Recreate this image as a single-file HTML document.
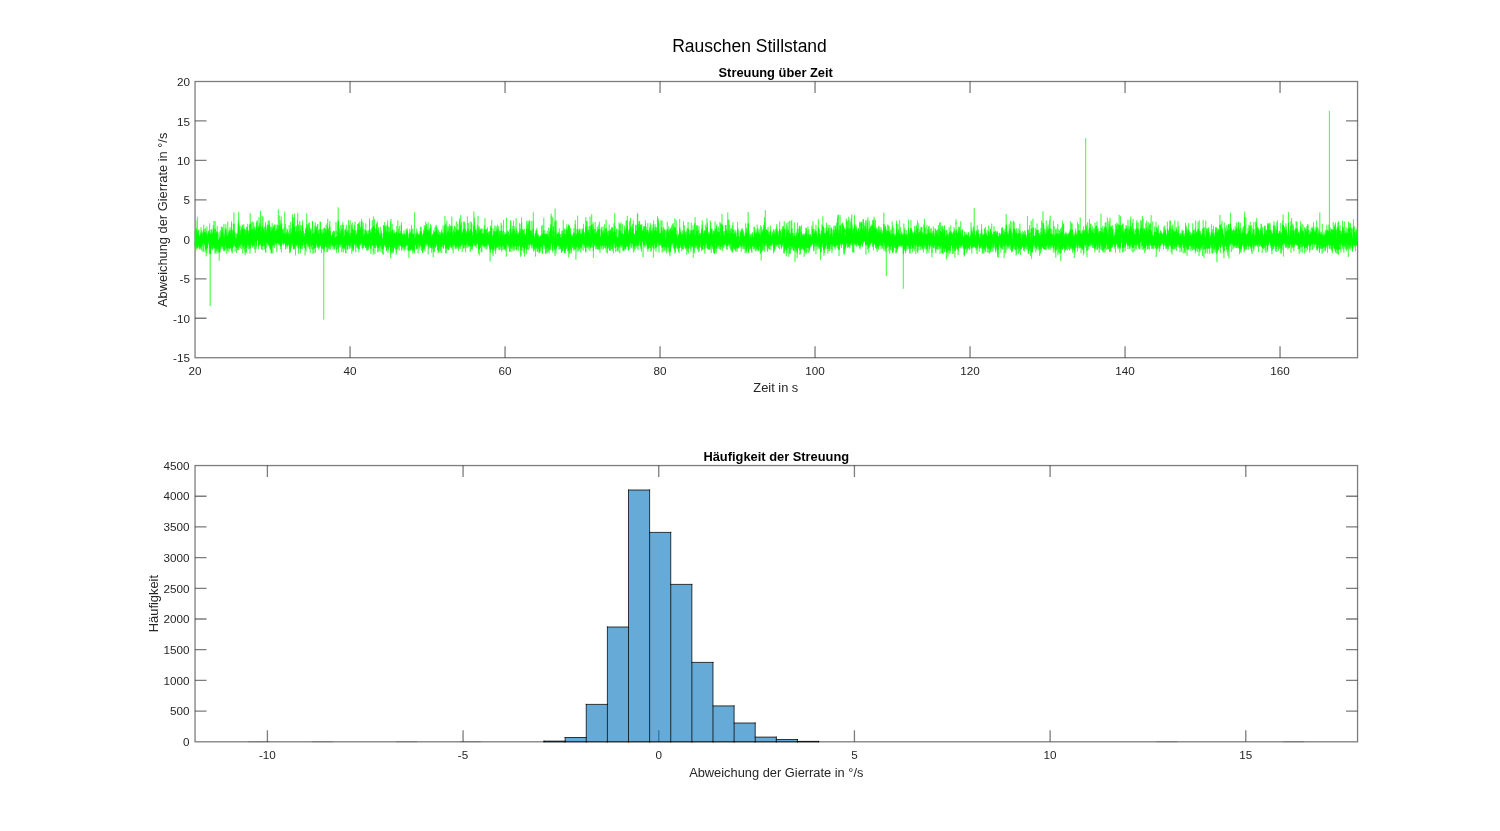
<!DOCTYPE html>
<html lang="de"><head><meta charset="utf-8"><title>Rauschen Stillstand</title>
<style>html,body{margin:0;padding:0;background:#fff;}body{width:1500px;height:831px;overflow:hidden;font-family:"Liberation Sans",sans-serif;}svg{display:block;position:absolute;left:0;top:0;will-change:transform;}text{font-family:"Liberation Sans",sans-serif;fill:#262626;}.tk{font-size:11.7px;}.lb{font-size:12.85px;}.tt{font-size:12.86px;font-weight:bold;fill:#000;}.sg{font-size:17.5px;fill:#000;}.ax{stroke:#262626;stroke-width:1.3;stroke-opacity:0.6;fill:none;}</style></head><body>
<svg width="1500" height="831" viewBox="0 0 1500 831">
<rect x="0" y="0" width="1500" height="831" fill="#ffffff"/>
<text class="sg" x="749.5" y="52.3" text-anchor="middle">Rauschen Stillstand</text>
<text class="tt" x="775.7" y="77.2" text-anchor="middle">Streuung über Zeit</text>
<g class="ax">
<rect x="195.05" y="81.5" width="1162.5" height="276.22"/>
<path d="M350.05 357.72v-11.50M350.05 81.50v11.50M505.05 357.72v-11.50M505.05 81.50v11.50M660.05 357.72v-11.50M660.05 81.50v11.50M815.05 357.72v-11.50M815.05 81.50v11.50M970.05 357.72v-11.50M970.05 81.50v11.50M1125.05 357.72v-11.50M1125.05 81.50v11.50M1280.05 357.72v-11.50M1280.05 81.50v11.50M195.05 318.26h11.50M1357.55 318.26h-11.50M195.05 278.80h11.50M1357.55 278.80h-11.50M195.05 239.34h11.50M1357.55 239.34h-11.50M195.05 199.88h11.50M1357.55 199.88h-11.50M195.05 160.42h11.50M1357.55 160.42h-11.50M195.05 120.96h11.50M1357.55 120.96h-11.50"/>
</g>
<text class="tk" x="195.05" y="375.1" text-anchor="middle">20</text>
<text class="tk" x="350.05" y="375.1" text-anchor="middle">40</text>
<text class="tk" x="505.05" y="375.1" text-anchor="middle">60</text>
<text class="tk" x="660.05" y="375.1" text-anchor="middle">80</text>
<text class="tk" x="815.05" y="375.1" text-anchor="middle">100</text>
<text class="tk" x="970.05" y="375.1" text-anchor="middle">120</text>
<text class="tk" x="1125.05" y="375.1" text-anchor="middle">140</text>
<text class="tk" x="1280.05" y="375.1" text-anchor="middle">160</text>
<text class="tk" x="190" y="362.32" text-anchor="end">-15</text>
<text class="tk" x="190" y="322.86" text-anchor="end">-10</text>
<text class="tk" x="190" y="283.40" text-anchor="end">-5</text>
<text class="tk" x="190" y="243.94" text-anchor="end">0</text>
<text class="tk" x="190" y="204.48" text-anchor="end">5</text>
<text class="tk" x="190" y="165.02" text-anchor="end">10</text>
<text class="tk" x="190" y="125.56" text-anchor="end">15</text>
<text class="tk" x="190" y="86.10" text-anchor="end">20</text>
<text class="lb" x="775.8" y="392.0" text-anchor="middle">Zeit in s</text>
<text class="lb" transform="translate(166.5 219.8) rotate(-90)" text-anchor="middle">Abweichung der Gierrate in °/s</text>
<path d="M195.1 245.3l.2-2.1l.2-2.6l.1 4.5l.2-6.4l.1-10.4l.2 14.6l.1-.9l.2-5.3l.1 1l.2-3.7l.2 2.2l.1 4.8l.2 4l.1-13.3l.2 5.1l.1 6.6l.2 1.8l.1-8.3l.2 7.7l.2-5.7l.1-4.6l.2 6.3l.1-.9l.2 .4l.1-1.6l.2-.5l.1-.5l.2 1.5l.1 .2l.2 1.5l.2 1.2l.1 3.9l.2-8.5l.1 .1l.2 5.9l.1-2.9l.2 3.6l.1-11.5l.2 10.6l.2-1.8l.1 5.1l.2-3.9l.1 1.6l.2-7l.1 3.9l.2-4.5l.1 2.6l.2 2.8l.1 1.7l.2-2.1l.2-.3l.1 .4l.2-.5l.1-1.5l.2-8.2l.1 9.6l.2-2.1l.1-5.2l.2 6.5l.2 3l.1-7.8l.2 5l.1 .1l.2 4l.1-2.3l.2-9.2l.1 8.7l.2-2.3l.1-3.6l.2 7.4l.2 6.8l.1-15l.2 5l.1 5.5l.2-5.7l.1 8.3l.2-9.9l.1 5.3l.2-2.8l.2 4.4l.1-3.9l.2-.2l.1 2.1l.2-7.1l.1 5.3l.2-5.9l.1 3.8l.2 .5l.1-5.3l.2 3.8l.2-3.6l.1 4.7l.2 5.6l.1-3.3l.2 3.1l.1-4.6l.2 13.9l.1-18.2l.2 8.5l.2 4.2l.1-10.6l.2 3.7l.1-7.8l.2 3.3l.1 6.1l.2 2.1l.1-2.7l.2 .3l.1-6.1l.2 2.9l.2 4.3l.1 1.3l.2-.6l.1-.7l.2 .2l.1-10.7l.2-2.2l.1 14l.2-2.7l.2-5.1l.1 1.2l.2-.8l.1 6.1l.2-3.3l.1-4.2l.2 2.6l.1 6.1l.2 3.3l.1-19.6l.2 12.5l.2 2.3l.1 1.2l.2-2.3l.1-1.9l.2-4.6l.1 7l.2-7.1l.1 2.7l.2-1.5l.2 8.5l.1 2.6l.2-16.6l.1 6.2l.2 7l.1-3.8l.2 2.3l.1 3.6l.2-4l.1-1l.2-1.2l.2-.7l.1 .5l.2 2.8l.1-.2l.2 9.5l.1-5.4l.2-3.8l.1-5l.2 5.8l.2 1.2l.1-5.2l.2 7.3l.1-8l.2 1.7l.1-3.3l.2 5.4l.1-2l.2 3.1l.1-5.6l.2 4.2l.2-3.2l.1-.9l.2-6.4l.1 13l.2-3l.1-5.5l.2-2.5l.1-2.1l.2 3.9l.2 3.8l.1-.8l.2 2.8l.1-1.6l.2 3.2l.1-2.3l.2-3.1l.1 5.2l.2-.7l.1 2l.2 0l.2-3.7l.1 1.9l.2 2.4l.1-12.1l.2 5.6l.1 3.7l.2-3.5l.1-8.4l.2 11.4l.2-8.9l.1 9.6l.2 1.6l.1-4.7l.2 8.7l.1-3.4l.2-7.7l.1 5.4l.2-3.1l.1 5.4l.2-9.1l.2 5.3l.1-.2l.2-1.8l.1 3.2l.2-3.4l.1-3.3l.2 11.7l.1-5.3l.2-7.9l.2 6.7l.1-5.9l.2 5.2l.1-5.7l.2 2.6l.1-1.4l.2 9.3l.1-4.5l.2-4.3l.1 7.4l.2-9.7l.2 6.8l.1-4.6l.2 6l.1-1.6l.2-6.8l.1-3.6l.2 17.2l.1-7.2l.2 8.1l.2-6.4l.1 .4l.2-3.8l.1-4.3l.2 3.5l.1 6.4l.2-.7l.1-3.7l.2-5l.1 6.3l.2-17.2l.2 17.5l.1 1l.2-6.5l.1 3.1l.2 1.1l.1 .5l.2-2l.1 3.5l.2 2.5l.2-.3l.1-2.4l.2 .8l.1-2.9l.2-.1l.1 3.8l.2-1.5l.1 6.1l.2-5l.1-.5l.2-1.3l.2-.6l.1-3.3l.2 7.8l.1-3.7l.2-2.4l.1 1.2l.2 1.9l.1 .6l.2-14.3l.2 13.2l.1-18.3l.2 14.5l.1 4.1l.2 .3l.1 2.5l.2-.7l.1-1.4l.2-2.8l.1 1.4l.2-5.8l.2 .7l.1 3l.2 5l.1-9.9l.2 3.4l.1 .9l.2-1.9l.1 6.6l.2-9l.2 3.3l.1-5.3l.2 8.1l.1 1.2l.2-10l.1 9.3l.2-7l.1 2l.2 5.5l.1-7.4l.2 10.7l.2-1.2l.1-3.5l.2-.3l.1-8.8l.2 15.3l.1-5.8l.2 1.3l.1-1.2l.2-6.7l.2 5.3l.1 2.4l.2-3.2l.1 6.9l.2-7.3l.1-1.8l.2 5.2l.1-.4l.2 6.8l.1-5.7l.2 6.1l.2-13l.1 6.7l.2 .1l.1-2l.2 .4l.1-6l.2-1.8l.1 4.1l.2-6l.2 11.5l.1 3.4l.2-5.7l.1 2.1l.2-1.3l.1-6.1l.2 9l.1-6l.2-1l.1 4.8l.2-1l.2-3.3l.1 4l.2-7.7l.1 15.2l.2-24.1l.1 18.7l.2-1.3l.1-5.9l.2 2.9l.2 2l.1-1.4l.2-9.9l.1 11l.2 1.3l.1-1l.2 1.1l.1-6.4l.2 .6l.1 8l.2-5.7l.2 6.6l.1-2.4l.2-6.7l.1 6l.2-4.5l.1-2.7l.2 7.2l.1-11.9l.2 6l.2-.4l.1-3.4l.2 5l.1 1.6l.2 .9l.1-1.1l.2 1.3l.1 .9l.2 1.1l.1-3.6l.2 1.2l.2-3.4l.1-1.4l.2 5.5l.1-7.9l.2 12l.1-14.3l.2 9.3l.1-.6l.2-10.1l.2 10.7l.1-.9l.2 2l.1-2.7l.2-.9l.1-.5l.2 3.3l.1-1.1l.2-5.5l.1 12.8l.2-6l.2-.7l.1-12.5l.2 14.1l.1-4.5l.2 .7l.1 6.8l.2-7.2l.1-2.3l.2-3.1l.2 8.3l.1 3.5l.2-10.2l.1 8.5l.2-4.3l.1 3.6l.2-4.3l.1 9.3l.2-8l.1 4.3l.2 1.5l.2-15.9l.1 9.9l.2 2.8l.1-3.5l.2-4.8l.1 14.4l.2-3.2l.1-3.6l.2-3.5l.2 2.6l.1-4.9l.2 8l.1-7.5l.2 .3l.1 5.3l.2-3.8l.1-3l.2 13l.1-4.1l.2-3.8l.2-1.9l.1 .8l.2 3.3l.1 7.5l.2-6.6l.1 6.9l.2-13.5l.1-.8l.2 7.4l.2-4.8l.1 2.9l.2 .7l.1 2.5l.2-3.1l.1 1.9l.2 .1l.1-9.7l.2 7l.1 5.3l.2-3.4l.2-1.4l.1-9.4l.2 7.8l.1-.3l.2-5.7l.1 4.7l.2-4.6l.1-3.1l.2 16.2l.2-1.4l.1-1.9l.2-5.3l.1 .4l.2 9.4l.1 .7l.2-12.3l.1 1.7l.2 0l.2-1.5l.1 12.3l.2-14.4l.1 15.5l.2-5.6l.1 5.8l.2-8.9l.1-5.6l.2-3.4l.1 7.7l.2-1.4l.2 6.7l.1-7.5l.2 9.9l.1-1.8l.2-5.7l.1-3.7l.2 5.8l.1-2.4l.2-1.4l.2 .1l.1 2l.2-1l.1 4.1l.2-2.3l.1-.3l.2-.3l.1-7.7l.2 5.7l.1 3l.2 .5l.2-.1l.1 3.5l.2-1.3l.1-8.8l.2 7l.1-6.5l.2 .2l.1 8.4l.2-11.4l.2 9.9l.1-.1l.2-7.5l.1 9l.2-2.2l.1 .8l.2-4.2l.1-1.7l.2 5.5l.1 1.2l.2 1.5l.2-5.4l.1 1.7l.2 1.7l.1-15.8l.2 16.2l.1-6.3l.2 6.7l.1-3.1l.2-10.7l.2 11.6l.1 5.7l.2-4.8l.1 2.8l.2-6.5l.1-3.5l.2-7.6l.1 19.8l.2-6.6l.1-.2l.2 1.7l.2-4.7l.1 2l.2-3.9l.1 .6l.2 1.4l.1 3.1l.2-3.2l.1 3.1l.2-.5l.2 3.3l.1 1.5l.2-7l.1-.2l.2-3.5l.1 3.4l.2 6.3l.1-6.2l.2 2.3l.1-1.5l.2-.7l.2 4.1l.1 2.3l.2-2.2l.1 5.3l.2-5.7l.1 3.2l.2-3.8l.1-2.8l.2 6.4l.2-6.6l.1 3.4l.2 2.8l.1-8.4l.2 11.1l.1-2.9l.2-4.6l.1 2.8l.2 2.6l.1-6.1l.2-.4l.2 5.3l.1-6l.2 4.6l.1-3.8l.2 4.7l.1-4.8l.2 5.2l.1-3.9l.2 7.3l.2 2.7l.1-10.6l.2 .3l.1 3.4l.2 6.4l.1-10.4l.2 9.8l.1-7.1l.2 1.9l.1-2.8l.2-1.5l.2 2.9l.1-.5l.2-4.1l.1 6.9l.2-7.1l.1 .3l.2 3.3l.1-2.8l.2 2.6l.2 2.1l.1-2.5l.2-12.2l.1 4.3l.2 10.3l.1 4.7l.2-.3l.1-.4l.2-4.2l.1-14l.2 5.1l.2 13.3l.1-6l.2 4.4l.1-1l.2-5.1l.1 4l.2-6.5l.1 4.5l.2 3.8l.2-3.2l.1-8l.2 11.7l.1-4.7l.2-3.5l.1 6.7l.2-1.9l.1 1.8l.2 .1l.1-3.2l.2-4.8l.2 7.9l.1-3.4l.2 4.3l.1-3.6l.2 1.4l.1 4.2l.2-14.1l.1 12.1l.2-2.6l.2-3.1l.1 0l.2-.4l.1 6.9l.2-5l.1-1.3l.2-.4l.1 5.2l.2-4l.1 4.4l.2 5.2l.2-5.1l.1-11.7l.2 9.4l.1-3.1l.2 8l.1-3l.2-6.7l.1 6.2l.2-3.6l.2-.1l.1 4.6l.2 2.7l.1-6l.2-11.2l.1 4.3l.2 2l.1 6.7l.2-4.7l.1 2.3l.2 2.4l.2 .4l.1-4.4l.2 .2l.1 7.4l.2-5.7l.1-.4l.2 1.9l.1 2.4l.2-.4l.2-4.9l.1 2.2l.2-2l.1 .7l.2 4.2l.1-3.9l.2 4.4l.1-.9l.2-6.8l.1 4.7l.2 .2l.2-1.3l.1 1.2l.2 2.8l.1-5.2l.2 3.3l.1 .4l.2-7.6l.1-3.3l.2 8.8l.2-3.9l.1 5.9l.2 2.6l.1-1.6l.2-.4l.1-6.1l.2 3.2l.1-6l.2 12.1l.1-7.4l.2 3.8l.2-1.6l.1 .8l.2-4.8l.1-2.9l.2 2.5l.1 2.8l.2 .6l.1-4.7l.2 3.2l.2 3.1l.1 3.4l.2-6l.1 7.2l.2-5.2l.1 .6l.2 .3l.1 .6l.2-8l.1 8.1l.2 2.5l.2-10.1l.1 4.7l.2-1.1l.1-1.7l.2 5.2l.1 4.1l.2-8l.1 10.6l.2-10.1l.2 1.8l.1 4.3l.2-.9l.1-9.3l.2 5.5l.1-3.4l.2-6.4l.1 18.1l.2-6.7l.1-2.1l.2 2.2l.2-3.2l.1 1l.2 4.4l.1-2.7l.2-8l.1 8.9l.2-3.5l.1 3l.2-8l.2 9.3l.1 2l.2-8.3l.1 8.1l.2-3.8l.1 .8l.2-3.5l.1-3.6l.2 11.9l.1-7.7l.2 4.2l.2 2.1l.1-6.3l.2 1.7l.1 1.4l.2-1.7l.1 2.9l.2-13.6l.1 11.5l.2-5.2l.2-5.8l.1 11.7l.2-4.2l.1 4.1l.2 1l.1-6.2l.2 12.1l.1-5.1l.2-3.5l.1-3.5l.2 4.7l.2-4.1l.1 8.7l.2-5.1l.1 3.2l.2 2.5l.1-12.1l.2 4.4l.1-.1l.2-2.7l.2 2.4l.1 1.9l.2-6.6l.1 9.7l.2 4.8l.1-4.8l.2-3.8l.1 4.4l.2-3.8l.1 1.3l.2 .2l.2-2.4l.1 5.7l.2-1.3l.1-9.6l.2 5.5l.1-7.7l.2 6.7l.1 1.4l.2 1.9l.2 6.3l.1-10.7l.2 6.4l.1-.2l.2-.3l.1-.3l.2-15l.1 10.9l.2-4.8l.1 1.1l.2 1.6l.2-.3l.1 .1l.2 2.6l.1-5l.2 3.5l.1 3.6l.2 2l.1-11.7l.2 7.4l.2 6.6l.1-3.6l.2 .2l.1 3.7l.2-3.2l.1-7.3l.2 3.5l.1 2.6l.2 1.2l.1-1.2l.2-2.1l.2 3.7l.1-2.3l.2 1.8l.1 .5l.2-4.3l.1 .1l.2-1.7l.1 3.3l.2-4.7l.2 10.8l.1-7l.2 4.2l.1-4.8l.2 5.8l.1-9.6l.2 5.7l.1-1.6l.2 6.7l.1-4.9l.2 5.4l.2-7.3l.1 4l.2-3.6l.1 2.3l.2 1l.1-.1l.2 2.5l.1-4.9l.2-.6l.2-2.7l.1 1.6l.2 4.6l.1 2.2l.2-1.2l.1-.5l.2-1.7l.1-5.6l.2 .1l.1 5.9l.2-1l.2-2.8l.1 7.4l.2-14.6l.1-10.2l.2 21.5l.1 .7l.2-11.1l.1 9.4l.2 3.3l.2-3.3l.1-2.6l.2-5.3l.1 7.4l.2-3l.1 5.4l.2-6.7l.1-.3l.2 .9l.1 3.6l.2 .1l.2 .8l.1-3.4l.2 .2l.1-3.3l.2 7.6l.1-8.7l.2 10.3l.1-6.4l.2-.1l.2-4.6l.1 1l.2 3.2l.1 5.9l.2-3.8l.1 0l.2-1.5l.1 9.8l.2-7.5l.1-.6l.2 1.8l.2-2.9l.1 4.3l.2-3.7l.1 1.9l.2 1.6l.1-7.3l.2 2.5l.1-.3l.2 6.8l.2-1.1l.1-1l.2 0l.1-8.8l.2 11.8l.1-10.2l.2-3.3l.1 9.7l.2-6l.2 4l.1 1.8l.2 1.9l.1-.9l.2-1.3l.1 5.5l.2-11.9l.1 7.7l.2-.4l.1-3.1l.2-3.9l.2-1.2l.1 9.8l.2-3l.1-.9l.2 6.1l.1-8.4l.2-1.1l.1 7.6l.2-4.1l.2-.6l.1-1.4l.2 5.5l.1-5.2l.2 2.7l.1 2l.2-5.9l.1 .2l.2 4.1l.1-1.9l.2 2.5l.2-3.3l.1-.8l.2 1l.1-5.6l.2 9.5l.1-7.5l.2 5.9l.1 5l.2 1.3l.2-2.2l.1-9.3l.2-1.8l.1 12.8l.2-.9l.1-7.5l.2-2.1l.1 6.8l.2-2.7l.1-8.9l.2 10l.2-4.2l.1 5.9l.2-12.6l.1 8.6l.2 4.4l.1-3.4l.2 2.1l.1-1.1l.2 .3l.2-.4l.1 2.7l.2-3.7l.1-1.9l.2 2.1l.1-3.8l.2 4.2l.1-6.2l.2 7.1l.1-1.7l.2-5.7l.2 6.2l.1 2.9l.2 2.6l.1-3.3l.2-2.2l.1-2l.2-3.2l.1-5l.2 12.4l.2 1.6l.1-9.9l.2 1.3l.1 5.1l.2 .3l.1 2.1l.2-.6l.1 1.2l.2-10.9l.1 1.5l.2 7.9l.2-3.2l.1 2.9l.2-9.2l.1 5.9l.2 3l.1 .6l.2 .2l.1-13.1l.2 3l.2 8.7l.1 .2l.2-.7l.1-2.3l.2 2.4l.1 4.4l.2-7.7l.1-1l.2 6.1l.1 2.6l.2-4.1l.2-.9l.1-1.1l.2-5.1l.1 4.9l.2 4.6l.1-1.5l.2-2.2l.1-2.2l.2 5.1l.2-1.7l.1-4.2l.2 8.1l.1-14.2l.2 10.5l.1-4.2l.2 1.3l.1-2.9l.2 7.8l.1-6.9l.2 .9l.2 6.3l.1-1.4l.2 1.5l.1-4.3l.2-2l.1 8.4l.2-5l.1 .6l.2 5.3l.2-3.4l.1-2.1l.2 3.9l.1-10.2l.2 8.1l.1-.1l.2-4l.1 1l.2 3l.1 1.5l.2-2.3l.2-7.7l.1 11.4l.2-4.3l.1-4.6l.2 6.3l.1 5.9l.2-12.1l.1-.3l.2 1.3l.2 3.1l.1-5.1l.2 4.9l.1-7.3l.2 3.3l.1-8.1l.2 14.2l.1-6.4l.2 1.2l.1-3.4l.2 1.1l.2 10.3l.1-19.2l.2 15.8l.1-4.3l.2 2.4l.1 4.8l.2-13.1l.1 9.2l.2-13.2l.2 9.9l.1 1.2l.2 9.2l.1-6.9l.2-1.1l.1-.8l.2-.7l.1-4.9l.2 8.2l.1-.1l.2-8.3l.2 8.6l.1-3.7l.2-8.3l.1 7.5l.2 4.7l.1 2.4l.2-2.8l.1-4.2l.2 4.3l.2 5.8l.1-9.3l.2 8.7l.1-9.7l.2 4.4l.1 3.1l.2-5.9l.1 6.5l.2-5.6l.1 2.2l.2-2.9l.2 4.1l.1-2.6l.2-4.3l.1 4.6l.2-.6l.1-3l.2 4l.1-4.2l.2 3l.2 2.1l.1 .8l.2-7l.1 5l.2 .3l.1-4.3l.2 8l.1-5.3l.2 6.1l.1-6.1l.2 .5l.2 8.1l.1-5.4l.2-2.6l.1 4.4l.2-5.4l.1 1.9l.2-1l.1-4l.2-2.5l.2 2.6l.1 3.5l.2 1.3l.1-.4l.2 .4l.1-3.6l.2-5.2l.1 12.1l.2-12.2l.1 7.7l.2 4.6l.2-1.2l.1-11.8l.2 10.1l.1-3.3l.2 1.3l.1 7.1l.2 .1l.1-5.5l.2-9.8l.2 10.9l.1 1.8l.2-.9l.1-1.8l.2 .5l.1-6.8l.2 12.8l.1-11.4l.2 8.6l.1-1l.2 .9l.2-9l.1 5.5l.2 .6l.1-9.8l.2 11l.1-.3l.2-.6l.1-6.8l.2-.8l.2 9.3l.1-2.2l.2-3.9l.1 12.9l.2-9.7l.1 0l.2 7.1l.1-6.5l.2-5.7l.1 1.3l.2-1.8l.2 7.4l.1 .5l.2-13l.1 11.6l.2-8.3l.1 5.2l.2-.5l.1 7l.2 1.8l.2-1.1l.1-4.8l.2 .7l.1 .9l.2-2.9l.1-6.2l.2 1.4l.1 4.9l.2 3.8l.1 .4l.2-4.9l.2-3.7l.1 6.7l.2 1.5l.1-4.7l.2-3.5l.1 5.2l.2-1.8l.1 5.7l.2 4l.2-1.6l.1-9.8l.2 5.1l.1-11l.2 8.7l.1 2.2l.2-.5l.1 2.8l.2 .2l.1-.7l.2-5.5l.2-2.1l.1 8.4l.2-6.6l.1-5.2l.2 3l.1 3.5l.2 2.1l.1-5.3l.2-2.4l.2 8.2l.1-2.5l.2-.9l.1-3l.2 4l.1-4l.2 .6l.1 3.5l.2 2.9l.1-1.7l.2-4l.2-6.5l.1 11.2l.2 4.4l.1-7.5l.2 5.3l.1 .8l.2-3.4l.1 .8l.2-6.1l.2 6.8l.1 1.1l.2-5.5l.1 7.4l.2-3.4l.1-1.4l.2-4.1l.1 4.5l.2 1l.1-2.7l.2-5.7l.2 12.5l.1-5.1l.2-5.5l.1 7l.2-.1l.1-2.9l.2 1.8l.1 .9l.2-.3l.2-5l.1 8.1l.2-3.1l.1-9.2l.2 8.2l.1 1.6l.2-4.1l.1 2.7l.2-7.6l.1 8.8l.2-6l.2 .7l.1-2.6l.2 5.6l.1 .2l.2 3.9l.1-5.7l.2 6.4l.1-3.5l.2-1.3l.2 .9l.1 9.1l.2-12.7l.1 3.4l.2-2l.1 6.3l.2 .1l.1-12.5l.2 7.5l.1 .6l.2 1.5l.2 3.4l.1-6.1l.2 .3l.1 2.1l.2-3.9l.1-4.3l.2 6.5l.1 4.8l.2-5l.2 4.7l.1-3.3l.2 .2l.1-1.2l.2 2.2l.1 2.7l.2-3.2l.1-9.6l.2 8.2l.1 1.9l.2-1.9l.2-4.9l.1 8.5l.2-7.1l.1 8.5l.2-.2l.1-1.9l.2-5.6l.1 .2l.2 3.5l.2-1.9l.1 2.5l.2-.8l.1-4.7l.2 5.3l.1-4.3l.2 3.6l.1-2.3l.2 5.5l.1-2.6l.2 2.8l.2-2.4l.1 1.3l.2-.6l.1-3.8l.2 1.4l.1-1.2l.2-5.3l.1 2.4l.2 4.5l.2 .8l.1-4.7l.2 4.1l.1 .2l.2-6.1l.1 5.3l.2 .2l.1-4.9l.2 6.1l.1-3.3l.2 2.8l.2 3.3l.1-.4l.2-10.6l.1 8.1l.2-10.6l.1 8.3l.2-1.8l.1 1.4l.2-5.3l.2-2.6l.1 9.2l.2 5.3l.1-8.5l.2 .7l.1 4.5l.2-.2l.1-.1l.2-.7l.2 5.6l.1-11.6l.2 2.8l.1 7.5l.2-10.1l.1 2.7l.2 2.7l.1 3l.2-11l.1 2.6l.2 5l.2-10.3l.1 13.7l.2-5.8l.1 2.6l.2-1.3l.1 4.4l.2-4.5l.1-6.6l.2 6.5l.2 1.8l.1-4.2l.2 4l.1-.5l.2 1.8l.1-3.8l.2-8.9l.1 10.2l.2-8.9l.1 3.9l.2 3.8l.2-2.6l.1 6.4l.2-7.5l.1 .5l.2 4.3l.1-11.1l.2 4.8l.1 6l.2 2l.2-3.4l.1 2l.2-6.4l.1 9.6l.2-2.5l.1-1.8l.2-6.8l.1 1.6l.2 2.4l.1 7.8l.2-11.8l.2 9.9l.1 .5l.2-4.5l.1-2.9l.2 6.6l.1 .3l.2-2.1l.1 3.2l.2 3.7l.2-4.5l.1-2.5l.2 2.2l.1 2.6l.2-9.2l.1 5.4l.2-4.8l.1 4.3l.2-1.8l.1-.7l.2-1l.2-3.4l.1 13l.2-5.1l.1-6.9l.2 2.3l.1-1.7l.2 4l.1 1.5l.2 .3l.2-9.4l.1 12.4l.2 0l.1-9.1l.2 1.7l.1 7.1l.2-2.1l.1-10.8l.2 12.3l.1-4.7l.2 .5l.2 .3l.1-6.6l.2 7.1l.1 1.2l.2-4.2l.1 8.4l.2-8.4l.1-1.9l.2 7.1l.2 .7l.1-4.2l.2-5.1l.1 11.2l.2-6.2l.1 3.8l.2-.9l.1-1.6l.2-1.5l.1-3.6l.2 6.2l.2 0l.1-3.8l.2-2.4l.1 3l.2-2l.1 10.2l.2-4.9l.1 .6l.2 2.1l.2-.5l.1-5.2l.2 .2l.1-4.9l.2 6.7l.1 1.3l.2 1.4l.1-.8l.2-2.2l.1 1.8l.2-6.1l.2 8.6l.1-6.2l.2 3.9l.1-.4l.2 3.6l.1-.5l.2-6l.1 1.7l.2-1.2l.2-2.5l.1 3.7l.2 1.2l.1 1.1l.2-9.7l.1 7.1l.2-1.4l.1-7.5l.2 16.7l.1-13.4l.2 8l.2-2.3l.1 .5l.2 7.2l.1-3.8l.2-2.3l.1-1.7l.2 4.6l.1-8.6l.2 3.3l.2-2.5l.1 .7l.2 4.5l.1-10.2l.2 6.4l.1-4.2l.2 9.6l.1 2.2l.2-5.2l.1 1.3l.2 3.7l.2-3.1l.1-3.2l.2 5l.1-4l.2-4.1l.1 6.4l.2 .1l.1-2.4l.2 .2l.2-3.9l.1 6.7l.2-12.1l.1 .9l.2 11.6l.1-2.6l.2-.1l.1-5.5l.2 1.1l.1-10.8l.2 9.2l.2 3.5l.1 4.4l.2-6.6l.1 5.6l.2 .4l.1-1.1l.2 1.8l.1-2.8l.2 1.7l.2 .7l.1-8l.2 8.1l.1-1.2l.2-5.1l.1 1.2l.2-2.9l.1 6l.2 1.8l.1 1.2l.2-11.7l.2 6.3l.1 2.2l.2 2.7l.1-1.7l.2-.1l.1-4.7l.2 8.2l.1-16.3l.2 11.7l.2 1.8l.1-3.5l.2 4l.1 2.3l.2-4.3l.1-.7l.2-1.5l.1-8.2l.2 4.3l.1 6.7l.2-4.2l.2 3.1l.1 6.3l.2-1.8l.1 0l.2-11.5l.1 5.2l.2-1.8l.1 7.2l.2-12.5l.2 9.3l.1-4.1l.2 8.2l.1-5.7l.2 1.1l.1-7.6l.2-7.5l.1 12.9l.2 3.1l.1 .8l.2-.2l.2 0l.1-5.8l.2 7.3l.1-8l.2 4.2l.1 3.9l.2-4.6l.1 2.2l.2 2.2l.2-6.9l.1-1.2l.2 6.5l.1-12.5l.2 9.6l.1 .4l.2-2.9l.1 4.5l.2-1.5l.1 5.9l.2-4.2l.2 1.7l.1-4.3l.2 3.6l.1-8l.2 3.9l.1-.5l.2 8.5l.1-9.5l.2 6.4l.2-2.5l.1-5.6l.2 3l.1 2.5l.2 3.1l.1-6.9l.2 5.7l.1-4.2l.2 1.5l.1-1l.2 2.3l.2-1.3l.1-2.3l.2-1.2l.1 6.5l.2 2l.1-13.1l.2 9.7l.1 1.2l.2 1.2l.2-7l.1-.3l.2 2.8l.1-4l.2 6.1l.1-4l.2-.3l.1 1.1l.2-3.3l.1 2l.2-2.8l.2 5.8l.1 .1l.2 6.2l.1-.1l.2-16.3l.1 11.7l.2-8.6l.1-.5l.2 10.9l.2-5.8l.1 8.9l.2-3.9l.1-4.4l.2 4.6l.1 .8l.2-.5l.1-7.3l.2 6.4l.1-.9l.2-1.5l.2-2.8l.1 4.5l.2-7.1l.1 3.5l.2-7.5l.1-3.2l.2 7.6l.1 8.9l.2 .8l.2-4.2l.1-6.1l.2 10.1l.1-4.4l.2 2.3l.1-6l.2-1l.1-.9l.2 8.6l.1-.4l.2-.1l.2-.4l.1-2.8l.2 3l.1-6.6l.2 7.7l.1-2.6l.2-1.7l.1 .9l.2-5.1l.2-1.3l.1 10l.2 2.5l.1-8.9l.2-1.1l.1-3.6l.2 17.6l.1-6.9l.2-1l.1-8.3l.2 11.6l.2-7.9l.1 3.1l.2 4.7l.1-1l.2-2.6l.1-.4l.2-1.5l.1-5.5l.2 8.1l.2 1l.1-1.4l.2-7.3l.1 11.4l.2-5l.1 1.6l.2-5.9l.1 5.2l.2 1.6l.1-6.6l.2-3.2l.2 3.2l.1 4.6l.2 2.5l.1 .9l.2-3.2l.1 1l.2-3.2l.1 3l.2-8.9l.2 1.4l.1 4.4l.2 6.2l.1-15.5l.2 10.6l.1 2.5l.2-2.2l.1 1.6l.2 .4l.1-5l.2 8.3l.2-3.3l.1-3.2l.2 3.9l.1-1.3l.2-3.5l.1-1.7l.2 7.5l.1-6l.2-5.6l.2 4.4l.1 2.8l.2 .1l.1 1.2l.2-2.9l.1 3.9l.2-3.6l.1 4.8l.2-1.7l.1-1.5l.2 3.9l.2-3.1l.1 4.7l.2-3.6l.1 1.6l.2-3.9l.1 5.4l.2 2.6l.1-7l.2-9.2l.2 1.8l.1 9.9l.2-11.3l.1 13l.2 0l.1-10.4l.2-6.4l.1 17.2l.2-3.7l.1 2.3l.2-4.1l.2 3.6l.1-2.5l.2 2.1l.1-5.3l.2 12.1l.1-13l.2-2l.1 11.7l.2-4l.2-6.6l.1 2.4l.2 4.7l.1-1.8l.2 .7l.1 3.3l.2-8l.1-5.9l.2 7.8l.2 3.5l.1-3.6l.2 9.5l.1-12.6l.2 10.2l.1-2.8l.2-11.3l.1 6.5l.2-.2l.1 6.4l.2-1.8l.2 .3l.1 .2l.2-3.6l.1-8.9l.2 13.8l.1-11.2l.2 8.7l.1 1.1l.2-2.2l.2 3.2l.1-2l.2-4.4l.1 2.9l.2 5.1l.1-2.1l.2 2.4l.1-3.8l.2-1.2l.1-2.5l.2 3.1l.2-7l.1-.3l.2 2.2l.1 5.3l.2 2.5l.1-3.6l.2 3.6l.1-5.7l.2-.4l.2 3.6l.1 5.1l.2-16l.1 4.8l.2 8.4l.1-5.1l.2 2.6l.1-4.1l.2 3.4l.1 3.6l.2-2.5l.2-2.9l.1 4l.2-1.7l.1-5.7l.2 9.5l.1-7.4l.2 5l.1 2.9l.2-3.7l.2-.5l.1-6.3l.2 9.2l.1-6.5l.2 7l.1-6.6l.2-2.2l.1 9.2l.2 1.5l.1-8.3l.2 1.7l.2 2l.1-1.1l.2-6.9l.1 4.6l.2 3.5l.1-3.6l.2-.4l.1-1.8l.2 4.4l.2 1.2l.1-7.9l.2 10.7l.1-8l.2 3.7l.1 .1l.2 .2l.1 3l.2-4.9l.1 .8l.2 3l.2-5.3l.1 5l.2-4.4l.1 .9l.2-2.9l.1 4.4l.2 3.4l.1-15.7l.2 14.8l.2 4.1l.1-10l.2 4.3l.1-2l.2 5.8l.1-3.9l.2-5.6l.1 6.3l.2-7.2l.1 4.1l.2 5.2l.2-1.4l.1-3l.2 1.8l.1-2.7l.2 1.2l.1-5.3l.2 5.5l.1-1.1l.2 6l.2-6.9l.1-4.9l.2 13l.1-6.7l.2-5.9l.1 2.8l.2-4.9l.1 8l.2 .5l.1 .7l.2-1.4l.2-2.2l.1 6.1l.2 2.1l.1-9.4l.2 2.5l.1-5.8l.2 13.3l.1-7.7l.2 .9l.2 6.9l.1-11.8l.2 3l.1 3.1l.2-4.3l.1 3l.2 .8l.1-1.7l.2 6.1l.1-3.2l.2 .6l.2-4.5l.1-1.6l.2 7.5l.1-7.8l.2 6.7l.1-9.6l.2 7.4l.1 3.3l.2 .1l.2-9.2l.1-.9l.2 9.3l.1-5.7l.2 3.2l.1 2.3l.2 7.1l.1-10.7l.2 2.7l.1-7.3l.2 9.4l.2 .2l.1-2.2l.2 5.1l.1-2.5l.2-5.3l.1 1.6l.2-1.9l.1-4.9l.2 5.9l.2 1.6l.1 1.2l.2-1.7l.1-.5l.2 7.9l.1-6.3l.2 2l.1 .9l.2-3.9l.1 9.3l.2-7.9l.2 .4l.1-6.4l.2 5.8l.1 2.1l.2-2l.1-2.8l.2-2.2l.1 7.9l.2-8.7l.2 1.5l.1 10.6l.2-5.5l.1-14.3l.2 8.8l.1 8.4l.2-4.8l.1 1.9l.2-2.7l.1-.1l.2-.3l.2 2.3l.1 .5l.2 1.2l.1-7.4l.2-2.2l.1 5l.2-8.6l.1-1.5l.2 6.9l.2 2l.1-9.9l.2 17.1l.1-2.9l.2-1.6l.1-1.2l.2 1.8l.1 .9l.2-1.4l.1-6.6l.2 2l.2-5.3l.1 11.5l.2-1.8l.1 .8l.2 3.2l.1-4.5l.2-2.5l.1 4.9l.2-5.4l.2 .4l.1 .4l.2 3.5l.1 1.1l.2-13.7l.1 10.5l.2 .7l.1 .4l.2 6.7l.1-.6l.2-4.3l.2-.6l.1 1.9l.2-1.5l.1 3.4l.2-4.9l.1 .1l.2-4.5l.1 8.3l.2-1.9l.2-6.4l.1 4.7l.2-1l.1-5.8l.2 .9l.1 9.2l.2-1l.1-3.3l.2 2.4l.1 .1l.2 4.8l.2-5.2l.1-.5l.2-5.1l.1 4.8l.2-.6l.1 1.3l.2 2.2l.1 1.5l.2-4l.2 .8l.1-3.3l.2 4.7l.1-2.9l.2 6.6l.1-8.2l.2 7.9l.1-8l.2-1.1l.1-.3l.2-.1l.2 .8l.1-1l.2 5.5l.1 3.8l.2-4.1l.1-.1l.2-1l.1-3l.2 5.9l.2-5.1l.1-2.1l.2 8.2l.1-8.4l.2 4.1l.1-2.7l.2 .2l.1 3l.2-2.9l.1 4.7l.2-1.3l.2-5.3l.1 1.6l.2 1.5l.1 3.4l.2 1.9l.1-4.2l.2-4.7l.1 3.7l.2-3.8l.2 4.9l.1 1.6l.2-2.5l.1 5.2l.2-8.8l.1 1l.2 5.7l.1-.2l.2-7.1l.1 11.5l.2-6.8l.2-2.7l.1 5l.2-6.5l.1 6.4l.2-2.5l.1-1.5l.2 8.8l.1-1.8l.2-6.4l.2-.6l.1-2.1l.2 10.2l.1-3.9l.2-5.3l.1 8.2l.2-4.7l.1 .4l.2-1.6l.1 5.3l.2-2.1l.2 0l.1-.5l.2 1.9l.1-11.4l.2 9l.1-5.1l.2 7.5l.1-5.2l.2 2.6l.2-17.7l.1 12.8l.2 1.7l.1-4l.2 4.1l.1-2.6l.2 1.8l.1 6.3l.2 1.8l.1-2.7l.2 2.7l.2 1.3l.1-4.9l.2-10.7l.1 8.3l.2-2l.1-6.4l.2 8.2l.1 1l.2 0l.2 4.7l.1-7.1l.2 .5l.1 .6l.2-.6l.1 8.4l.2-26.2l.1 22.2l.2-9.5l.1 2.7l.2-.7l.2-1.1l.1 13.4l.2-4.7l.1 1.7l.2-3.5l.1 1.3l.2-3.9l.1 2.6l.2 2.2l.2-3.3l.1-3l.2-1.1l.1-.9l.2 5.7l.1-3.5l.2 .4l.1 4.2l.2 1.2l.1-.6l.2-7.6l.2 1.3l.1 3.8l.2 3.4l.1-5.5l.2-1.2l.1 2.3l.2 5.7l.1-2.8l.2 2.9l.2-7l.1 3.5l.2-1.5l.1 2.8l.2-3.8l.1 5.6l.2-.1l.1-1.8l.2-1.8l.1 6.6l.2-10.6l.2 9.1l.1-3.8l.2-1.6l.1-4.9l.2 1.3l.1 9.3l.2-4.6l.1-4.8l.2 7.2l.2-3.9l.1-.2l.2 2.4l.1-9.7l.2 7.8l.1-2.2l.2 .9l.1 8l.2-1.4l.1 1.4l.2-6.2l.2-.6l.1 2.1l.2 0l.1 3.3l.2-4.1l.1-8.3l.2 9.1l.1 2l.2-3.8l.2-2.1l.1 2.2l.2-10.6l.1 1.8l.2 8.2l.1 2.6l.2-9.3l.1 5.2l.2 3.5l.1 .7l.2 .9l.2-12.5l.1 12.9l.2-5.9l.1 11.8l.2-10.2l.1-7.5l.2-1.1l.1 8.7l.2-9.4l.2 7.1l.1 0l.2-4.5l.1 14.4l.2-3.9l.1-2.7l.2-6.5l.1 5.6l.2 .4l.2 .2l.1-.1l.2-2.5l.1 .9l.2-2.4l.1 4.4l.2 1.1l.1-6l.2 7.4l.1-4.4l.2 1.5l.2-.1l.1-3l.2 2.2l.1 3.3l.2 1.5l.1-4.3l.2 1.9l.1-2.7l.2-7l.2 6.5l.1 4.1l.2-3.1l.1 1.5l.2-2.3l.1 2.7l.2 3.2l.1-2.8l.2-3.7l.1-.1l.2 3.4l.2-1.6l.1-3.1l.2 3.2l.1 .1l.2-3.7l.1 2.6l.2 1.6l.1-7.9l.2 3l.2 3.2l.1-3.3l.2-7.2l.1 13.4l.2 1.2l.1-2.8l.2-3.2l.1-2l.2 7.7l.1 3.3l.2-5.6l.2-2.5l.1 2.4l.2 .1l.1-8.1l.2 1.1l.1 11.6l.2-5.6l.1-3.8l.2 5.5l.2-5.2l.1 2.5l.2-1.4l.1 9.9l.2-14.3l.1 7.9l.2 .1l.1-.7l.2 2.6l.1 2l.2-.9l.2-3.9l.1-4.8l.2 4.6l.1-6.9l.2 9l.1-7.4l.2 5.9l.1-2l.2-6.1l.2-2.4l.1 12.6l.2-3l.1 2l.2 .7l.1-4.2l.2 1l.1 3.9l.2-.4l.1-3.2l.2-3.4l.2 1l.1 7l.2 2.7l.1-.4l.2-20.3l.1 21.3l.2-3.7l.1-3.5l.2-11.8l.2 10.5l.1 3.6l.2 1.1l.1-2.9l.2-2.2l.1 1.9l.2 1.7l.1-1.4l.2 3.9l.1-13l.2 11.8l.2-1.1l.1 1.8l.2-3.1l.1-2.8l.2 2.8l.1 .2l.2-5l.1 1.9l.2 2.1l.2 .1l.1 6l.2-3.2l.1-17.4l.2 15.9l.1-.2l.2-4.6l.1 1l.2 3.4l.1 2.4l.2-6.2l.2 5.2l.1 .9l.2-19.2l.1 11.1l.2 4.1l.1-5.3l.2-.8l.1 7.4l.2-1.3l.2-9l.1 4.8l.2-6.1l.1 7.3l.2 14.1l.1-15.6l.2 8.3l.1-9.5l.2 8.7l.1-6l.2-2.2l.2 8.8l.1-3.6l.2-.2l.1 3l.2 1.8l.1-3.9l.2-6.8l.1 6.9l.2 .3l.2 .9l.1-3.4l.2-2.3l.1 3.1l.2-3.6l.1 9l.2-5.1l.1 2.7l.2-1.7l.1 2.6l.2-4.5l.2 6.8l.1-8.3l.2-2.9l.1 3.4l.2-4l.1 2l.2 7.3l.1 1.2l.2-2.7l.2-3.3l.1 1.8l.2-10.8l.1 10.4l.2 5.8l.1-3.9l.2 3.7l.1-2.4l.2 .5l.1-1.8l.2-1.4l.2 2.8l.1 .3l.2-1.2l.1-5.5l.2 1.7l.1 4.4l.2 .2l.1-5.1l.2 8.1l.2-2.9l.1 .3l.2-1.1l.1-5.6l.2 1.5l.1 5.4l.2-4.3l.1 1.9l.2 4.9l.1-7.5l.2-2.2l.2 5l.1 .3l.2-5.6l.1 5.4l.2-7.4l.1 1.3l.2 9.8l.1-1.6l.2-8.8l.2-.9l.1 7.2l.2 4.4l.1-8.9l.2 3.2l.1 0l.2-11.6l.1 18l.2-3.1l.1-7l.2 3.8l.2 3.8l.1-4.7l.2 4.3l.1-7.8l.2 13l.1-6.3l.2 .1l.1-6.1l.2 4.1l.2 4.6l.1-1.6l.2-1.8l.1-2.3l.2 3.8l.1-2.3l.2-9.5l.1 5l.2 .2l.1 .3l.2 .5l.2 2.5l.1 .4l.2-5.7l.1 11.6l.2-11.9l.1 9.2l.2-1.2l.1 .5l.2-3.6l.2-5.3l.1 7.5l.2-.7l.1-7.8l.2 4.5l.1-4.3l.2 7.7l.1-7.8l.2 10.6l.1 3.5l.2-5.4l.2-6.4l.1 4.4l.2 4.1l.1-.2l.2-.8l.1-2.3l.2-6.5l.1 8.5l.2-2.7l.2-4.4l.1 4.8l.2-1.2l.1 .3l.2-7l.1 10.7l.2 2.1l.1-5.9l.2 8.7l.1-4.3l.2-1l.2 1.4l.1-.9l.2-3.2l.1-1.5l.2 5.4l.1-6.1l.2 5.3l.1 4.3l.2-5.4l.2 .4l.1-2.6l.2 1.3l.1 .9l.2 5.7l.1-4.7l.2-3.1l.1-.4l.2 4.8l.1-6.7l.2-7.3l.2 10.3l.1-.5l.2-.3l.1 3.4l.2-4.7l.1-.2l.2 1.2l.1 3.4l.2-3.9l.2 3.1l.1-10.8l.2 13.4l.1-2.1l.2 2.8l.1-2l.2-3.1l.1-.8l.2-2.4l.1 4.5l.2 2.4l.2-4.4l.1 2.1l.2-6.3l.1 4.2l.2 7.8l.1-7.2l.2-3l.1 4.9l.2-.8l.2 1.3l.1 5l.2-6.2l.1-3.3l.2 3.4l.1-9.5l.2 8.8l.1-1.2l.2 2.1l.1 1.3l.2 3.2l.2-7.1l.1 1.7l.2 5.6l.1-10.4l.2-6.8l.1 9.5l.2 5.9l.1-4.4l.2-.1l.2-11.3l.1 12.9l.2 3.3l.1-18.8l.2 12.3l.1 2l.2 3.5l.1-8.9l.2 2.5l.1 7.6l.2 1.9l.2-1.5l.1-2.9l.2-3.3l.1-5.1l.2 5.6l.1 4l.2-4.8l.1-8.5l.2 5.7l.2 5.7l.1-3.4l.2 3l.1-3.1l.2-11.1l.1 15l.2-8.9l.1 5.8l.2 .7l.1-.6l.2-2.1l.2-.3l.1 5.7l.2-10.7l.1 11.4l.2-2.4l.1-2.1l.2 3.6l.1-7.8l.2 4.4l.2-1.3l.1 8.2l.2-11.7l.1 2.1l.2 7.2l.1-7l.2 4.3l.1 .7l.2 5.7l.1-6.6l.2-1.4l.2-1.1l.1-1l.2-.6l.1 9.6l.2-6.5l.1-4.8l.2-3.2l.1 9.7l.2-9.6l.2 5.4l.1 3.7l.2-5.7l.1 7l.2 3.5l.1-1.6l.2-8.8l.1 3.5l.2-13.7l.1 16.8l.2-17.2l.2 14.3l.1 7.7l.2-9.3l.1-6.4l.2 2.4l.1 9.9l.2-5.4l.1-1l.2-7.6l.2 11.6l.1-3.2l.2-8.3l.1 5.6l.2-3.1l.1 8.1l.2-1.3l.1 .5l.2-1.7l.1 .7l.2-1.4l.2 9.5l.1-1.1l.2-3.1l.1 .1l.2-10.2l.1 8.1l.2-3.8l.1 4l.2-3l.2-1.8l.1 5.3l.2-5.5l.1 2.3l.2 2.7l.1-2.5l.2 4.3l.1-6.9l.2-1.9l.1-.9l.2 6.6l.2 6.1l.1-11.1l.2 9.1l.1-10.7l.2 8.2l.1-3.2l.2 .3l.1-3.4l.2 2.2l.2 2.8l.1-8.5l.2 11l.1-2.5l.2-4.8l.1-1.6l.2 8l.1-4l.2-1l.2 7.5l.1-4.4l.2-2l.1 5.2l.2 .5l.1-7.7l.2-4.4l.1 17.2l.2-6.7l.1-3.8l.2 8.6l.2-.2l.1-1.4l.2-7.6l.1 4.4l.2-3.9l.1 1.8l.2 6.3l.1-12.3l.2 7.5l.2-4.8l.1 6.1l.2-2.5l.1 3.3l.2-4.6l.1 .7l.2-7.1l.1 4.9l.2 3.1l.1-4.8l.2 12.3l.2-7.6l.1-.4l.2-3.5l.1 7.6l.2-6.1l.1 2.9l.2-.1l.1-2.1l.2 5.2l.2 2.7l.1-14.5l.2 10.9l.1-4l.2 5.3l.1-10l.2 5.8l.1 2.8l.2-5.8l.1 4l.2-5.3l.2 3.3l.1 2.8l.2-9.8l.1 1.6l.2 12.7l.1-8.4l.2-.3l.1 4.7l.2 6.3l.2-5.4l.1 2.7l.2-10l.1 3l.2-5l.1 10.5l.2-2.1l.1-3.2l.2-5.8l.1 5.7l.2 1.9l.2-2.9l.1 2.2l.2-3l.1 3.6l.2-2.9l.1 5.6l.2-12l.1 12.7l.2-6.7l.2 6.1l.1 .5l.2-.3l.1-.1l.2-5.7l.1 7l.2-.7l.1-.9l.2-6l.1 3.1l.2 2.7l.2-4.8l.1 .1l.2 2.5l.1-7.1l.2 9.9l.1 .2l.2-4.9l.1-6.8l.2 16.8l.2-6.5l.1 1.6l.2-4.2l.1 4.3l.2 0l.1-1.9l.2 5.9l.1-13.6l.2 8.7l.1-9.9l.2 10.4l.2-1.4l.1-4.8l.2 5l.1-1.9l.2 6.7l.1-3.3l.2 4l.1-4.6l.2-2.1l.2 4.4l.1 0l.2-2.5l.1 .6l.2-3.3l.1 4.6l.2-3.4l.1 7.6l.2-3.6l.1-.9l.2-9l.2 4.3l.1-9.7l.2 8.6l.1 6.1l.2-8.9l.1 7.4l.2-1.5l.1 6.5l.2-4.6l.2-.1l.1-.2l.2-8.4l.1-.3l.2 3.8l.1 3.5l.2-3.2l.1 4.3l.2 6l.1-3l.2-6.4l.2-4.2l.1 4.3l.2 8.1l.1-9.6l.2-3.5l.1 9l.2-1.8l.1 0l.2 0l.2-2.9l.1-6.9l.2 13.2l.1-3.8l.2-4.7l.1 4.5l.2-5.1l.1-.6l.2 6.5l.1-3.3l.2-8l.2 11.6l.1 1.1l.2-7.2l.1-3.5l.2 7l.1 .5l.2 1.7l.1 5.4l.2-4.1l.2-1.4l.1-13.9l.2 6.2l.1 9.1l.2 4.8l.1-14.5l.2 9.8l.1-5.2l.2 5l.1 .1l.2-7.9l.2 8.5l.1-.1l.2-4.4l.1 1.2l.2 4l.1-5.3l.2 4.1l.1-2.2l.2-1.4l.2 1.7l.1 .9l.2 1.5l.1 1.4l.2-8.2l.1 6.9l.2 1.4l.1 .4l.2 3l.1-6.4l.2 1.7l.2-.7l.1-15l.2 17l.1-5.6l.2 2.6l.1-1.5l.2 2.6l.1-3l.2 1l.2-2.9l.1 7l.2-7.8l.1 4.2l.2-.9l.1 6.5l.2-4.9l.1-5.8l.2 .7l.1-2.4l.2 3l.2 2.3l.1 5.9l.2-5.8l.1 .7l.2 .3l.1-.7l.2 3.9l.1-.4l.2-5.4l.2-2.8l.1 1.8l.2 .3l.1 6l.2-6.8l.1 3.5l.2 3l.1-7.2l.2 4.8l.1-2.2l.2 6.5l.2-5.9l.1 5.6l.2 1.1l.1-4.4l.2-1.1l.1 2.4l.2 .2l.1-3.9l.2 4.2l.2-2.5l.1 4.5l.2-2.1l.1-.4l.2-5.7l.1 3l.2-10.8l.1 3.6l.2 6.8l.1 8.3l.2-5.1l.2-.7l.1 .6l.2-2.1l.1 .7l.2 1.4l.1-2.5l.2-4.5l.1 9.2l.2-10.6l.2 1.8l.1 4.4l.2-4.3l.1 3.1l.2-1.2l.1 2.7l.2 3.2l.1-14.3l.2 12.1l.1 2.2l.2-.5l.2-.1l.1 1.2l.2-2.3l.1-1l.2-7l.1 9.7l.2-.8l.1-4.1l.2 2l.2-7.4l.1 13.1l.2-6.9l.1-1.6l.2 0l.1 3.9l.2 2.3l.1-7.8l.2 4.1l.1-1.5l.2 5.4l.2-8.1l.1 4.7l.2-1l.1 2.5l.2-2.3l.1 3.9l.2-2.3l.1-6.1l.2 7.2l.2 0l.1-12l.2 6.2l.1 5.7l.2-10.6l.1 6l.2-7.5l.1 7.6l.2 6.9l.1-6.6l.2-1.5l.2 8.3l.1 1.7l.2-10.1l.1 .4l.2 6.2l.1-4.5l.2-.7l.1-.1l.2 8.2l.2-5.2l.1 2.5l.2-7.6l.1-.8l.2 3.9l.1-3.7l.2 2.7l.1 2l.2-2.7l.1 2.2l.2-.2l.2-.7l.1 1.5l.2-7.2l.1 13.1l.2-9.1l.1 4l.2-10.7l.1-2.6l.2 15.4l.2-1.7l.1 1.1l.2 2.5l.1-4.1l.2-1.4l.1-1.5l.2 .8l.1-1.2l.2-1.3l.1 2.5l.2 .2l.2-2.8l.1-2.6l.2 .9l.1 13.2l.2-12.4l.1 1.7l.2 .7l.1-7.3l.2 6.7l.2 4.5l.1-4.1l.2-1.8l.1 .7l.2 1.5l.1 2.3l.2-7.3l.1 5.4l.2-11.8l.1 5.5l.2 2.3l.2 10.3l.1-5.6l.2 .1l.1 6l.2-5.5l.1-.5l.2 2.8l.1-6.7l.2 3.8l.2 4.2l.1-5.9l.2 5.4l.1-1.4l.2-2.4l.1 6.6l.2-.7l.1-8.2l.2 1l.1 4.2l.2-13.9l.2 4.5l.1 12.2l.2-4.8l.1-4.4l.2-2.8l.1 .4l.2 9l.1-8.7l.2 1.2l.2-.7l.1-1.1l.2 12.1l.1-1.1l.2-4.1l.1 .8l.2-3.6l.1 2l.2-2.8l.1 8.6l.2-5.9l.2-4.7l.1 11.6l.2-4.2l.1 .3l.2-6.8l.1 4l.2 8.8l.1-8.1l.2-3.8l.2-1.8l.1 7.9l.2-.6l.1-7.8l.2 8l.1-4.4l.2 2.9l.1-3.5l.2 11l.1-10.4l.2-3.8l.2-3.2l.1 2.5l.2 5.3l.1 6.9l.2-1.4l.1-7.9l.2-.8l.1 7.5l.2-6.7l.2 1l.1 1.8l.2 4.2l.1-11.1l.2 11.4l.1-1l.2 3l.1-7.5l.2 1.2l.1-1.4l.2-1.5l.2-1.1l.1 6.8l.2 .3l.1-3.9l.2-1.7l.1 .5l.2 8.9l.1-4.2l.2-1.4l.2-5.3l.1 9.4l.2-4.1l.1-3.7l.2 6.1l.1-18.4l.2 18.6l.1-8.4l.2 4.3l.2 4.3l.1 1.8l.2-10l.1 9.8l.2-6.9l.1 4.2l.2 .9l.1-6.3l.2 1.6l.1 .7l.2 4.5l.2-5.4l.1 2.1l.2 .6l.1-3.4l.2 .1l.1-.2l.2 5.9l.1-12.1l.2 .2l.2 10.3l.1-2.1l.2-8.5l.1 2.8l.2 11.7l.1-6.8l.2-.6l.1-.7l.2 2l.1 2l.2 4.7l.2-7l.1 3.9l.2-6.1l.1 1.4l.2 3l.1-1.2l.2-1.6l.1 4.3l.2-.5l.2-.9l.1-3.2l.2 .5l.1 .7l.2 1.1l.1-.5l.2 1.3l.1 3.8l.2-6.7l.1-4l.2 7.2l.2-4.7l.1 4.3l.2-7.7l.1 5.7l.2-6.2l.1 6.2l.2 2.6l.1-3.4l.2 2.6l.2-.3l.1-.4l.2 7.5l.1-1.9l.2-8.1l.1-2.3l.2 4.4l.1-10.5l.2 13.5l.1-3.6l.2 3l.2-.6l.1 1l.2 3.1l.1-7.1l.2 7l.1-6.7l.2 2.5l.1 .5l.2-8.2l.2 10.3l.1 .3l.2-4l.1-5.4l.2 7.1l.1 4.9l.2-6.4l.1 3.8l.2-5.3l.1 2.9l.2-3.4l.2 5.1l.1-4.7l.2 8.3l.1-9.3l.2 1.8l.1-2l.2 1.4l.1-6.6l.2 4.5l.2-.9l.1 5.6l.2 3.1l.1-.4l.2-3.1l.1 .6l.2 2.8l.1-4.9l.2 1.9l.1-1.7l.2 1.9l.2 .4l.1 .6l.2 .9l.1-1.1l.2 1l.1-8.3l.2 4.6l.1-3.1l.2 4.1l.2 6l.1-13.8l.2 3.7l.1-2.8l.2 4.6l.1-.5l.2 2.5l.1-.8l.2-6.9l.1 8l.2-5.1l.2 2.6l.1-2l.2 4.8l.1-6.5l.2 10.5l.1-5.5l.2-.2l.1 3.4l.2-2.3l.2-3.4l.1 3.7l.2 1l.1 .7l.2-4.4l.1-2.6l.2 2.8l.1 2.7l.2 .8l.1 .2l.2-2.8l.2 1.8l.1-6.3l.2 6.3l.1-8.5l.2 12.7l.1 2.6l.2-5.8l.1-5.9l.2 6.4l.2-6.7l.1 5.9l.2-1.4l.1-7.3l.2 2.8l.1-12.8l.2 23.9l.1 .4l.2-5.6l.1 2.2l.2-9.4l.2 4.3l.1 3.5l.2-.2l.1-.9l.2 .5l.1-1.5l.2 2.7l.1 .3l.2 1.3l.2-7.4l.1 1.2l.2 4.7l.1-2.5l.2-2.6l.1 3.6l.2 .6l.1 4.5l.2-4.5l.1-4l.2-.1l.2 3.7l.1-2.9l.2-3.5l.1 2l.2 5.9l.1 .6l.2-5.6l.1 5.4l.2-1.8l.2-3.4l.1 6.9l.2-5.7l.1-.4l.2 4.9l.1-2.3l.2-9.6l.1 12.2l.2-3.2l.1-3.2l.2-1.2l.2 2.9l.1 4.2l.2-5.3l.1 5.6l.2-10.6l.1 6.7l.2-5.2l.1 7l.2-6.5l.2 10.8l.1-5.5l.2-.3l.1-.4l.2 1.2l.1-1.2l.2 5.1l.1-11.7l.2-.8l.1 5.8l.2 7.9l.2-10.1l.1-1.5l.2 11.4l.1-3.4l.2-5.2l.1 5.4l.2-4.5l.1 4.7l.2-9.9l.2 3.9l.1 2.7l.2 3.2l.1-2.1l.2-1.9l.1 1.9l.2-2l.1 2.9l.2-5.8l.1 2l.2 3.6l.2-9.8l.1 10.2l.2-1.8l.1-2l.2 3.5l.1-4.5l.2-2.4l.1-.2l.2 1.8l.2 3.8l.1 .4l.2 2.5l.1-1.6l.2-11l.1 8.5l.2 4.1l.1 1.5l.2-2.6l.1-2.1l.2-13.9l.2 2.8l.1 7.3l.2 7.3l.1-11.9l.2 9.9l.1-7.5l.2 8.4l.1-2.7l.2 2.1l.2-.1l.1-.1l.2-8.2l.1 2.2l.2-2l.1-.1l.2 .1l.1 8.8l.2 3.5l.1-7.7l.2-4.1l.2 6l.1 1.2l.2-2l.1 1.4l.2-.2l.1 1.9l.2-7.3l.1 7.4l.2 1.9l.2-5.1l.1 1.4l.2 4.7l.1-8.7l.2 1l.1 3.4l.2 .8l.1-5.2l.2-.4l.1-5.1l.2 2.8l.2 10.3l.1-1.1l.2-.3l.1-1l.2-2.2l.1-.2l.2-2.5l.1 4.2l.2 1.9l.2-3.4l.1-1.5l.2-2.5l.1 4.1l.2-1.4l.1-2.1l.2 3.2l.1-1.1l.2-5.1l.1 9.5l.2-5l.2 .2l.1-4.1l.2 12.8l.1-.7l.2-8.9l.1 7l.2-9.4l.1 1.6l.2 1l.2 5.4l.1-3l.2 1.7l.1-4.3l.2 1.9l.1 .9l.2-1.9l.1 .3l.2-6.1l.1 .8l.2 2l.2 8.7l.1-5.5l.2-5l.1 9.3l.2-1.4l.1-3.4l.2-.6l.1 2.7l.2-.4l.2-2.9l.1 1l.2 1.9l.1 2.7l.2-4.6l.1 .3l.2 .6l.1 4.6l.2-14.4l.1 10.9l.2 1.6l.2-.4l.1 1.7l.2 .3l.1-1.8l.2-2.9l.1 3.2l.2 .4l.1-1.4l.2-.9l.2-1.8l.1 7.3l.2-2.3l.1 1.2l.2-4.8l.1 1l.2 2.2l.1-8.6l.2 0l.1 7.7l.2 .8l.2-3.7l.1-5.5l.2 6.4l.1 .7l.2 .9l.1-3.4l.2-1l.1-7.9l.2 10.9l.2-3.1l.1 10.1l.2-8.7l.1 5.1l.2-3.1l.1-1.4l.2-.1l.1 0l.2 3.6l.1-2.5l.2-2.5l.2 12.7l.1-9.6l.2 .1l.1-2.4l.2 5.2l.1-11.5l.2 16.3l.1-4.4l.2 .7l.2-5.8l.1 4.1l.2-13.2l.1 11.1l.2 .8l.1-.9l.2 4.5l.1-3.1l.2-5.9l.1 6.7l.2-4.2l.2 .3l.1 .6l.2 6.6l.1-.5l.2-8.8l.1 .2l.2 8.6l.1-2.4l.2-3.1l.2 2.6l.1 .6l.2-7.4l.1 2.7l.2-4.3l.1 11.6l.2-17.5l.1 14.8l.2-6.8l.1 5.5l.2 3.5l.2-9.1l.1 4.5l.2 .7l.1 1.4l.2 3.8l.1-8.9l.2 3.1l.1 5.8l.2-6l.2-1.1l.1 4.3l.2-1.7l.1 3.5l.2-10.2l.1 5.2l.2-.2l.1 4l.2-3.4l.2 .8l.1 .9l.2 3.2l.1-6.9l.2 8.6l.1-11.7l.2 3.6l.1 .3l.2-3.9l.1 10.1l.2-8.4l.2 7.2l.1 6.2l.2-11.8l.1 9.1l.2-7.6l.1-.4l.2 1.9l.1-1.7l.2-.1l.2 4.5l.1-5.5l.2-6l.1 2.1l.2 7.5l.1 .2l.2 2.8l.1-6.6l.2-5.9l.1-1.5l.2 10.8l.2-1l.1-3.9l.2 2.9l.1 7.7l.2-8.5l.1 .5l.2-.3l.1-.7l.2-.8l.2 3.2l.1 3.9l.2-6.4l.1-2.9l.2 5.8l.1 2.6l.2-7.7l.1 7.8l.2-1.7l.1-3.1l.2 6.1l.2-4.5l.1 4l.2-8.6l.1 6.1l.2-4.5l.1 5.5l.2-1.4l.1 7.4l.2-13.9l.2 6.2l.1 3.3l.2-1.3l.1-.9l.2-2.2l.1-4.6l.2 5.4l.1-5.6l.2 7.6l.1-11.5l.2 14.8l.2-14.5l.1 9.4l.2-.2l.1 .7l.2-3.7l.1 8.2l.2-7.9l.1 5.1l.2-1.9l.2-1l.1 1.6l.2-.8l.1-3.1l.2 .5l.1-2.7l.2 10.7l.1-5.7l.2-3.6l.1 1.6l.2 4.6l.2-3.7l.1-2.8l.2-1.3l.1 2.1l.2 3.8l.1-1.7l.2-3.6l.1 6.8l.2-4.5l.2 3.5l.1 .6l.2-2.4l.1-3.3l.2 2.1l.1-2.7l.2 4.9l.1-1.6l.2 1l.1-2.2l.2-1.4l.2-4.8l.1 7.8l.2-3.7l.1-8.9l.2 14.6l.1-4.9l.2 4l.1 3.9l.2-1.1l.2-4.2l.1 3.2l.2-3.8l.1-5.4l.2 5.1l.1 0l.2 2.2l.1-8.9l.2 5l.1 1.7l.2-3.8l.2 1.7l.1 1.9l.2-9l.1 11.5l.2-1.5l.1-1.8l.2 1.2l.1 .2l.2-4.5l.2 5.3l.1 4.5l.2-2.4l.1-1.7l.2-1.9l.1 4.3l.2-6.6l.1 1.2l.2-5.2l.1-5.9l.2 9.1l.2 .4l.1 4.5l.2-2.2l.1-6.1l.2 3.3l.1 6l.2 .9l.1-5.8l.2 2.4l.2 2.6l.1 .1l.2-1.4l.1 10.6l.2-11.5l.1 .9l.2-4.5l.1 4.9l.2-6l.1 9.1l.2-5.9l.2 2.8l.1-11.1l.2 10l.1 1.2l.2-.3l.1 .5l.2-2.5l.1-13.8l.2 16.3l.2-1.9l.1-7.6l.2 9.8l.1-5.5l.2 1.5l.1 11.1l.2-16.6l.1 14.9l.2-7l.1-4l.2 6.6l.2-2l.1 3.3l.2-9l.1 4.1l.2-.3l.1 3.7l.2-3.4l.1 5.9l.2-13.1l.2 6.6l.1-9.5l.2 6l.1 2.3l.2-3l.1 3.6l.2 1.7l.1-4l.2 8.9l.1-.4l.2 3.4l.2-17.3l.1 3.4l.2 8.2l.1-6.9l.2-2.5l.1 6.7l.2 2.6l.1 2.9l.2-7.4l.2 .4l.1 .6l.2 1.9l.1 5.9l.2-3.9l.1-1.4l.2 1.1l.1-2.6l.2 2.1l.1 .9l.2-9.4l.2 3.7l.1-.8l.2-3.3l.1 8.3l.2 1l.1-4.4l.2 3.3l.1 2.9l.2-5l.2 2.9l.1-1.4l.2-4.7l.1 5.1l.2-4.2l.1 3.1l.2-1.7l.1 3.1l.2 .1l.1-3.6l.2 5.7l.2-7.6l.1-1.3l.2 8.9l.1-1.5l.2-4.9l.1 7.5l.2-6.3l.1 7.4l.2-12.7l.2 1.9l.1 1.2l.2 8l.1-11.1l.2 9.8l.1-2.6l.2 1.4l.1-3.3l.2 4.8l.1-4.9l.2 3.8l.2 2.9l.1-18.2l.2 15.5l.1-2.1l.2-1.1l.1 1.5l.2-1.4l.1 3l.2-6.1l.2 5.5l.1 3.8l.2 4.3l.1-6.2l.2-3.3l.1-6.5l.2 9.2l.1-.6l.2-3l.1-14.3l.2 16.4l.2-8.2l.1 5.4l.2 3.2l.1-3.2l.2 .5l.1 .9l.2 1.2l.1 1l.2-7.6l.2-.3l.1 6.8l.2 1.2l.1-7.8l.2 1.5l.1 6.3l.2-7.1l.1 6.3l.2 1.3l.1-10.3l.2 9.6l.2-5.3l.1 3.6l.2-1.3l.1 .2l.2 .2l.1 9.4l.2-6.3l.1-6.5l.2-.7l.2 7.4l.1 4.1l.2-1.8l.1-6.8l.2 3.4l.1-.1l.2-4.3l.1-.3l.2 6.4l.1-7l.2 3.9l.2-1.1l.1-3.1l.2 3.2l.1-5.3l.2 4.8l.1-4.5l.2-5.8l.1 14.5l.2-3.8l.2-5l.1 9.6l.2-3.5l.1-.5l.2 .3l.1-4.3l.2 4.2l.1-12l.2 12.5l.1 .1l.2-1.2l.2-5.2l.1 10.9l.2-4.5l.1-6.6l.2 7.3l.1 .7l.2-12.9l.1 7.4l.2 4l.2 2.6l.1-16.2l.2 9.3l.1 2.9l.2-14.4l.1 12.2l.2 1.3l.1 4l.2-1.7l.1 4.8l.2-11.3l.2 5.7l.1-.8l.2 1.9l.1 .7l.2-5.9l.1 3.8l.2-6.7l.1 3.9l.2-1.2l.2-1l.1 6.8l.2-16l.1 17.3l.2-2.9l.1-1.7l.2-.3l.1-1.4l.2 4.3l.1 2.9l.2-1.8l.2-7.4l.1-.9l.2 7.7l.1-9l.2 3.2l.1 3.4l.2-3.6l.1 1.3l.2 4.3l.2-5.2l.1-.1l.2 .7l.1 2.4l.2-.9l.1 5.6l.2-1.6l.1 1.9l.2-6.5l.1 3.3l.2-5l.2 6.6l.1-1l.2 4l.1-9.9l.2 6.6l.1-9l.2 5.6l.1 1.8l.2 5.8l.2-4.3l.1-8.2l.2 9.9l.1-12.6l.2 10.4l.1-10.8l.2 11.8l.1-.9l.2-11.9l.1 10.5l.2-10.1l.2 7l.1-.8l.2 8.5l.1-1.4l.2-5.9l.1-1l.2-.5l.1 6.7l.2-14.7l.2 11.8l.1-3.7l.2 3.7l.1-2l.2 2.5l.1-6.2l.2 3.3l.1 3.9l.2-4.4l.1-5l.2 5.8l.2-5.3l.1 4.2l.2-7.7l.1 7.4l.2 7.6l.1-6.3l.2 2.4l.1 3.6l.2-3.8l.2 .9l.1 2.3l.2 .6l.1-10.9l.2-2.9l.1 2.4l.2 10.4l.1-5.3l.2 4l.1-4.9l.2 2.8l.2 4.1l.1-3.2l.2-3.4l.1 11.4l.2-6.9l.1 3.6l.2-15.7l.1 10.2l.2 2.8l.2 .1l.1 .8l.2-8.2l.1 2.9l.2 3.3l.1-7.8l.2 6.7l.1 2.2l.2-.4l.2-2.4l.1-8l.2 .9l.1 7.9l.2 2.2l.1-1l.2-5.9l.1 .4l.2-1l.1 5.7l.2 .6l.2-1.6l.1 3.2l.2 1.2l.1-7.4l.2 10.3l.1-10.9l.2-1.9l.1-5.7l.2 13.8l.2-3.3l.1-4.1l.2 7.8l.1 .7l.2-11.5l.1 6.9l.2-3.7l.1 8.3l.2-14.6l.1 16.9l.2-9.5l.2 3.5l.1 4.9l.2-4.4l.1-5.5l.2 7l.1 4.7l.2-13.3l.1 10.1l.2 4.8l.2-11.5l.1 6.6l.2-4.2l.1-.5l.2 1.4l.1 2l.2-2l.1 .8l.2-3.8l.1 9.8l.2-14.4l.2 10.8l.1 1.6l.2-2.4l.1-3.8l.2-3.9l.1 5.2l.2 .4l.1 .8l.2-3.6l.2 4.3l.1-6.4l.2 5.2l.1-7.3l.2 10.9l.1 2.1l.2-9.1l.1 4.4l.2-7.1l.1 9.6l.2 0l.2-7.2l.1 7.1l.2-3l.1-2.7l.2 4.3l.1-7.1l.2 2.7l.1-.9l.2-1l.2-3.3l.1 1.6l.2-9.9l.1 14.4l.2-.4l.1-4.8l.2 6.6l.1-2.6l.2 4.5l.1 1.9l.2-4.7l.2 5.5l.1 1.5l.2-3l.1-10.9l.2 15.6l.1-6.6l.2-1l.1-.7l.2-5.4l.2 9.2l.1-3.3l.2-.8l.1 4.9l.2-7.7l.1 8.8l.2-7.6l.1-6.3l.2 12.3l.1-1l.2-5.8l.2 .7l.1 1.5l.2-7.3l.1 10.2l.2-.6l.1 5.8l.2-8.4l.1 1.7l.2-3.9l.2-.2l.1 .2l.2 6.6l.1-3l.2-1l.1-1.8l.2 1.6l.1 5.8l.2-9l.1 6.2l.2-1.6l.2 3.5l.1-5.5l.2 4l.1 1.2l.2-4.5l.1-2.7l.2-1.5l.1 7.5l.2 5.9l.2-8.1l.1-1.9l.2 3.9l.1 1.3l.2-5.5l.1-1.5l.2 6.4l.1 2.1l.2-3.5l.1-.9l.2-1.4l.2 3.7l.1-5.4l.2 5.5l.1-1.3l.2 1.6l.1 .6l.2-.5l.1 .1l.2-5.4l.2-1.6l.1 5.1l.2 1.3l.1 5.4l.2-5.3l.1-5.2l.2 8.8l.1-7.9l.2 7.9l.1-3.8l.2-4.9l.2 6.5l.1-6.2l.2 3.6l.1 1.2l.2-2.6l.1-.6l.2 1.5l.1-4.1l.2-2.6l.2 7.5l.1-4.1l.2 5.9l.1-7.5l.2 6.4l.1-2.9l.2 1l.1 3.8l.2-4.5l.1 1.6l.2-1.6l.2 3.2l.1-4.3l.2 1.5l.1 3.4l.2-4.1l.1 3.1l.2 2.1l.1-9.6l.2 4.4l.2 3.6l.1-.6l.2-5.6l.1 6.4l.2-.3l.1-5.7l.2-1l.1 5.1l.2 12.6l.1-6.8l.2-9.6l.2-1.6l.1 10.8l.2-9.5l.1 4.1l.2-2.7l.1-4.6l.2 5.9l.1 6.5l.2-8.4l.2-.7l.1 .5l.2 10.4l.1-11.6l.2 1.9l.1-.8l.2 2.7l.1-.7l.2 .9l.1-1.8l.2-4.6l.2 8.6l.1 2.9l.2-3.6l.1-1.2l.2 2.1l.1-3.5l.2 1.8l.1 1.1l.2 1.5l.2 1.4l.1-17.5l.2 9.4l.1 .9l.2-1.4l.1 3.3l.2-3.1l.1 4.3l.2-1.1l.1-4.4l.2 12.1l.2 .5l.1-12.6l.2 9l.1 .4l.2-10.2l.1-.9l.2-5.9l.1 15.6l.2-6.8l.2 6.3l.1-.7l.2-4.4l.1 5.2l.2-.6l.1-3.9l.2 3.5l.1 5.2l.2-9.7l.1 1.7l.2 3l.2-6.7l.1-.1l.2 9.7l.1-7.8l.2 1.4l.1 1.2l.2-3.5l.1 3.8l.2 4.3l.2-9.5l.1-3.6l.2 6.9l.1-3.8l.2 4.1l.1 3.4l.2-4.9l.1 4.2l.2 3.4l.1 0l.2-11.1l.2 .8l.1 .9l.2 5l.1-1.4l.2-.8l.1-1.7l.2 .1l.1-3.3l.2-5.1l.2 13.9l.1 3l.2-8.6l.1 4.2l.2-1.3l.1 0l.2 4.7l.1-3.9l.2-1.7l.1-1.5l.2 4.7l.2 2.4l.1-8.9l.2 5.7l.1-1.7l.2-.4l.1-3.5l.2 10.7l.1-11.9l.2 6.1l.2 3.8l.1-3.5l.2-8.6l.1 6.7l.2 3.5l.1-2.4l.2-.6l.1 5l.2-3.8l.1-8.1l.2 9.9l.2-3.5l.1 1.6l.2 .6l.1 4.9l.2-9.8l.1 6.8l.2-5.9l.1 1.4l.2 2.5l.2 .6l.1-2l.2-2.8l.1-1.2l.2-8.1l.1 10.5l.2 4.1l.1-4.8l.2 8.4l.1-3.1l.2-2.5l.2 1.5l.1-7.7l.2 8.1l.1-1.7l.2 5.5l.1-7.1l.2 4.2l.1-1.6l.2-4.9l.2 12l.1-7.4l.2 .2l.1 3.6l.2-4.9l.1 1.4l.2-.2l.1-7.3l.2 5.9l.1-5.7l.2 8.8l.2-1.4l.1 2.3l.2-5.3l.1-2.4l.2 4.2l.1-.1l.2 2.5l.1 3.1l.2-1.1l.2-5.6l.1 4.1l.2-9.4l.1 9.7l.2-5.6l.1-1.5l.2 5.9l.1-4.8l.2 5.4l.1-9.8l.2 7.5l.2-1.4l.1 5.1l.2-7l.1 2.2l.2-1.8l.1 1.7l.2-1.7l.1 6.5l.2-2.3l.2-5.6l.1 4.1l.2-2.2l.1-3.5l.2 10.5l.1-2.7l.2-1.6l.1 2.3l.2-3.6l.1 3.9l.2 .7l.2-7.8l.1 5.7l.2-.8l.1-2.6l.2 1.6l.1-3.6l.2 1.5l.1 6.1l.2 .2l.2-2.4l.1-2.7l.2-4.9l.1 6.5l.2-4.9l.1 5.7l.2 4.2l.1-6l.2-6.1l.1 3.4l.2 2.4l.2 3.1l.1-1.9l.2-.1l.1 5.3l.2-5.5l.1-.7l.2 2l.1-2.5l.2-3.2l.2 8.3l.1-2.2l.2-2.3l.1 2.6l.2 .7l.1 5.4l.2-6.3l.1 1.6l.2-2.8l.1-9.7l.2 8.2l.2-1.6l.1 5.3l.2-11.3l.1 9.8l.2 .5l.1-1.3l.2-1.7l.1 1.3l.2 3.8l.2-12.8l.1 16.6l.2-5.9l.1-1l.2-4.3l.1 11.7l.2-7.5l.1 .8l.2-8.3l.1 5.8l.2 3.7l.2 4.4l.1-6.1l.2-1.8l.1-8.2l.2 15.9l.1-1.9l.2-3.1l.1-.4l.2-1.2l.2 4.1l.1-5.4l.2-.7l.1-.8l.2 4.5l.1-6l.2 15.3l.1-9.1l.2-1.6l.2 1.2l.1-8.3l.2 11l.1-4.5l.2-4l.1 .3l.2 2.8l.1 10.5l.2-4.2l.1-2.9l.2-4.8l.2 8.5l.1-1.3l.2-2.2l.1-2.3l.2-8.3l.1 8.8l.2-3.7l.1-1l.2 5.6l.2 6l.1-1.5l.2-3.5l.1-4.4l.2 4.4l.1-11.9l.2 12.1l.1-3l.2-1.9l.1 4.6l.2-.2l.2-1.9l.1-4.7l.2 2.9l.1 3.5l.2-4.5l.1 10.2l.2-12l.1 .6l.2 6.4l.2-5.1l.1 4.8l.2-5.1l.1-1.4l.2 8.5l.1-5.5l.2-7.1l.1 10.7l.2-3l.1 3.1l.2-9.7l.2 11.8l.1 5.3l.2-11.9l.1 .3l.2 4.3l.1-1.2l.2-1.1l.1-2.6l.2-7.9l.2 11.9l.1-4.1l.2 0l.1 1.3l.2-6l.1 3.8l.2-1.8l.1 9.9l.2-9.3l.1 1.2l.2 4.2l.2 .5l.1-6.1l.2 .4l.1-1l.2-1l.1-2.4l.2 9.6l.1-5.4l.2 1.9l.2 6.5l.1-3.2l.2-1.8l.1-7.2l.2 9.3l.1 .2l.2-6.2l.1-.6l.2 1.9l.1 4.8l.2 .2l.2-3.2l.1 6.3l.2-8.3l.1 1.4l.2 1.5l.1-1.1l.2 .8l.1-1.9l.2 5.5l.2-3.4l.1 1.7l.2-1l.1 2.9l.2-.5l.1 1.7l.2 .8l.1-7.8l.2 1.8l.1 .4l.2 7.1l.2-7.6l.1 2.2l.2 2l.1-8.3l.2 5.5l.1-.4l.2 4l.1 1l.2 .5l.2-6.1l.1-.3l.2 3.8l.1-7.7l.2 6.2l.1-.6l.2 4.1l.1-3.4l.2-2.9l.1-1.9l.2-.1l.2 4.2l.1 4.5l.2-1l.1-2.6l.2 .5l.1-3.1l.2 4.2l.1-7.9l.2 9.4l.2-1.9l.1-1.4l.2 .9l.1-.8l.2-.9l.1-1.3l.2 .5l.1 6l.2-8l.1 4.6l.2-.9l.2-.7l.1-2.7l.2 4.1l.1-1l.2-1.1l.1 4.9l.2-2.4l.1-2.4l.2 1.4l.2-1.8l.1 8.1l.2-3.9l.1-8.3l.2 4.5l.1 3l.2-.8l.1-.3l.2-5.3l.1 4.8l.2-1.3l.2 3.9l.1-2.3l.2-4.3l.1 2.6l.2-6.9l.1 10.7l.2-.8l.1 .8l.2-1.1l.2-6.3l.1 2.9l.2-.8l.1 .9l.2 5.1l.1-3.9l.2 3.5l.1-1.4l.2 1.2l.1 .8l.2-2.7l.2-6l.1 7.1l.2-5.7l.1 4.5l.2 6l.1-17.2l.2 10.9l.1-3.4l.2 5.4l.2-3.5l.1-.3l.2 1.8l.1-8.4l.2 8.3l.1-3.2l.2-1.8l.1 4.6l.2-3l.1 8.6l.2-4.4l.2-1.1l.1-.7l.2 4.1l.1-2.8l.2-2.1l.1 2.7l.2-1.5l.1 0l.2 3l.2-5.5l.1 6.2l.2-1.5l.1-1.6l.2-2.4l.1-3.5l.2 5.8l.1-.3l.2 3.2l.1-1.7l.2-2.2l.2-3.8l.1 5l.2 1.3l.1 2.3l.2-6.5l.1 5.5l.2-4.8l.1 4.8l.2 3.5l.2-5.6l.1-5.9l.2 1l.1 4.6l.2 1.5l.1-2.4l.2-2.2l.1 3.7l.2 .6l.1 1.2l.2-10.9l.2 13.5l.1-7.7l.2 1.3l.1-3.5l.2-1.5l.1 7l.2-.8l.1 1.1l.2-1.1l.2-.4l.1-5.9l.2 5.2l.1 3l.2 3.8l.1-5.3l.2-2.8l.1 1.1l.2 3.7l.1-9l.2-4l.2 6.6l.1 2.9l.2 .7l.1 .9l.2-5.8l.1 11.5l.2-5l.1-4.1l.2 5l.2 2l.1-12.8l.2-.1l.1 9.1l.2 3.2l.1-2.9l.2-.7l.1 1.1l.2-7l.1 2.3l.2 3.4l.2-3.9l.1-1.7l.2 4.5l.1-3.9l.2 3.1l.1-.1l.2 2l.1 1.4l.2-6.3l.2 7.8l.1-1.4l.2-2.8l.1 2.8l.2-11.5l.1 3.3l.2 2.3l.1 3.9l.2 .5l.1 .4l.2-.6l.2-2.8l.1 6.6l.2-10l.1-.9l.2 5.3l.1-1l.2 3.1l.1 2.1l.2-1.4l.2-6.9l.1 8.6l.2 1l.1-5.9l.2-4.7l.1 .3l.2 7.4l.1 7.9l.2-9l.1-5.5l.2 2.8l.2 2.2l.1-1.9l.2 2l.1 3.3l.2-4l.1 2l.2 2.1l.1-5.3l.2-3.1l.2 2.7l.1 2.6l.2-2.9l.1-2.1l.2 1.6l.1 1.1l.2 1.6l.1-1.8l.2-1.5l.1 10.4l.2-4.6l.2-4.8l.1 1.8l.2 5l.1-1.7l.2-1.1l.1 3.8l.2-2.8l.1-1.9l.2 2l.2-1l.1-2l.2-2.1l.1 3.5l.2-4.4l.1 5l.2-.4l.1 .5l.2-4.6l.1-3.4l.2 8.5l.2-.3l.1 1.2l.2-8.5l.1 2.5l.2 .8l.1-1.8l.2 6.8l.1-8.2l.2 4.7l.2 4.4l.1-1.7l.2-3l.1-15.2l.2 18.2l.1-2l.2-8.9l.1 5.7l.2-2.6l.1 3.2l.2 2l.2 2.3l.1-5.8l.2 3.9l.1 .7l.2-.9l.1-.7l.2-.7l.1-.1l.2-1.8l.2 4l.1 4.4l.2-14.7l.1 9.2l.2 1.5l.1 .3l.2-8.5l.1 8l.2 3.2l.1-8.3l.2-7.6l.2 12.1l.1-1.4l.2 1.3l.1 2.6l.2-3.2l.1-1.7l.2 9.2l.1-4.6l.2-2.1l.2 1.5l.1 3.3l.2-1.6l.1-1.4l.2 2.6l.1 1.3l.2-1.4l.1-.8l.2-4.4l.1 1.7l.2-13.1l.2 12.5l.1 4.3l.2-.5l.1-3.2l.2-12.2l.1 8.2l.2 3.4l.1 4.9l.2-9.2l.2 5.2l.1-4.3l.2 8.6l.1-3.1l.2-3.6l.1 3.1l.2-7.1l.1 3.5l.2 3l.1-4.9l.2-4l.2 10.2l.1-1.3l.2-1.2l.1 2.3l.2-2.9l.1-.8l.2 1.7l.1 1.6l.2-2.1l.2-7.5l.1 10l.2 5.3l.1-7.3l.2-1.9l.1-.8l.2 5.4l.1-.6l.2-.2l.1 4.6l.2-10.2l.2 1.9l.1-1.3l.2 7.8l.1-6.5l.2-2.4l.1 12.2l.2-7.7l.1 2.4l.2-2.7l.2 2.1l.1 2.4l.2-3.3l.1-2.2l.2 1.3l.1 3.6l.2-2.9l.1-3.9l.2 5.8l.2-2.4l.1-6.9l.2 8.5l.1-4.4l.2 5.9l.1-3.9l.2 5.8l.1-11.3l.2 6.7l.1 2.8l.2-.9l.2 3.1l.1-8.9l.2 1l.1-4.8l.2 7.4l.1 .1l.2 1.2l.1-4.5l.2 1.9l.2 1.1l.1 2.8l.2-2.7l.1-.2l.2-2.6l.1 2l.2 2.1l.1-3.1l.2 1.4l.1-2.5l.2 7.7l.2-16.5l.1 4.4l.2 1.7l.1 5.2l.2-3.2l.1 2.7l.2 .2l.1-7l.2 14.2l.2-2.6l.1-.2l.2 1.3l.1-5.2l.2 .6l.1-.1l.2-.3l.1 4.2l.2-6.7l.1 5.5l.2-3.2l.2-.4l.1 4l.2-6l.1 4l.2-14.4l.1 9.9l.2 4.3l.1 8.7l.2-11.1l.2-1.8l.1 8.8l.2-5.8l.1-2.4l.2 4l.1-2.4l.2-13.4l.1 16l.2-1.1l.1-.1l.2 1.4l.2-5.8l.1-.2l.2 .1l.1-.2l.2 2.5l.1-.9l.2 .5l.1 .9l.2-1.5l.2 2.6l.1-4.9l.2-.7l.1 7.4l.2 .9l.1 3.2l.2-11.5l.1 4.5l.2-6.7l.1 10l.2 2.1l.2-5.1l.1 4l.2-14.5l.1 10.6l.2-3.7l.1-3.1l.2 5.9l.1 1.3l.2-1.8l.2 6.9l.1-5.1l.2-5.8l.1 5.4l.2 3.3l.1-6.9l.2 8l.1-.8l.2-6.5l.1-2.1l.2 13.7l.2-7.8l.1-3.7l.2 2.7l.1 2.3l.2-3.5l.1 3.1l.2-1.1l.1-1.5l.2 4.6l.2 .6l.1-2.7l.2-4.5l.1 8.9l.2-3.4l.1-2.8l.2-3.5l.1 4.2l.2-1.9l.1 5.2l.2-7.8l.2-14.1l.1 17l.2 2l.1-2.9l.2 5.8l.1 .6l.2-3.9l.1 2.4l.2-3.8l.2-4.8l.1 7.7l.2 2.9l.1-7.1l.2-5.1l.1 12l.2-7.1l.1 1.8l.2 .5l.1-2.3l.2 3.8l.2 3.8l.1-5.2l.2-3.1l.1 4.6l.2-5.2l.1-3.9l.2 2.9l.1 7.4l.2-1.1l.2-5.6l.1 5.1l.2-6.3l.1 7.4l.2-12.5l.1 5l.2 9.6l.1-7.3l.2-4.1l.1 4.3l.2 7.9l.2-10.9l.1 4.3l.2-11.4l.1 13.1l.2 1.1l.1-.3l.2-.1l.1-.2l.2 1l.2-6.6l.1 9.7l.2-8.8l.1 5l.2 1l.1 1.9l.2-8.1l.1 3.1l.2-6.3l.1 5.9l.2 2.5l.2 .3l.1-5.5l.2 6.7l.1-2.2l.2 1.5l.1-2.6l.2 4.2l.1 3.2l.2-3l.2-4.6l.1-2.4l.2 3l.1-1.9l.2 2.5l.1-2.1l.2-2.3l.1 3.7l.2 5.4l.1-4.7l.2 1.4l.2 .4l.1-3l.2 3.2l.1 7.4l.2-13.8l.1 5.9l.2-9.5l.1 8l.2-.1l.2-1.5l.1 4l.2-2.6l.1-2.3l.2 .9l.1 .1l.2 4.3l.1-4l.2-3.4l.1 2.8l.2 2.7l.2-6.2l.1 2.8l.2 2.2l.1 1.6l.2-4.1l.1 7.1l.2 2.9l.1-14.1l.2 9.4l.2-1.8l.1 2.5l.2-6.5l.1 5.6l.2-1.9l.1-8.4l.2 19.6l.1-12.4l.2 .5l.1 3.7l.2-2.5l.2-9.8l.1 5.7l.2 6l.1 .3l.2 1.5l.1-1.7l.2 1.7l.1-2.9l.2-4.7l.2-1.1l.1 7.3l.2-1.8l.1-2.8l.2 4.5l.1-4.4l.2 5.3l.1-4.6l.2 2.4l.1-.6l.2 5.1l.2-10.8l.1 8.9l.2-5.7l.1-2.7l.2 4.5l.1-.1l.2 4.6l.1-4.4l.2-6.6l.2 4.2l.1 2.4l.2-4.7l.1 8.5l.2-6.8l.1-2.4l.2 4.2l.1 .4l.2 1.6l.1 .3l.2-2.1l.2 1.3l.1 .6l.2-3l.1-2.3l.2 1l.1-2.6l.2 5.3l.1-4.1l.2 2.6l.2 1.6l.1 3l.2-8.4l.1 10.6l.2-.8l.1-2.6l.2-.6l.1 .3l.2-13.7l.1 10l.2 4.3l.2-6.6l.1 2.3l.2 4.1l.1-3.4l.2-1.5l.1 .6l.2-9.1l.1 .7l.2 11.9l.2 3.4l.1-4.3l.2-4.6l.1 11l.2-1.8l.1-3l.2 .8l.1-7l.2 4.2l.1-2.1l.2 4.4l.2 2.5l.1-10.2l.2 15.3l.1-12.2l.2-.6l.1 3.5l.2 3.4l.1 3.3l.2-6l.2 .1l.1 1.5l.2-10.6l.1 1.6l.2 5.3l.1 1l.2 .2l.1-3.2l.2 .6l.1 2.4l.2-4.4l.2 4.7l.1-3.9l.2 9.4l.1-1.9l.2-2.2l.1 .4l.2-7.6l.1-.6l.2 6.7l.2-1.3l.1-9.8l.2 14.6l.1-9.1l.2 3.7l.1-4.1l.2 4.9l.1 2.8l.2-6.3l.1 4.4l.2 2.8l.2-10l.1-1l.2 7l.1-3l.2 3.3l.1-3.6l.2 10.9l.1-11.5l.2 .9l.2 7l.1-4l.2-.1l.1-3.8l.2 1.6l.1 2.2l.2-6.3l.1 11.8l.2-9.9l.1 5.6l.2-5.5l.2 5l.1 8.3l.2-17.2l.1 12.9l.2-.9l.1-1.5l.2 .8l.1-2.5l.2-7l.2 4.6l.1 3.5l.2 .8l.1-1.6l.2-4.3l.1 7.2l.2-.1l.1-2.9l.2-9l.1-1.4l.2 7.1l.2-2.2l.1 5.5l.2-9.5l.1 9l.2 9.9l.1-9.5l.2-2l.1 4.1l.2-9.8l.2 6.5l.1-3.2l.2 3.5l.1-6.6l.2 4.6l.1-.2l.2 2.8l.1 5.2l.2-4l.1-1.4l.2-.4l.2-12.5l.1 11.2l.2 2.7l.1-4.6l.2 5.1l.1-9.3l.2 9l.1-4.1l.2-7.3l.2 6.5l.1-2l.2 7.4l.1-5.9l.2 0l.1 .9l.2 .9l.1 2l.2-6.1l.1 8.3l.2-10.5l.2 4.2l.1 2.2l.2 2.6l.1-1.1l.2 1.2l.1-2.8l.2 1.3l.1-6.2l.2 2.6l.2 3.9l.1 .4l.2 1.1l.1-7.9l.2 7.4l.1 2.1l.2 4.7l.1-5.4l.2-4.8l.2 1.5l.1 5.2l.2-7.4l.1 1.8l.2-5.3l.1 6.6l.2 1l.1-2.8l.2 1l.1-7.2l.2 14.1l.2-6l.1-.2l.2-2.4l.1 4.8l.2-3.6l.1-4.2l.2-1.1l.1 8.5l.2-2.3l.2 1.6l.1-1.9l.2-3.6l.1 6.8l.2-2.7l.1 8.3l.2-11.3l.1 6.4l.2 2.7l.1-7.1l.2-1.2l.2-2.5l.1 4.6l.2 .9l.1 .3l.2-.1l.1-4l.2 .9l.1 .6l.2 4.9l.2-3.6l.1-.7l.2 7.7l.1-9.8l.2-3.6l.1 3.5l.2-.4l.1 6.6l.2 .3l.1-11.3l.2 6.1l.2-.5l.1-.5l.2 9.6l.1-3.5l.2-9.3l.1 3.6l.2 5.2l.1-2.5l.2 .1l.2 1.8l.1 3.3l.2-11.1l.1 13.6l.2-17.9l.1 3l.2 6.6l.1 1.1l.2-.1l.1-10.7l.2 12.7l.2-10l.1 4.7l.2 1.4l.1 3.6l.2 .7l.1-4.7l.2 4.9l.1-4.2l.2 6.8l.2-5.4l.1 5.2l.2-7.5l.1 8l.2-3l.1-1.6l.2 1.9l.1 2.3l.2-16.6l.1 2l.2 11l.2-4.6l.1 10.3l.2-2.8l.1 1.1l.2-18.9l.1 20.3l.2-5.2l.1 3.6l.2-8.1l.2 9.7l.1-10l.2 6.4l.1-2.1l.2 3.3l.1-5.8l.2 4.5l.1-1.9l.2-1.6l.1-4.2l.2-4.5l.2 7.2l.1 5.7l.2-5.5l.1 3.7l.2-3.8l.1 0l.2 .1l.1 4.2l.2-2.9l.2 1.4l.1 .3l.2 .2l.1-5l.2 6l.1 0l.2 .8l.1-2.6l.2-3.7l.1 7.1l.2-4l.2 .4l.1-3.8l.2 2l.1-5.3l.2 3.6l.1 5.4l.2-3.2l.1-2.8l.2-7l.2 10l.1-3l.2 3.9l.1-2l.2 2.7l.1-10.9l.2 2.9l.1 12.4l.2-1.7l.1-2.8l.2 2.9l.2 .4l.1-3.7l.2-.6l.1-15.2l.2 13l.1-6.5l.2 10.2l.1 6l.2-13.9l.2 2.4l.1 8.4l.2-13.3l.1 7.5l.2 3.6l.1-5.5l.2 1.2l.1-3.4l.2 .1l.1 2.9l.2-.1l.2-4.4l.1 .3l.2 8.2l.1-1.3l.2 7.2l.1-4.9l.2-1l.1-5.2l.2 2.2l.2-4.1l.1 3.3l.2 4.9l.1 4.6l.2-9.4l.1-2.9l.2-1.8l.1 2.7l.2 7.9l.1-4.4l.2-.7l.2 .4l.1-2.8l.2 8l.1 .1l.2-1.5l.1-5.5l.2-1l.1 6.1l.2-1.6l.2-1.1l.1-2.9l.2-.8l.1 2.7l.2-2.7l.1 4.5l.2 1.4l.1 1l.2-3.5l.1-.5l.2 6.4l.2-9.3l.1 5.9l.2-.2l.1-4.1l.2-1.4l.1 6.9l.2-8.4l.1 1.6l.2 8.9l.2-11.7l.1 1.2l.2 5.4l.1-1.5l.2 5.4l.1 1.1l.2-6.3l.1 1.3l.2 1l.1-15.2l.2 15.6l.2-.4l.1-4.2l.2 5.4l.1-6.7l.2-1l.1 4.9l.2 7.4l.1-12.2l.2 4.6l.2-5.4l.1 1.1l.2 .8l.1 6.2l.2 5.5l.1-14.7l.2 4.4l.1-2l.2 7.9l.1-9.5l.2 2.2l.2 4.1l.1-2.1l.2 5.2l.1-.7l.2-4.6l.1 1.7l.2-1.1l.1-3l.2 6.7l.2-3l.1-2.1l.2 6l.1-7l.2 1.3l.1 3l.2 .1l.1-10.8l.2 12.8l.1-14.2l.2 15.3l.2-2l.1-4.1l.2 1.6l.1-3.3l.2-.2l.1 6.1l.2-4.3l.1-3.6l.2 10.1l.2-3.1l.1-3.6l.2 3.9l.1-.9l.2 2.3l.1-.6l.2-4.8l.1 1.8l.2-2.5l.1 .8l.2 .3l.2-1.2l.1 5.5l.2-13.7l.1 9.8l.2-2.4l.1-.3l.2 2.5l.1-6.4l.2-2.5l.2 11.9l.1-7.3l.2 12.6l.1-9.4l.2-5.2l.1 5.4l.2 4.8l.1 1.4l.2-4.2l.1 4.5l.2-5.2l.2 .9l.1-6.1l.2 8.8l.1-.9l.2-5.7l.1 5.1l.2-7.1l.1 .4l.2 14.5l.2-10.8l.1 1.8l.2-4.3l.1 12l.2-8.4l.1 5.1l.2-5l.1 4.1l.2-4.4l.1-4.8l.2-.4l.2 9.3l.1-2.9l.2-4.6l.1 4.3l.2 6.3l.1-3.9l.2 1.1l.1 3l.2-13.6l.2 9l.1-1.7l.2-.7l.1 2.8l.2-4.1l.1 8.1l.2-11.6l.1 7.3l.2-1.1l.1-9l.2 10.6l.2-4.5l.1-6.9l.2 6.4l.1 5.1l.2-11.4l.1 9.8l.2 2.2l.1 1.5l.2-.8l.2-2.2l.1 1l.2-4.2l.1-2.3l.2 10l.1-6.5l.2 6.4l.1-4.2l.2 1.3l.1-2.1l.2-5.5l.2 10.3l.1-2.1l.2 2.9l.1-6.1l.2-.7l.1-1l.2 .7l.1 3.2l.2 3.4l.2-1.8l.1-1.4l.2-.6l.1-9.4l.2 10.2l.1-6.2l.2 6.2l.1-3.3l.2 6l.1-5.1l.2 1.3l.2 0l.1 4.1l.2-2.4l.1-.7l.2-5.2l.1 3.8l.2 .1l.1 5l.2-5.6l.2 4.7l.1 .3l.2-5.5l.1 3.6l.2 .4l.1-3.6l.2-6.9l.1 8.9l.2-5.3l.1 0l.2 3l.2 .7l.1-4.2l.2 2.6l.1-1.1l.2 1.3l.1-.4l.2 2.6l.1 4.2l.2-7.2l.2-4.1l.1 3.3l.2 3.8l.1-3.4l.2 4.5l.1-7.6l.2 4.5l.1 1.5l.2-.1l.1-2.5l.2 2.8l.2-3.9l.1-.8l.2 5.7l.1-2.7l.2-2.3l.1 2.1l.2 4.3l.1-3.5l.2 .2l.2 5.7l.1-4.2l.2-8.4l.1 5.2l.2-.2l.1 2.9l.2-5l.1 2.9l.2-7.5l.1 2.1l.2 9.1l.2-6.1l.1-2.9l.2 1.8l.1 .4l.2 4l.1 5.6l.2-7l.1 6.6l.2-.8l.2-1.6l.1-5l.2-.2l.1 4.3l.2-.9l.1 2.3l.2-1.1l.1-8.9l.2 13.6l.1-4.1l.2-8.6l.2 5.7l.1 1.8l.2-1.9l.1-3.8l.2-1.2l.1 6.6l.2 1.4l.1-3.6l.2 2.9l.2-13.5l.1 10.8l.2 .7l.1-.5l.2 1.2l.1-3.1l.2-1.2l.1 2.4l.2 5.6l.2-.6l.1-2l.2 1.1l.1-5.6l.2 3.6l.1 2l.2 5.9l.1-9.7l.2-3.4l.1 4.4l.2-3.8l.2 4.2l.1-9.7l.2 15l.1-10.5l.2 5.8l.1 .4l.2-4.7l.1-2.8l.2 1.7l.2 8.4l.1-8.7l.2 3.3l.1-.6l.2-1.8l.1 4.2l.2 2.2l.1-2.1l.2 .4l.1-5.9l.2-.3l.2 1.5l.1 5.5l.2-3.1l.1-1.8l.2 9.7l.1-5.8l.2 3.5l.1-3.2l.2-1.5l.2-.4l.1 2.6l.2-6.5l.1 7.7l.2-4.9l.1-2l.2 4.2l.1 0l.2 .8l.1 2.2l.2-.1l.2-7.3l.1 6.6l.2-.7l.1-.3l.2 1.3l.1-1.1l.2 5.7l.1-5.2l.2-.6l.2 1.8l.1-1.3l.2-.4l.1-5.9l.2 3.3l.1 6.2l.2-6.7l.1 7.4l.2-7.7l.1-2.1l.2 5.4l.2-2.9l.1 3.9l.2-7.9l.1 6.7l.2 1.5l.1-3.2l.2 3.8l.1-2l.2-1.8l.2 2.5l.1-4.2l.2-.8l.1 7.9l.2-4.3l.1-4.3l.2 6.4l.1 3.6l.2-4.9l.1-3.3l.2 7.5l.2-3.7l.1-.7l.2-11.6l.1 11.9l.2-10.5l.1 6.9l.2-1.6l.1-4.4l.2 8l.2 1.9l.1-5.7l.2 3.6l.1 9.6l.2-16.3l.1 2.8l.2 6.3l.1-5.5l.2 3.8l.1-4l.2 2.1l.2-.1l.1 1.9l.2-10.5l.1 15.9l.2-7l.1 2.4l.2 2.5l.1-8.5l.2 4.7l.2 2.6l.1-4.1l.2 .5l.1-1.5l.2-2l.1 4.1l.2 1.6l.1-.9l.2-4.3l.1 2l.2 .8l.2 4.9l.1 2l.2-3.6l.1 1.4l.2-7.1l.1-.2l.2 3.9l.1 3.7l.2-7.5l.2 6.5l.1 2.9l.2-1.3l.1-5l.2 .5l.1-5.3l.2 11.1l.1-5.2l.2 2.2l.1-3.9l.2 1.6l.2-1.7l.1 3.4l.2-8.3l.1 6.1l.2-1l.1 9.3l.2-11.2l.1 9.7l.2-9l.2 7.8l.1 1.4l.2-5l.1 1.2l.2-6.3l.1-1l.2-.9l.1 .3l.2 3.5l.1-2.9l.2 7l.2-2.2l.1 0l.2 .9l.1-12.3l.2 16.3l.1-.5l.2-1.7l.1-10l.2 12.1l.2-7.9l.1 4.8l.2 3.3l.1-.6l.2-8.2l.1-1.1l.2 11.7l.1-1.1l.2-7.8l.1-3.8l.2 10.2l.2-7.3l.1 .3l.2 1.5l.1 1.9l.2 1.6l.1-.1l.2-6.1l.1 7.9l.2-6.1l.2 4.6l.1-9.5l.2 7.3l.1-1.8l.2 5.3l.1-5.3l.2 1.6l.1-12.6l.2 15.5l.1-4.7l.2 1.2l.2-6.3l.1 10.1l.2-5.4l.1 4.6l.2-6.8l.1 2.4l.2 4l.1-1.8l.2 .3l.2 .1l.1 3.6l.2-6.6l.1 .3l.2 3.3l.1 5.7l.2-4.5l.1-4.1l.2 5.2l.1-9.9l.2 5.8l.2 5.2l.1-7.8l.2-1.4l.1-3.1l.2 9l.1 6.2l.2-8.3l.1-3.8l.2 3.8l.2-6.6l.1 9.3l.2-10.1l.1 12.9l.2-6.2l.1 5.6l.2-1.4l.1-2l.2 3.4l.1 3.6l.2-3.6l.2-1l.1-4.6l.2 .5l.1-.7l.2 1.2l.1-1.1l.2 3.3l.1-2.5l.2-4.8l.2 7l.1-1.3l.2 2.3l.1 4.8l.2-6.4l.1-2l.2-.6l.1 9.4l.2-13.2l.1 3l.2-1l.2 5l.1-4l.2 2.5l.1 .7l.2 1.3l.1-4.9l.2 .3l.1 .4l.2 3.7l.2-2.7l.1 4.9l.2 1.2l.1-1l.2-2.1l.1 1.4l.2-11.4l.1 1.5l.2 10l.1-5.6l.2 4.6l.2-6.1l.1-4.2l.2 9.2l.1 6.7l.2-15.8l.1 7.2l.2 1.6l.1-.3l.2-3.2l.2-2.9l.1 9.7l.2-10.4l.1-1l.2 4.5l.1 8.4l.2-1.4l.1-6.5l.2 4.7l.1-8.7l.2 2.8l.2-2.1l.1 4.1l.2-3.5l.1 4.1l.2-14.8l.1 13.3l.2 2.6l.1 7l.2-8.4l.2 1.8l.1-9.9l.2-.9l.1 10.6l.2-3.6l.1-1.9l.2 3.1l.1 1.8l.2-11.9l.1 14l.2-1.3l.2-5.9l.1 7.1l.2-6.2l.1 2.5l.2-2.9l.1 .7l.2 11.4l.1-8.7l.2 .3l.2-.6l.1 12l.2-9.4l.1-2.2l.2 .8l.1 .5l.2 1.7l.1-4.6l.2 2l.1 4.1l.2-11.5l.2 6.7l.1-5.2l.2 7.3l.1 2.8l.2-1.7l.1 1.8l.2 1.7l.1-2.6l.2-12l.2 7.9l.1-.7l.2-2l.1-.4l.2 7.1l.1 1.1l.2-2.8l.1-5l.2-5.5l.1 8.8l.2 6.9l.2-5l.1-.7l.2 .9l.1-8.4l.2 2.1l.1-1.2l.2 8.5l.1-6.4l.2 6.2l.2-5.2l.1 6.3l.2-2.1l.1-17.9l.2 8.1l.1 9.4l.2-1.5l.1-3.8l.2 6.9l.1-.9l.2-9l.2 4.3l.1-3.2l.2 6.6l.1 1.2l.2-1l.1-6.4l.2 8.2l.1-6.9l.2 2.3l.2 3.1l.1 2.3l.2-3.4l.1-3.2l.2 7.8l.1-10.5l.2 .6l.1-.1l.2 7.1l.1-.5l.2-.7l.2 2.9l.1-7.1l.2 7.2l.1-1.2l.2-4.2l.1 .4l.2-4.8l.1 11.1l.2-7.1l.2 3.8l.1-11.8l.2 4.9l.1-.8l.2-1.1l.1 8.6l.2-4l.1 7.7l.2-1l.1-5.2l.2 .5l.2 1.5l.1-7l.2 4.5l.1-6.6l.2 11.3l.1-8.9l.2-4.2l.1 5.3l.2-1.9l.2 6.5l.1 .4l.2-3l.1-3.2l.2 6.9l.1 4.7l.2 1.7l.1-4.4l.2-4.6l.1 3.7l.2-4.7l.2 10.6l.1-2.9l.2-7.7l.1-.3l.2 7.6l.1-7.7l.2 4.7l.1-2.3l.2 4.4l.2-4.3l.1 1.2l.2-7.2l.1 4.7l.2 4.2l.1-3.9l.2 4.2l.1-5.3l.2 5l.1 1.9l.2-9.8l.2 13.2l.1-9.5l.2-11.9l.1 19.5l.2-8.1l.1 5.3l.2-2.7l.1 2l.2-2.6l.2-1.2l.1-2.6l.2 6.9l.1 3l.2-2.4l.1-5.4l.2 3.7l.1-4.3l.2 .9l.2 1.5l.1-3.2l.2 2.2l.1-2.2l.2 6.9l.1-2l.2 .6l.1-9l.2 5.8l.1 3.3l.2 3.8l.2-9l.1 4.3l.2-10.2l.1 11.8l.2-3l.1 .2l.2 .6l.1-6.5l.2-2.4l.2 .2l.1 6.8l.2 4.7l.1-4.2l.2 6.1l.1-8.5l.2 5.6l.1 2.1l.2-2.9l.1-5l.2 10.6l.2-7.4l.1-.5l.2 2.9l.1-.2l.2-5l.1 3.3l.2-4.3l.1 5.6l.2-5l.2 1.9l.1 1.9l.2-5.4l.1 4.6l.2-10.2l.1 13.5l.2 .9l.1-.1l.2-3.3l.1-3.8l.2 6.5l.2-4l.1-.8l.2 3.9l.1 1.8l.2-1.7l.1-.8l.2-6.5l.1 8.6l.2-.1l.2-.9l.1-13l.2 7.4l.1-9.3l.2 15.1l.1-8l.2 2.5l.1 5.5l.2 1.5l.1-5.6l.2 4.5l.2-5.5l.1 1.6l.2 2.7l.1-8.8l.2 1.2l.1 3.7l.2 .8l.1-2.9l.2-1.7l.2 5.1l.1 3.1l.2-4l.1 .6l.2 3.6l.1-3.4l.2 3.4l.1 0l.2-8.7l.1 4.4l.2-5.6l.2-2.5l.1 8.6l.2-1.2l.1 1.2l.2-2.9l.1-1.1l.2 5.8l.1 .3l.2 6.8l.2-7.9l.1-1.7l.2 4.9l.1-3.3l.2 1.9l.1-5.1l.2 5.8l.1-.6l.2 .1l.1-3.9l.2 1l.2 2.6l.1-5.1l.2 5.5l.1 2.9l.2-11.6l.1 8.7l.2 .6l.1-8.3l.2 10l.2-5.6l.1-2.5l.2 4.6l.1-2.7l.2-4.4l.1 .4l.2 8.9l.1-6.1l.2-.7l.1 7l.2-5.7l.2 4l.1 4.2l.2 1.5l.1-1.5l.2-10.5l.1 .4l.2 3.3l.1 4.2l.2-8.4l.2-4.4l.1 11.8l.2 .1l.1-2.9l.2-1.6l.1 0l.2 1.2l.1-1.5l.2-6.7l.1-1l.2 4.4l.2 3.6l.1 2.4l.2 3l.1-8l.2 9.9l.1-6.5l.2 1l.1 3.4l.2-1.7l.2 5.4l.1-12.3l.2 2.2l.1 2.5l.2 3.3l.1-3.8l.2-1.8l.1 6.5l.2-1.7l.1-2.8l.2-.6l.2-6.7l.1 10.9l.2-9.6l.1 12.8l.2-12.1l.1-2.2l.2 5.2l.1-.2l.2 3.1l.2 3.9l.1-3.4l.2 .3l.1-6.6l.2 3.1l.1 10.4l.2-6.2l.1 .7l.2-4.8l.1 .1l.2 8.8l.2-6l.1-2.2l.2-7.8l.1 5.4l.2 8l.1-2.6l.2 3.9l.1-8.8l.2 7.6l.2-6.7l.1 2.1l.2-2.2l.1 .2l.2 10.1l.1-2l.2-8.5l.1 1.8l.2-3.1l.1 9.9l.2-3.9l.2-5l.1 6.8l.2 2.9l.1-5.8l.2 1.1l.1-5.2l.2 6.4l.1-4.9l.2-1.8l.2 10.3l.1 2.7l.2-5.4l.1-2.2l.2 .7l.1-5.7l.2 4.2l.1 4.3l.2-1.6l.1-6.4l.2-.4l.2-7.4l.1 10.1l.2-7.3l.1-6.3l.2 15.3l.1 2.3l.2-4.7l.1 5l.2-5.5l.2-.3l.1 5.3l.2-7.8l.1-2.2l.2 2.4l.1 2.5l.2-2.4l.1 .1l.2 3.8l.1 6l.2-6.5l.2-2.1l.1-6l.2 1.8l.1 6.2l.2 1.7l.1 2.5l.2-4.1l.1-.4l.2-2.3l.2 6.6l.1-3.3l.2 2.2l.1 2.2l.2-4.3l.1-1.2l.2 3.9l.1 1l.2-19.3l.1 16.8l.2 4.7l.2-3.7l.1-1.6l.2 5.4l.1-5.5l.2 3.7l.1-5.6l.2 5.9l.1-6.9l.2 3.4l.2 1.3l.1-2.8l.2-6.7l.1 9.5l.2-1.8l.1-4.2l.2 5.1l.1 2l.2 1.5l.1-1.4l.2-11.2l.2 9.3l.1 4.7l.2-7.8l.1 3.6l.2-4l.1-.1l.2 5.5l.1-8.4l.2 3l.2 5.8l.1-11.3l.2 10.3l.1 5.2l.2-4.9l.1-4l.2-3.8l.1 2.5l.2 4.6l.1-5l.2 5.1l.2-2.8l.1-1.9l.2 4.3l.1-7.6l.2 6.3l.1 2.7l.2 .8l.1-14.4l.2 7.2l.2-2.8l.1 6.1l.2 0l.1-2.4l.2 4.1l.1 2.2l.2-1.3l.1-.6l.2-2.2l.1 .2l.2-3.3l.2 9.5l.1-3.9l.2-.5l.1-.3l.2-5.6l.1 10.2l.2-4.8l.1 7.8l.2-8.5l.2 .4l.1 2.6l.2-2.1l.1-2.6l.2 1.5l.1-2.2l.2 2.1l.1-10.8l.2 13.6l.1 4.8l.2-12.4l.2 2.5l.1 4.5l.2-5.3l.1-.1l.2-6.1l.1 9.5l.2 1.9l.1 2.3l.2-8.4l.2 2.9l.1 2.9l.2-10.5l.1 6.5l.2 3.1l.1-4.9l.2 8.1l.1-1.6l.2 1.4l.1-1.8l.2-4.7l.2 11l.1-6.9l.2 .4l.1 .6l.2-3.6l.1-.9l.2 6.8l.1-7.1l.2-.6l.2 4.2l.1 6.2l.2-9.4l.1-.9l.2-.8l.1 8.8l.2-6.6l.1 2.2l.2 1.8l.1-9.6l.2 9.2l.2 4.4l.1-11l.2 4.3l.1-3.2l.2 1.5l.1 4l.2-2.6l.1-3.3l.2 7l.2-1.9l.1-7.1l.2 3.7l.1 1.9l.2 3.6l.1-1.9l.2-2.3l.1-3.2l.2 10.4l.1-3.3l.2-4.1l.2-.3l.1-3.5l.2 6.8l.1-2.1l.2-.8l.1 3.5l.2-6.1l.1 6.6l.2-3.5l.2 3.2l.1-10.6l.2 12l.1-6.4l.2-.2l.1 4.1l.2-8.3l.1 2.7l.2 2.4l.1 .5l.2-9.3l.2 9.7l.1-2l.2 1l.1 2.6l.2 3.6l.1-2.7l.2-5l.1 2.4l.2-2.5l.2-4.3l.1 2l.2 1.7l.1 4.2l.2-2.9l.1 2.7l.2-1.1l.1 3.3l.2 1.4l.1-7.5l.2-7.8l.2 7.9l.1 3.3l.2 5.7l.1-.7l.2 .6l.1 1.4l.2-3.7l.1-4.1l.2 1.7l.2-1l.1-2.5l.2 8.1l.1-5.4l.2-6.3l.1 5.3l.2 4.5l.1-5.5l.2 10.3l.1-.6l.2-13.7l.2 11.5l.1-5.5l.2 2.3l.1-.1l.2-1.5l.1-2.2l.2-1.5l.1 6.6l.2-2.1l.2-3.6l.1 3.1l.2-4.5l.1 6.6l.2-1.5l.1 7.1l.2-13.6l.1-.7l.2 6.7l.2-3.5l.1 2.5l.2-2.5l.1 10.4l.2-7.1l.1 2.6l.2-2.5l.1 2l.2-7.2l.1 2.8l.2 4.2l.2 1.2l.1-5.4l.2 8.4l.1-5.4l.2-5.3l.1 6l.2-7.9l.1 5.9l.2 3.1l.2 2.2l.1-5.4l.2 .7l.1 1.4l.2-7.1l.1 3.8l.2 1.9l.1-9.5l.2 13.5l.1-3.8l.2 1.9l.2-4.6l.1-3.8l.2 9.2l.1-1l.2 .9l.1-.7l.2-.6l.1-5.6l.2 6.2l.2-11.8l.1 10.8l.2 3.6l.1-6.1l.2 .3l.1-1.3l.2 3l.1-1.2l.2-7.4l.1 10.5l.2-4.6l.2-1.9l.1 4.4l.2-.2l.1 4.6l.2-11.8l.1 10.8l.2-.3l.1-.2l.2-2.4l.2-1.4l.1 .4l.2-3.6l.1-.4l.2-2.3l.1 5.7l.2 3.1l.1-.9l.2-12.7l.1 14.5l.2-3.2l.2-.1l.1-1.8l.2-2.4l.1 3.8l.2-7.8l.1-.9l.2 5l.1 5.6l.2 3.3l.2 .7l.1-9.8l.2 5.9l.1-12.5l.2 17.6l.1-3.9l.2-.8l.1 5.8l.2-7.7l.1 2.4l.2 1.8l.2 .9l.1-5.6l.2-7.7l.1 10.4l.2-8.7l.1 7.2l.2-4.8l.1 6l.2 .2l.2 1.7l.1-3.2l.2 7.9l.1-20.3l.2 10.6l.1 1.9l.2-.7l.1-1l.2 1l.1 3.4l.2-1.9l.2-2l.1-8.8l.2 11.9l.1-6.7l.2 6.4l.1 .2l.2-4.4l.1 2.9l.2-3.3l.2 .9l.1-4.5l.2 2.8l.1 3.8l.2-5.2l.1 4l.2 0l.1-2.2l.2-9.4l.1 7.5l.2 .7l.2 9.1l.1-4.9l.2 1.8l.1-8.3l.2 5.5l.1 1.3l.2 .5l.1-5.6l.2 4.6l.2-.3l.1 2.2l.2-3l.1-2.1l.2 1.1l.1-1.3l.2 4.4l.1 3.8l.2-4.1l.1-5.4l.2 6.6l.2-10.3l.1 8.1l.2 2.4l.1-.1l.2-3.6l.1-.7l.2-.6l.1 3.6l.2-8.2l.2 10.6l.1-.3l.2-3.4l.1-3.5l.2 .2l.1-.1l.2-.2l.1-7.5l.2 9.6l.1 5.4l.2-5.7l.2-2.1l.1-6.3l.2 2.9l.1 5.7l.2-2.6l.1 1.3l.2 8.7l.1-6l.2-2.7l.2-2.7l.1 7.3l.2-9.5l.1 7.1l.2 1.7l.1-3.4l.2 1.1l.1 2.5l.2-5l.1 5.2l.2 2.9l.2-1.1l.1-1.7l.2-.4l.1-1.2l.2 5.4l.1-2.6l.2-9.4l.1 2.7l.2 2.7l.2-6.7l.1 10.9l.2-4.1l.1-6.9l.2 7.5l.1 4.7l.2-5.1l.1 3.9l.2-4.8l.1 4.5l.2 .9l.2-2l.1 .6l.2 1.3l.1-4.8l.2 1.7l.1 0l.2-3l.1 .1l.2 2.4l.2-5.8l.1 .6l.2-2.1l.1 3.1l.2 1.1" fill="none" stroke="#00ff00" stroke-width="0.9" stroke-linejoin="round"/>
<path d="M195.1 248.4l.1-18.2l.1 14.8l.1-3.1l.1-1.2l0 3.7l.1 3.7l.1-12.9l.1 2.3l0 13.8l.1-31.1l.1 12.8l.1 11.5l.1-11.1l0 9.7l.1-2.5l.1-6.4l.1 13.2l0-11.6l.1-6.7l.1 .6l.1 12.5l.1-8.8l0 15.8l.1-7.9l.1-4.4l.1 11.1l0-7.2l.1-14.9l.1-9.1l.1 17.5l.1-.4l0 11.5l.1 1.7l.1 1.3l.1-12.3l0-1.6l.1 9.6l.1 3.2l.1-9l.1-.4l0 3.3l.1-11l.1 10.7l.1-.2l0 5.8l.1-7.3l.1-9.6l.1 10.1l0 0l.1-2.6l.1 1l.1-1.8l.1 0l0-.7l.1 9.1l.1-6.7l.1 11.2l0-10.9l.1 9.3l.1-6.8l.1-4l.1 6.1l0-3.4l.1 9.9l.1-4.4l.1-9.9l0 11.8l.1-11.5l.1 12.9l.1-3.1l.1 1.3l0-6.2l.1-3.9l.1 10l.1-4.8l0-14.5l.1 15.3l.1 2.5l.1-7.4l.1 4.4l0 2.5l.1 6l.1-16.2l.1 9.6l0-3.4l.1 6l.1-16.2l.1 4.6l0-1.7l.1 8.2l.1-4.2l.1-3.3l.1-.9l0 5.2l.1 2.8l.1 1.8l.1 1.9l0 1.1l.1-7.9l.1 4.3l.1 10l.1-10.5l0-8.9l.1 9.6l.1 8.8l.1-9.6l0-6.8l.1 4.3l.1 4.2l.1-18l.1-.4l0 16.5l.1-6.8l.1 3.2l.1-2.9l0-5.6l.1 5.3l.1 5.6l.1 4.3l.1 .6l0-4.1l.1-8.9l.1 6.5l.1 1.9l0-1.6l.1 1.7l.1-3.7l.1 10.3l0 5l.1-8.8l.1 4l.1-19.2l.1 13.8l0 .5l.1 6.9l.1-10.6l.1 5.6l0-11.7l.1 1.9l.1 10.5l.1-7.1l.1 18.5l0-11.8l.1-13.2l.1 3.6l.1 4.6l0 1.6l.1 7.7l.1-.3l.1-9.3l.1-12.7l0 26.5l.1-16.7l.1 .3l.1-2.8l0 11.7l.1-1.6l.1-3.2l.1 6l.1 1.3l0-2.3l.1-4.2l.1-3.2l.1 2.9l0-.7l.1 4.2l.1 .1l.1-12l0 8.7l.1 .1l.1-7.5l.1-2.3l.1-.3l0 6.7l.1 3.3l.1-2.5l.1 .9l0-9.6l.1 8.8l.1-2.5l.1 4.8l.1-10.8l0 22.2l.1-14.3l.1-2.8l.1 12.1l0-24.5l.1 18.9l.1 .1l.1 5l.1-12.5l0 4.9l.1 4.8l.1 61.4l.1-69.5l0-3.9l.1 7.4l.1 6.8l.1-2.3l.1 9.3l0-8.6l.1-9l.1 2l.1 4l0 1.3l.1-14.3l.1 10.4l.1-4.8l0 3.9l.1 6.3l.1-15.5l.1 19l.1-.2l0-4.3l.1 1.3l.1-.7l.1 .2l0-10.5l.1 7.1l.1-2.2l.1 11.1l.1-4.1l0-12.5l.1 14.8l.1-15.4l.1 14.4l0-7.9l.1 6.7l.1-5.8l.1 6.1l.1-3.4l0-14.4l.1 15l.1-18.6l.1 19.1l0 4.1l.1-7l.1 2.6l.1-15.7l.1 7.3l0-2.4l.1 4.2l.1-16.4l.1 15.2l0 1.9l.1 8.2l.1 .6l.1-6.2l0-6.1l.1-.9l.1 13.4l.1-8.9l.1 2.5l0 7.5l.1-9.9l.1 15.5l.1-13.6l0-19l.1 26.5l.1-5.8l.1 10.7l.1-6.7l0-9.2l.1 11.1l.1-5.5l.1 1.6l0 .2l.1-3.2l.1-2.3l.1-5.5l.1 3l0 8.8l.1-13.4l.1 1.5l.1 17.7l0-13.3l.1-1.2l.1-1.1l.1 3.2l.1 10.8l0-5.5l.1 9.9l.1-10.5l.1-17.2l0 11.6l.1-1.2l.1 8.5l.1 3.1l0 .3l.1-6.7l.1 5.1l.1-1.2l.1-11.5l0 17.5l.1-2.1l.1-4.5l.1-1.9l0 .1l.1 6.6l.1-8.5l.1 1.9l.1-3.1l0 8.5l.1-7.7l.1 .2l.1 4.6l0-2l.1 1.6l.1-12.6l.1 28.4l.1-11l0 2l.1-7.6l.1 1.3l.1-1.1l0-7.2l.1 14.1l.1-4.5l.1-3.4l.1 5.4l0-9.1l.1 .4l.1 5.7l.1 6.5l0-22.3l.1 8.9l.1 .4l.1 2.5l0 .5l.1-5.9l.1 6l.1 2.9l.1-8l0 4.6l.1 4.4l.1 .9l.1-13.4l0 4l.1-11.3l.1 18.3l.1 1.3l.1-6.6l0-7.3l.1 5.8l.1 1.2l.1-11.8l0 18.7l.1 2.9l.1-2.9l.1-2.2l.1-4.2l0-4.9l.1 4.6l.1-8.8l.1 16l0-19.4l.1 19.4l.1-12.9l.1 13.7l.1-7.5l0 2l.1-3.3l.1-1.6l.1 6.3l0-.7l.1-1.9l.1 8.5l.1-3.3l0 5.3l.1-9l.1-18.1l.1 12.9l.1 9.9l0-1.2l.1-10.6l.1 9.5l.1 6.5l0-3.2l.1 .1l.1-.2l.1-10.4l.1 4.3l0 8.3l.1-5.2l.1 3.7l.1 .3l0 1.4l.1-21.5l.1 15l.1-5.7l.1-2.2l0 8.3l.1-5.8l.1 0l.1 2.3l0-16.2l.1 15.8l.1 3.1l.1-5.8l.1-9.1l0 6.4l.1 9.7l.1 2.1l.1 .5l0-1.8l.1-6l.1-3.4l.1 18l0-11.8l.1 6.1l.1-11l.1-2l.1 10.8l0-1.7l.1 2.9l.1-8l.1 11.7l0-2.7l.1-2.9l.1-12.3l.1-11.3l.1 20.1l0 6.9l.1-7.2l.1 5l.1-7.9l0 9.5l.1-4.3l.1-1.9l.1-3.8l.1 4.2l0-9.7l.1 8.4l.1 11.1l.1-17.1l0 8.4l.1 1.7l.1-15l.1 17.2l.1-6l0 4l.1-13.8l.1 12.2l.1-3.6l0 9.1l.1-18.6l.1 17.1l.1-12.8l0-1.5l.1-.7l.1-5.6l.1 21.1l.1-9.5l0 2l.1-2.2l.1-5l.1 7.4l0 4.9l.1-3.6l.1-12.6l.1 18.6l.1-7.2l0 5.9l.1-13.6l.1 17.2l.1-7.1l0-1.1l.1-1.6l.1-19.4l.1 8l.1 17.8l0-23.7l.1 24.7l.1 4l.1-2.7l0-9.5l.1-2.4l.1 16l.1-15.4l.1 4.8l0-6.8l.1 7.4l.1-8.9l.1 2.6l0 10.7l.1-18l.1 9.8l.1-3.9l.1-4.2l0 14.9l.1-4.8l.1 3.7l.1 .9l0-7.1l.1-.6l.1-7.8l.1-.5l0 11l.1 4.1l.1-32.8l.1 10.3l.1 18.9l0 4.3l.1-2.6l.1-4.6l.1-6.2l0 1l.1 4.1l.1 4.7l.1-2.8l.1 3.1l0-2.4l.1 1.2l.1-4.5l.1 14.5l0-8.7l.1-.3l.1 4.6l.1-5.2l.1 4.7l0-2.2l.1-1.9l.1-.2l.1 1.6l0-11.4l.1 6.6l.1-.9l.1 .6l.1 5.5l0 .9l.1-11l.1 8.5l.1 7.7l0 2.5l.1-14.1l.1 5.7l.1-3.5l0 2.7l.1-.8l.1-1.3l.1 6l.1-7.1l0-7.5l.1 2.1l.1 14.8l.1-1.8l0-.1l.1-6l.1-8.1l.1 4l.1 12l0-10l.1-5.8l.1 8.9l.1-18.7l0 19.7l.1-12.9l.1-10.9l.1 27.4l.1-5.3l0-6.5l.1-24.1l.1 38.3l.1-14.2l0 2.1l.1 4.8l.1 2l.1-1.5l.1-1.2l0 5.4l.1-20.3l.1 19.2l.1-3.6l0 1.2l.1-1.3l.1-3.4l.1 5.1l0-2.8l.1-16l.1 6.4l.1 9.9l.1-8.7l0 11.2l.1-6.2l.1 10l.1-1.8l0-1.6l.1-14.8l.1 8.1l.1-2.5l.1 3l0-1.5l.1-.4l.1-2.7l.1 4.5l0 6.4l.1-.5l.1-14.4l.1-1.4l.1 6.8l0 13.7l.1-22.5l.1 10.7l.1 2.8l0-.7l.1 2.7l.1-17.4l.1 .8l.1 19.9l0-4.5l.1-3.6l.1-8l.1 24l0-20.7l.1-7.1l.1 16.3l.1-2l0-10.3l.1 7.3l.1 10.5l.1-1.1l.1-1l0 2.6l.1-8.4l.1 3.4l.1-3.8l0-5l.1-9.7l.1 13.5l.1 12l.1-21.5l0 11.9l.1-10.2l.1 12.4l.1-5.3l0 3.2l.1-.9l.1-10.3l.1 14.3l.1-5.4l0-.4l.1 4.4l.1 10.2l.1-15.5l0 18.5l.1-7l.1-5.9l.1-6.4l.1-3.1l0 .2l.1 1.6l.1 7.1l.1-12.3l0 11.7l.1-11l.1 22.2l.1-7.6l0-1.9l.1-3.8l.1 13.9l.1-20l.1-1.6l0 1.8l.1 9.4l.1-15.6l.1 15.7l0-10.5l.1 7.2l.1-.3l.1 1l.1-1l0-9.1l.1-3l.1 .1l.1 4.9l0 1.8l.1 1.7l.1-11.6l.1 18.1l.1 1.1l0-4.6l.1 10.3l.1-8.2l.1-1.4l0 5.7l.1-2.2l.1-9.1l.1 6.9l.1-2.3l0-7.7l.1 12.4l.1 2.5l.1-6.4l0-3.5l.1 13.8l.1-15.6l.1 7.3l0 .7l.1 2.4l.1-4.1l.1-9l.1 3.6l0-2l.1 8.7l.1-16.3l.1 3.4l0 10.3l.1 15l.1-15.6l.1-24.6l.1 25.4l0 5.8l.1-20.8l.1 18.8l.1-8l0-1.9l.1 14.5l.1-9.8l.1-8.7l.1 12l0-7.4l.1 5.1l.1-8.4l.1-8l0 22.8l.1-4.4l.1-5.2l.1 7.3l.1 1.1l0-2.8l.1-.6l.1 2.4l.1-7l0-3.6l.1 .7l.1 .4l.1-4.5l0 17.7l.1-7.4l.1-2.1l.1-2.7l.1 13.8l0-26.5l.1 22.4l.1-7.8l.1-3.4l0-3.3l.1 13.4l.1-.8l.1-6.8l.1-1.6l0-2.8l.1 7.7l.1 4.3l.1 3.2l0-23.1l.1 23.4l.1-13.4l.1 3l.1-3.6l0-2l.1-3.7l.1 11.8l.1-3.5l0 14.5l.1-11.8l.1 6.2l.1-4.8l.1-11.3l0 9.5l.1-8.1l.1 10.2l.1-4.5l0 6.1l.1 12.1l.1-10.2l.1-3l0-3.1l.1 1.1l.1 .9l.1-8.6l.1 3l0 7.6l.1-9.9l.1 18.7l.1-9.7l0-1l.1-12l.1 14.8l.1 5.1l.1-10.3l0-13.4l.1 16.2l.1-.8l.1 .7l0-1.8l.1-10.6l.1-6.2l.1 13.5l.1 4.4l0-17.2l.1 15.8l.1 .2l.1 3l0-.3l.1-4.2l.1 4l.1-5.4l.1 2.7l0-3.6l.1 7l.1-1.5l.1-3.3l0 1.5l.1-.3l.1-8.9l.1 16.4l0 4.9l.1-17.3l.1 7.3l.1-13.2l.1 12.1l0 6.6l.1-27.5l.1 17.1l.1 6.5l0 1.9l.1-9.5l.1 9.1l.1-7.9l.1-6.6l0 18l.1-5.7l.1-6.3l.1-10.9l0 6.9l.1 11l.1-16l.1 15.3l.1-1.5l0-4.1l.1 9.9l.1-33.6l.1 16.6l0 8.3l.1 5.9l.1 3l.1-10.1l.1-2.4l0 8.2l.1-1.5l.1-5.6l.1 4.6l0 10.9l.1-16.3l.1 3.1l.1-3.8l0 10.9l.1 7.1l.1-4.7l.1-9.9l.1-16.5l0-2.7l.1 19.1l.1 11.3l.1-6.5l0-5.9l.1 .1l.1 2.7l.1-10.8l.1 17.4l0 6.7l.1-6.8l.1 1.4l.1-27.9l0 22l.1 7.3l.1-13.2l.1-3.6l.1 7.8l0-1.2l.1-6.8l.1 4.4l.1 8.9l0-9.3l.1-3.2l.1 4.9l.1-4.5l.1 2.8l0 6l.1-.6l.1-5.6l.1 8.6l0-13.6l.1-.8l.1 22.4l.1-11.6l0 4.8l.1-.7l.1-5.7l.1 2.3l.1-5.4l0 1.7l.1-.4l.1 8.3l.1-2.8l0-15.2l.1 27.7l.1-30.3l.1 19.4l.1-14l0 25.3l.1-12.4l.1-9.9l.1 5.7l0-7.1l.1 14.1l.1-1.7l.1 .5l.1-8.5l0 .3l.1 4.4l.1 1.1l.1 .2l0-2.7l.1 6.8l.1-5.8l.1 .6l.1 3l0 .1l.1-16.8l.1 17.1l.1-7.6l0-8.6l.1 6l.1 5.7l.1-8.1l0 16.8l.1-1l.1-4.7l.1-1.3l.1-.9l0-17.3l.1 1.7l.1 15.2l.1-2.3l0 8l.1-8.5l.1 10.5l.1-20l.1 15.9l0-8l.1 12l.1-19.8l.1 7.5l0-12.6l.1 16.7l.1 10.4l.1-4.6l.1 2.2l0-21.3l.1 18.2l.1 .7l.1-9.6l0 2.3l.1-1.7l.1 7.5l.1 8.2l.1-3.8l0 4.9l.1-23.8l.1 3.5l.1 10.1l0-7.3l.1-.4l.1 .3l.1 .7l.1-3.1l0 6.6l.1 13.8l.1 2.8l.1-26.7l0 6.2l.1 19.5l.1-16.3l.1 7.1l0-1.8l.1 11.4l.1-21.4l.1 6.6l.1-7.1l0-2.3l.1-2l.1-3.6l.1 12.2l0 .6l.1 6.2l.1-8.6l.1 5.8l.1 5.4l0-16.9l.1 4.4l.1 21.1l.1-4.5l0-9.6l.1 6.5l.1-18.3l.1 8.9l.1-3l0-3.3l.1-3.8l.1 13.4l.1-6.7l0 2.8l.1-4.4l.1 2.1l.1-8l.1 8.1l0 7.7l.1-4.3l.1 7.8l.1-9.5l0-10.6l.1 17.4l.1 5.9l.1-9.6l0 3.1l.1-3.7l.1 4.3l.1-4.8l.1 7l0-19.8l.1 15l.1-5.5l.1-1.8l0 6.8l.1-4.6l.1 5.4l.1 1.5l.1-1.7l0-5.4l.1 11.2l.1-1.5l.1-.6l0-1.2l.1-13.4l.1 9.6l.1 2.1l.1-3.3l0-7.6l.1 13.6l.1-13.3l.1 22.4l0-8.4l.1-18.3l.1-.7l.1 12l.1 4.5l0-9.6l.1 9.5l.1-16.4l.1 3.8l0 3.8l.1 11.2l.1-13.3l.1 9.7l0-.1l.1 1.4l.1-2.3l.1-4.7l.1-2.8l0 0l.1-22.1l.1 31.3l.1-11.9l0 13.9l.1-3.2l.1 5.6l.1-16.6l.1 7.7l0 1l.1 1.8l.1-8.2l.1 11l0-6.7l.1-19.5l.1 23.6l.1 3.3l.1 2l0-12.5l.1 5.7l.1 5.5l.1 .4l0-5.6l.1 6.4l.1-24.3l.1 19.5l.1 0l0-.7l.1 10.2l.1-2l.1-6.1l0-2.5l.1 7.1l.1-21.9l.1 11.1l0-7l.1 1.1l.1 11.2l.1-23.8l.1 21.2l0 11.9l.1 3l.1-14l.1-6.6l0 6.1l.1-14.4l.1 17.2l.1-6.5l.1-1.2l0 11.7l.1-8.4l.1-.5l.1-6.1l0-.8l.1 1.9l.1 12.7l.1-10.4l.1-3.1l0 8.4l.1-5.3l.1-.1l.1-3.8l0 8.9l.1-3l.1 2.2l.1 1l.1 4.6l0-1.6l.1 4l.1-5l.1-6.7l0 .5l.1-.8l.1 6.4l.1-12.2l0 14.6l.1-8.9l.1 2.6l.1 7.9l.1-.2l0-10.1l.1 5.3l.1-1.6l.1-25.4l0 23l.1 3.4l.1-4.6l.1 9.5l.1-2.6l0-4.7l.1 8.4l.1-4.8l.1 1.2l0-2.2l.1 11l.1-25.1l.1 15.5l.1-4.7l0 10.1l.1 1.8l.1-8l.1 2.6l0-7.3l.1 10.4l.1 .3l.1-8.1l.1-2.9l0-1.6l.1 7.1l.1-2.1l.1 6.8l0-15.3l.1 1.4l.1 .3l.1 18.2l0-15.9l.1 11l.1-8.2l.1 .5l.1-6.5l0 11.2l.1 1l.1 3.3l.1 1.2l0-11.3l.1 9.7l.1-10.4l.1 7.8l.1 1l0-10.8l.1 .8l.1 12l.1-4.3l0-1.3l.1-5l.1 9.5l.1-1.6l.1-2l0-6.1l.1-1.3l.1 10l.1-18.1l0 11.6l.1 7.8l.1 4.3l.1-5.7l.1 10.3l0-14.9l.1-2.9l.1-5.8l.1 6.3l0 13.4l.1-7.6l.1-7.3l.1 18l0-7.9l.1-9.5l.1 4.3l.1 12l.1-8.3l0-3.5l.1-17.7l.1 20.8l.1 2.3l0-7l.1-.6l.1-1.9l.1-7l.1 11.8l0 7.6l.1-8.4l.1 .2l.1-6.9l0 .7l.1 10.7l.1-10.2l.1-1.6l.1 8.8l0-8.3l.1 5.7l.1-.1l.1 2.4l0-7.1l.1-19.4l.1 23.7l.1 8.4l.1-5l0 1.9l.1-5.9l.1 3.4l.1-23.8l0 17.1l.1-9.9l.1 19.8l.1-2.7l0-19.3l.1 27.2l.1-10.6l.1 10.1l.1-21.5l0 20.9l.1-6.2l.1-.8l.1 8.2l0-31.6l.1 23.3l.1-14.9l.1 17.8l.1 4.4l0-10.2l.1 .2l.1-24.8l.1 32.1l0 3.2l.1-4.8l.1-6.5l.1-2l.1 8.7l0-2l.1-6.6l.1-4.2l.1 12.1l0-4.7l.1 16.5l.1-10.1l.1-8.5l.1 3.2l0 1.3l.1-14.7l.1 15.3l.1 4.2l0-7.8l.1 0l.1 8.2l.1-14.1l0-6.7l.1 17.8l.1 1.4l.1-4.4l.1-10.5l0 13.4l.1 .8l.1-.7l.1-5.5l0 .2l.1 2.9l.1-10.8l.1-9.7l.1 22.8l0-11.5l.1 5.9l.1-24.8l.1 31.8l0-2.6l.1-3.3l.1 9.3l.1-6.9l.1-7l0 14l.1-9.5l.1-14.1l.1 18.8l0 1.4l.1 8.9l.1-13.2l.1 8.5l.1-13.6l0-9.5l.1 9.5l.1 8.9l.1-9.7l0 8.1l.1 3.4l.1-3.3l.1-5l0 4.3l.1-6.5l.1-14.6l.1 13.9l.1-1l0 9.8l.1-14.7l.1 8l.1-5.1l0 12.3l.1-6.4l.1 15.3l.1-11.1l.1 2.5l0 .7l.1-20.2l.1 23.6l.1-7.9l0-.1l.1-5.1l.1-3.6l.1 16.9l.1-5.8l0 .9l.1-9.7l.1-1.5l.1 9.6l0 .7l.1 2.2l.1-8.3l.1-11.3l.1 11.2l0 7.1l.1 .6l.1-.6l.1 5.2l0-24.2l.1 14l.1 3l.1-21.5l0 17.5l.1-10.5l.1 10.1l.1-6.6l.1 8l0 3.2l.1-5.6l.1-2.4l.1-3.1l0 7l.1 3.3l.1 .8l.1-4.9l.1 5.5l0-.9l.1-6.4l.1-.4l.1 .6l0 8.4l.1 4l.1-10.6l.1 1.2l.1 3.5l0-4.2l.1-4.8l.1 7.8l.1-4.4l0 8.5l.1-4l.1 3.4l.1 3.6l.1-11.8l0 19.3l.1-15.6l.1-6.4l.1 3l0 12l.1-10.9l.1 12l.1-5l0-16.7l.1 10.3l.1-8.2l.1 15.5l.1 6l0-7.5l.1-14.8l.1 3.4l.1-1.6l0 9.5l.1-.5l.1 .8l.1-27.6l.1 25.4l0-14.2l.1 16.2l.1-12.1l.1 16.9l0-2.8l.1-5.9l.1 6.3l.1-.9l.1-1.6l0 2.3l.1-16.5l.1 3.9l.1 17.4l0-22.9l.1 14.8l.1-.1l.1 1l.1-7.6l0 1l.1 8.9l.1-4l.1 8.2l0-23.7l.1 21.1l.1 .2l.1-.9l.1-5.5l0-4.6l.1 8.1l.1-2.8l.1 2.7l0-12.7l.1 8.6l.1 11.6l.1-22.2l0 9.8l.1-14.3l.1 20.8l.1-.7l.1-2l0 7l.1-5.7l.1-12.7l.1 4.7l0 19.3l.1-24.3l.1 7.7l.1-3.5l.1 5.7l0-1l.1 .9l.1 .1l.1 6.4l0-14.2l.1 6.6l.1-1.3l.1 .4l.1 4.7l0-1.8l.1 7.6l.1-9.9l.1-.1l0 3.8l.1 8.2l.1-20.6l.1 11.9l.1-1.2l0 2.2l.1 1.6l.1-1l.1 3.4l0-2.4l.1-21.9l.1 8.6l.1-8.1l0 21.6l.1 6.5l.1-2.5l.1 6.7l.1-23.4l0-1.2l.1 9l.1-2l.1 .1l0 3.6l.1-6.4l.1 11.4l.1-2.8l.1-2l0 8.9l.1-4.1l.1-9.2l.1 .8l0 16.8l.1-21.2l.1 4.4l.1-3.2l.1 6.2l0-4.9l.1 12.1l.1-6.1l.1 4.6l0-2.7l.1-12.8l.1-4.3l.1 13.3l.1 3.4l0-8.9l.1 2.4l.1-13.2l.1 11.8l0 18.5l.1-14.1l.1 2.8l.1 2.6l0-5.9l.1 .5l.1 3l.1-15l.1 9.8l0-.4l.1 1.9l.1-8.5l.1 16l0-15.9l.1 11.4l.1-14.1l.1 .7l.1 7.8l0 7l.1-5.2l.1-.6l.1 11.3l0-6.3l.1 2l.1-15.3l.1-3.4l.1 18.9l0-1l.1 4.3l.1-9.7l.1-4.2l0-9.1l.1 22.7l.1-14.5l.1 8.1l.1 3.4l0-2l.1 2.2l.1-8.1l.1 3.4l0-9.4l.1 12.9l.1 7l.1-4.7l0-8.2l.1 11.2l.1-4.1l.1-8.7l.1 12.2l0-14.4l.1 3.9l.1 6.2l.1-3.5l0 3l.1-.5l.1-.5l.1-2.4l.1 .8l0 3.9l.1 1.1l.1-23.6l.1 24.1l0-5l.1-10.7l.1 2.1l.1 11.9l.1-21.7l0 2.5l.1 17l.1 5l.1-12l0 6.2l.1 .7l.1 2.8l.1-1.1l.1-5l0-5.4l.1 18.6l.1 1.6l.1-20.8l0 12.2l.1-10.2l.1 4.4l.1-9.1l0 3.3l.1 8.7l.1-.8l.1-3.5l.1-3.3l0 9.5l.1 5l.1-9.7l.1 1.1l0 .8l.1 4.5l.1-10.2l.1 14.4l.1-6.6l0-13.5l.1 16.6l.1-9.3l.1-.4l0 .3l.1 12.7l.1-17.3l.1 6.6l.1-2.6l0 83.8l.1-80.6l.1-9.2l.1-1.8l0 21.8l.1-5.6l.1-3.5l.1 11.5l.1-24.6l0 16.5l.1-8.9l.1 2.6l.1 3.3l0 4.1l.1-3.2l.1-3.3l.1-5.1l0 7.4l.1 1.2l.1-.9l.1-12.2l.1 8.3l0 6.2l.1 3.3l.1-4.6l.1 2.4l0-2.4l.1-13.6l.1 5.5l.1 3.6l.1-1.3l0-11.5l.1 21l.1-9.8l.1 4.8l0-2.6l.1 .5l.1 2.8l.1-6.3l.1 16.7l0-14.7l.1-3.1l.1 10.6l.1 .1l0-21.8l.1 21.4l.1-2.5l.1 2l.1-.8l0 .3l.1 8.2l.1-33.1l.1 25.2l0-7.1l.1 3.3l.1-11.3l.1 5.4l0-3.6l.1-.3l.1 3l.1 5.9l.1-6.4l0 15.9l.1-15.7l.1 1.2l.1 3.1l0 10l.1-18.4l.1 14.7l.1-8.8l.1 14.9l0-8.9l.1 2.7l.1 .7l.1-.6l0-19l.1 15.1l.1-2.6l.1-16.1l.1 26.9l0-20.9l.1 15l.1 1.4l.1-1.1l0 7.3l.1-1.1l.1-2.5l.1-2.9l.1-9l0-3.1l.1 11l.1-5.1l.1-.6l0 4.9l.1-3.4l.1 5.4l.1-7.9l0 5.9l.1-2l.1-1.6l.1 .8l.1 5.5l0 3.5l.1-7.4l.1 3.1l.1-.2l0-2.6l.1 3.5l.1-7.6l.1 .4l.1 8.1l0-7.8l.1 8l.1-10.9l.1 .8l0 4.7l.1-6.6l.1-1.2l.1 4.5l.1 13.4l0-11.1l.1-.5l.1-4.5l.1 11.5l0-10.8l.1 2.8l.1-.5l.1 10.2l.1-2.2l0-13.9l.1 2.7l.1 6.8l.1-9.1l0 6.5l.1 4.8l.1 6.4l.1-16.9l0 8.7l.1-2.8l.1 11.8l.1-6.5l.1-5.7l0 4l.1 2.6l.1 1.8l.1-7.8l0 4.1l.1-.2l.1-.3l.1 2l.1-1.7l0 1.5l.1-4.1l.1 8.3l.1-1.9l0-6.4l.1 1.5l.1-2.4l.1-16.1l.1 11.7l0-3.3l.1 5.8l.1 3.9l.1 3.9l0 5.5l.1-2l.1 5.2l.1-7.2l.1 2.9l0-3.7l.1-5.4l.1 2.7l.1-9.3l0-.1l.1-1.2l.1 1.5l.1 4.4l0 5.2l.1-6.7l.1 5.2l.1-.4l.1-4.4l0 9l.1 3.4l.1-11.8l.1-12.5l0 6.1l.1-23.2l.1 40.2l.1-4.2l.1 9.2l0-8.2l.1-21.1l.1 2.7l.1 19l0-3.4l.1 2.6l.1 3l.1-6.1l.1 .5l0-3.1l.1-1.1l.1-3.4l.1-5.5l0 11.3l.1 1l.1-1.7l.1-3.2l.1 4.3l0 4.7l.1-2.3l.1-8.9l.1 11.3l0-11.8l.1 14.2l.1-12.8l.1 .1l0 6l.1-1.4l.1 1.6l.1-15.8l.1 17.1l0 1.5l.1-7.3l.1-6l.1 6.3l0 3.5l.1-9l.1 12.6l.1 .1l.1 2.4l0-16.7l.1 22.4l.1-5.4l.1-9.3l0-1.2l.1-11.5l.1 11.3l.1 6.5l.1-14.2l0 2.5l.1-.8l.1 .8l.1 4.5l0 12.4l.1-2.5l.1-23l.1 16.6l.1 10.7l0-10.8l.1-6.8l.1 4.3l.1 2.7l0 13.7l.1-14l.1 1.5l.1-15l0 13.9l.1 .5l.1 2.6l.1-2.1l.1-2.8l0 5.3l.1 1.9l.1 1.9l.1-8.1l0 3.4l.1-.2l.1 6.6l.1-3.9l.1 5.6l0-17.8l.1-2.1l.1 6.2l.1 3.9l0-4.3l.1 12.3l.1-1.1l.1-17l.1 15.3l0-5.7l.1 3.9l.1 9.8l.1-9.7l0-10.4l.1-4.2l.1 24.6l.1-5l.1-5.5l0-11.5l.1-2l.1-3.5l.1-1l0 17.1l.1 2.8l.1-12.7l.1 8.8l.1-2.1l0 2.8l.1 .2l.1-9.6l.1 12.7l0 4.2l.1-5.7l.1-5.1l.1 3l0-1.2l.1 10.2l.1-5.9l.1-13.8l.1 9.7l0 3.1l.1-13.2l.1 12.6l.1-9.3l0 4.1l.1-1.5l.1-5.1l.1-10.9l.1 8.9l0 15.3l.1 1.1l.1-3.9l.1-1.1l0-6.5l.1 5l.1-1.2l.1 11.3l.1-9.5l0-4.3l.1-10.4l.1 8.5l.1 5.1l0 7.6l.1-6.8l.1-.1l.1 1.1l.1-2.2l0-2.7l.1 .5l.1-15.5l.1 24.6l0 3.6l.1-12.2l.1 10.1l.1-5.7l0-.9l.1 4.4l.1-10.9l.1 1l.1 3.9l0-3.6l.1-1.7l.1 8.6l.1-6.8l0 3.5l.1 1l.1 3.2l.1-17.8l.1 12.3l0 10.8l.1-12.2l.1 18.2l.1-16.4l0-3.8l.1-5.7l.1 9.9l.1 6l.1-21l0 8.5l.1-2.2l.1 12.1l.1-6.6l0 14.9l.1-13.7l.1 15.8l.1-6.3l.1 2.8l0-17.8l.1 2.3l.1 10.6l.1-13.6l0 9.2l.1 12.1l.1-8.8l.1 7.3l0-10.6l.1-2l.1 7.2l.1-10.6l.1-2.2l0 13.5l.1-9.6l.1 5.1l.1 1.3l0-16.2l.1 18.5l.1-1.8l.1-2.1l.1-4.8l0-1.5l.1 11.3l.1-16.2l.1-4.8l0-1.9l.1 16.2l.1 4.6l.1 2.7l.1-8.6l0 3l.1-.1l.1 3.6l.1 9l0-10.9l.1-.8l.1 1.3l.1 5.8l.1-6.4l0-.9l.1 5.3l.1-11.3l.1 5.1l0-1.2l.1-1.9l.1 4.8l.1-1.3l0-4.7l.1-1.6l.1-.9l.1 8l.1-7.2l0-3.3l.1 17.4l.1-5.5l.1-2.7l0-.2l.1-15.1l.1 5.7l.1 10.5l.1-.2l0 7.5l.1-2.6l.1-16.3l.1 20.5l0-14.7l.1 9.2l.1-2.2l.1-1.5l.1-16.4l0 13.2l.1-1.4l.1-4.1l.1 21l0-29.1l.1 25.8l.1-5.3l.1-9.7l.1 12.5l0 2.8l.1-19.4l.1 11.6l.1-9.4l0 3.4l.1 5.1l.1-15.8l.1 16.3l0-19.6l.1 23l.1 .5l.1-1.5l.1-6l0 8.1l.1-2l.1-16.3l.1 10.5l0-7.9l.1 6.6l.1 6.5l.1 .9l.1-6.1l0 .8l.1 4.1l.1 .2l.1-15.7l0 3.8l.1 6l.1 4.6l.1 .5l.1-20.4l0 21.4l.1-24.1l.1 24.4l.1 4.6l0-26.3l.1 18.4l.1-13.6l.1 9.4l.1 5.1l0-8.8l.1 9.2l.1-5.4l.1 4.3l0 9.1l.1-13l.1 6.4l.1-2.4l0-4.1l.1 11.5l.1-12.5l.1-.3l.1-12l0 10.3l.1 3.7l.1 6.5l.1-3.9l0 8.2l.1-11.3l.1 4.4l.1 1.1l.1-2.6l0-3.3l.1 1.5l.1 8.8l.1-17.3l0 10.2l.1-2.1l.1 2.3l.1 5.5l.1-7.3l0 4.6l.1 2.3l.1-5.9l.1-4.7l0 1.1l.1 3.2l.1 5.2l.1-1.5l.1-1.2l0 7.3l.1-14.4l.1 5.4l.1 8.1l0-19.3l.1-4.4l.1 23.8l.1-6.2l0 3.5l.1-10.5l.1 13.8l.1-11.6l.1 .9l0-5.8l.1 19.1l.1-6.1l.1-3l0-8.4l.1 6.3l.1-4.9l.1 2.3l.1 8.3l0-4.1l.1 1.7l.1-.4l.1 2.9l0-10.7l.1 3.5l.1 13l.1-16.3l.1 8.9l0 5.1l.1-17.9l.1 9.6l.1-2.7l0 3.6l.1-.7l.1 9.6l.1-15.6l.1 10l0-4.3l.1 .7l.1 4.5l.1 2.1l0-6.1l.1-11l.1 13.7l.1-.2l0-4.3l.1 4.2l.1-13.8l.1 7l.1-18.5l0 20.2l.1-17.4l.1 22.5l.1-5.2l0 7.6l.1-3.4l.1-.4l.1-6.7l.1-6.1l0 12.4l.1 6.6l.1-8.3l.1 1.2l0 1.8l.1-9.5l.1-2.2l.1 12.7l.1 0l0 9.7l.1-10.1l.1-10l.1 11.3l0-11.8l.1 1.7l.1 .4l.1-.1l.1 5.4l0-8.1l.1-.5l.1 5.4l.1 2.8l0-10.6l.1-1.5l.1 15.6l.1-10.1l0 5.8l.1-19.3l.1 22l.1 1.5l.1 1.4l0-11.9l.1 12.7l.1-10.7l.1 8l0-13.8l.1-2.1l.1 4l.1 19.9l.1-2.7l0 6.2l.1-38.2l.1 27.2l.1-1l0-2.9l.1-4.2l.1 6.8l.1-2.8l.1 .7l0 7.4l.1-22.6l.1 .8l.1 14.1l0 1.2l.1-16.7l.1-5.3l.1 20.6l.1-4.2l0 7.2l.1-5.1l.1 16.2l.1-.9l0-16l.1 4.5l.1-4.2l.1 2.3l0-4l.1 2.7l.1 3.1l.1-4.3l.1 7l0-15.1l.1 16.4l.1-2.7l.1-9.3l0 9.1l.1-9.5l.1-4.3l.1 5.5l.1 8.7l0-18.7l.1 12.6l.1 8.6l.1-22.4l0 15.7l.1-3.2l.1-2.1l.1 9.9l.1-9.9l0 13.9l.1-1.9l.1-2.7l.1-21.4l0 14.3l.1-4.6l.1 11.9l.1-6.8l.1 16.3l0-10.5l.1-4.9l.1 6.6l.1 7.9l0-2.2l.1-14l.1-5.8l.1 13.1l0-15.5l.1 20.7l.1-12.3l.1 2.5l.1-5.6l0 16.4l.1-15.9l.1 6.5l.1 5.6l0-1.9l.1-1.2l.1-3.6l.1 6.8l.1 0l0-5.3l.1 1l.1-3.9l.1-3.2l0 17.4l.1-9.8l.1-2.4l.1 1.5l.1 6.4l0-11.4l.1-8.7l.1 15.2l.1 3.1l0-10l.1 5.7l.1-.7l.1-.8l.1 4.4l0-2.6l.1 3.8l.1 7.5l.1-19.1l0 5.6l.1 2.7l.1-11.1l.1 11.6l0-9.3l.1 2.1l.1 8l.1 5.4l.1-10.7l0 1.9l.1-6l.1 16.1l.1-7.6l0-2.6l.1-.8l.1 1.7l.1-1.5l.1 15l0-10.7l.1 1.7l.1 4.8l.1-9.2l0 3.1l.1 4.3l.1 1.2l.1-10.2l.1 16.1l0-13l.1 5.7l.1-7.3l.1-15l0 8.3l.1 8.1l.1-12.4l.1-3.7l.1 8.1l0-7.8l.1 13.7l.1-3.1l.1 5.3l0 1.6l.1-2.4l.1 4.3l.1-3.5l.1-19.6l0 13.6l.1 6.6l.1-15.3l.1 2.6l0 17.5l.1-2.3l.1-17.9l.1 13.5l0-.7l.1 4.3l.1 3.4l.1-14.9l.1 12.8l0-8.2l.1-11.5l.1 11.6l.1 5.2l0-6l.1 .6l.1 6.7l.1-4.6l.1 8.9l0 3l.1-6.8l.1 6.9l.1-6.5l0-2.7l.1-2.1l.1-14.1l.1 20.6l.1-2.5l0 0l.1 3.1l.1-22.7l.1 21.1l0-2.6l.1-.3l.1-22l.1 22.7l.1 2.2l0-13.5l.1 13l.1 8.4l.1-20.3l0 1.3l.1 15l.1-.8l.1-6.8l0 5.2l.1 2.8l.1-1.3l.1-21.6l.1 6.6l0 14.2l.1-5.1l.1-1.6l.1 2.6l0-1.7l.1-14.5l.1 17.7l.1 .6l.1-3.6l0 3.2l.1-1.1l.1 0l.1 3.3l0-14.7l.1 12.5l.1-13.8l.1 15l.1 .4l0-6.8l.1 3.3l.1-8l.1 1.5l0-15.2l.1 36.7l.1-10.6l.1-5.6l.1 .9l0-.9l.1-23l.1 34.8l.1-17.1l0 6.3l.1-1.4l.1-8.2l.1 8.7l0-6.4l.1-4.1l.1 1.1l.1 19.8l.1-7.4l0 3.9l.1-3.1l.1-3.1l.1-18.7l0 21l.1-1.7l.1-.6l.1-13.1l.1 15l0-6.3l.1-2.9l.1 2l.1 15.8l0-4.2l.1-12.2l.1 15.3l.1-9l.1 7.1l0-11.3l.1 3.3l.1 8.6l.1-7.5l0 4.8l.1-3.3l.1-12.1l.1 7.3l.1-.4l0-9.8l.1 11.5l.1-9.2l.1 7l0 1l.1 3.9l.1 2.6l.1 1.3l0-.6l.1-9.1l.1 .8l.1 7.6l.1-13.8l0 12.4l.1-1.1l.1 5.3l.1-2.8l0-11.1l.1 3.3l.1 6.3l.1-12.3l.1 9.6l0-.9l.1-7.5l.1 4.6l.1 5.2l0 4.2l.1-15.6l.1 22.3l.1-9.6l.1 7l0-7.2l.1-9.2l.1 8.1l.1 .4l0-1.9l.1-16.4l.1 5.6l.1 8.9l.1 4.8l0-1.1l.1-4.6l.1 3.7l.1-.5l0 5.2l.1 1.4l.1-1.1l.1-7.8l0 6.7l.1-26.7l.1 17.5l.1-.7l.1-2.8l0 13.3l.1 .7l.1-5.3l.1-5.6l0 .2l.1-9l.1 2.1l.1 2.9l.1-.6l0 6.4l.1-4.5l.1 8l.1 .7l0-9.6l.1 16.3l.1-20.2l.1-4.4l.1 18l0-8.4l.1 4.4l.1 6.6l.1-8.2l0-1.1l.1-3.8l.1 9.6l.1-3l.1 4.4l0-11l.1 8.2l.1-7.2l.1 10.2l0-4.5l.1 5.7l.1-.9l.1-12.2l0 9.5l.1-.6l.1-6.2l.1 9.8l.1-20.5l0 20.4l.1-1.8l.1-21l.1 28.4l0-24.2l.1 11.6l.1-.8l.1 9.7l.1-7.2l0 8.5l.1-14.8l.1 9.1l.1 2l0-.7l.1-1.7l.1-8.4l.1 4.7l.1 6.7l0 .7l.1 1.1l.1-11.7l.1 2.4l0 9.9l.1 2.6l.1-8.5l.1 2.8l.1-7l0 4.7l.1-3.5l.1-3.3l.1-1.8l0 9.1l.1-6.5l.1 8.3l.1 3.8l0-8.4l.1-7.2l.1-2.2l.1 11.5l.1 9.2l0-11.9l.1 3.5l.1-5.6l.1-3.6l0 10.4l.1 1.2l.1-1.4l.1 1.3l.1 2.1l0-6.9l.1 5.1l.1-2.1l.1 .3l0 1.3l.1-7.4l.1 6.8l.1-2l.1-6.3l0 6.7l.1 6.8l.1-5.1l.1 0l0-7l.1-8.4l.1 11.6l.1 2.1l.1-11.9l0 14.5l.1-5.4l.1-1.4l.1 3.8l0 .7l.1-2.2l.1-10.5l.1 7.6l0 7l.1-4.8l.1-5.1l.1-6.7l.1 7.9l0 4.6l.1-9l.1 3.7l.1 5.6l0 4.1l.1-3.7l.1-6.4l.1 12.8l.1 2.9l0-12.4l.1 11.8l.1-1.1l.1-5.9l0 .1l.1-1.5l.1-.7l.1-2.7l.1 4.3l0 3.8l.1 11.3l.1-24.6l.1 3.5l0 1.1l.1 4.6l.1 4.6l.1-8.1l.1 3.8l0 6.7l.1-14.5l.1 14.7l.1-5.1l0-15.6l.1 17.7l.1-5.3l.1-6.6l0 7.6l.1 7.3l.1-4.8l.1-2.2l.1 7.8l0-18.4l.1 8.4l.1-2.9l.1 3.3l0-.9l.1 4.4l.1 6l.1-12.5l.1 4.5l0-11.6l.1 18.1l.1-7.3l.1-16.5l0 24.5l.1-.6l.1-7.7l.1-11.5l.1 19.3l0-6.8l.1 1.3l.1 1.7l.1-1.3l0-10.1l.1 8l.1 7.7l.1-4l.1-3.4l0 7.8l.1-3.7l.1-1.6l.1 9.2l0-25.2l.1 23.1l.1-9.4l.1 1.2l0 2l.1-11.6l.1 8.4l.1 4.9l.1-13l0 4.7l.1 9.5l.1 2.6l.1-14.5l0 6.8l.1 7.3l.1-11.7l.1 11.4l.1-4.1l0 .9l.1 6.3l.1-15.5l.1-25.6l0 25.9l.1 1.8l.1 3.9l.1-1l.1-2l0-2.6l.1 6.7l.1-2.7l.1 1.3l0-5l.1-2.9l.1-1.2l.1 10.1l.1 .2l0-7.3l.1 6.2l.1-.3l.1-4.4l0 .6l.1-6.9l.1 16.1l.1-14.8l0 10.5l.1-7.1l.1 11.7l.1-6.3l.1 2.3l0-16.6l.1 18.8l.1-13.6l.1 12.6l0 2l.1-8.4l.1-5.7l.1 8.2l.1-4.7l0 2.7l.1 1.9l.1-10.8l.1 10.4l0-6.4l.1 12.9l.1-5.5l.1-8l.1 9.4l0 9.3l.1-17.2l.1 1.2l.1 5.7l0-2.2l.1 2.5l.1-4.7l.1-5.4l.1 6l0 2.8l.1 2l.1-1.7l.1 1.7l0-9.9l.1 13.2l.1-3l.1-5.5l0 .1l.1 .6l.1 4.1l.1-3.7l.1 9.1l0 .3l.1-.9l.1-10l.1-7.7l0 12.9l.1 .5l.1-1.3l.1-16.3l.1 13.1l0 .8l.1 3.7l.1-6.7l.1-6.3l0 8.5l.1 5.5l.1-14.2l.1 10.2l.1-14.6l0 20.3l.1-4.9l.1-2.9l.1 11.7l0-10.4l.1-3.8l.1 5.2l.1-4l.1 1.9l0 5.6l.1-9.7l.1 9.3l.1-2.1l0 2l.1-8.4l.1 7.3l.1 0l.1 9.2l0-10.2l.1-9.1l.1 19.1l.1-14.4l0 3l.1 9.4l.1-7.3l.1-9.5l0 7.2l.1-2.7l.1-5.6l.1 10.1l.1-8.4l0 13.5l.1-2.6l.1-15.8l.1 .8l0 3.5l.1 15.2l.1-6.8l.1 3.2l.1-20.4l0 23.3l.1-.4l.1-3.9l.1-5.8l0 5.7l.1-1.4l.1-4.1l.1 2l.1 10.8l0-3.5l.1-19.9l.1 12.4l.1-14.5l0 3.4l.1 3.3l.1 7.6l.1-11.6l.1 14.7l0-21.7l.1 14.6l.1-.1l.1 6.7l0 .9l.1-1.7l.1 1.4l.1 1.6l0 1.3l.1-7.6l.1-7.7l.1-7.1l.1 10.5l0 6.5l.1-5.5l.1-9.4l.1 12.9l0-6.3l.1 4.5l.1 1.8l.1 4.4l.1-8.8l0 10l.1 .8l.1-7.9l.1-4.7l0 .3l.1 .5l.1 8.4l.1-1.1l.1-9.6l0-9l.1 32.1l.1-24l.1 7.8l0 2.1l.1 3.9l.1-.5l.1 3.1l.1-8.9l0 7.3l.1-3.9l.1 7.3l.1-17.9l0 4.2l.1 11.7l.1-9.9l.1 5.8l0 2.3l.1-5.4l.1-5.7l.1-5.6l.1 9.9l0-7.1l.1 4l.1 0l.1-2.1l0 15l.1-5.3l.1-14.3l.1 19.5l.1-3l0-20.4l.1 21.2l.1-6.5l.1-1l0 4l.1-8.9l.1 .5l.1 10.5l.1-18.5l0 19l.1-1.7l.1-1.7l.1-2.6l0 7.8l.1-8l.1 14.3l.1-9.4l.1 1.9l0-.8l.1-3.3l.1-2.4l.1 5.9l0-4.2l.1 8.6l.1-6.1l.1-9.2l0 10.7l.1-1.8l.1-1.8l.1-6.1l.1 3.3l0 3.8l.1 4.3l.1-7.2l.1 18.2l0-19.4l.1 7l.1-8.7l.1 5.2l.1-10.9l0 14l.1 7.6l.1-11.3l.1 3l0-2.2l.1-9.4l.1 13.4l.1-9.6l.1-1.6l0-1.3l.1 19.1l.1-12.4l.1 4.9l0-2.3l.1 2.8l.1-2.3l.1-8.9l.1-6.8l0 8.5l.1 12.1l.1-16.4l.1 16.4l0-4.7l.1-10.4l.1 11.5l.1-8.6l0 7l.1 4.7l.1-8l.1 4.6l.1-17.3l0-.7l.1 2.9l.1 17.6l.1-21.1l0 13.2l.1-1.3l.1 2.1l.1 4.6l.1-4.1l0-5.6l.1-5.4l.1 7.8l.1 4l0 2.9l.1-.8l.1-14.8l.1 7.7l.1 3.4l0 10.6l.1 .7l.1-14.6l.1 .3l0-3.5l.1 6.7l.1 5.2l.1 5.4l.1-4.3l0 8l.1-15l.1-1.2l.1-7.4l0 21l.1-2.2l.1-12.5l.1 2.1l0 13.9l.1-7.5l.1-4.7l.1 3.1l.1-5.1l0 2.5l.1 3.5l.1-6l.1 3.4l0-9.3l.1 16.8l.1-6.6l.1 2.3l.1-2.2l0-4.6l.1-1.8l.1 16.9l.1-20.8l0 4.8l.1 .1l.1 3.3l.1-6.6l.1 4l0 13l.1-6.2l.1-2.1l.1 .6l0 .4l.1-7.1l.1 10.8l.1-2.2l.1 1.3l0-5.2l.1-3.4l.1 7.9l.1-7.6l0 6.1l.1-14.3l.1 23.6l.1-12.4l0-8.7l.1 10.8l.1 4l.1-1.6l.1-8.7l0 7.3l.1-11l.1 7.4l.1 3.6l0-.6l.1-6.1l.1-4.1l.1 11.9l.1 2.3l0-.1l.1-10.1l.1-11.6l.1 18.1l0-8.2l.1 7.6l.1-9.4l.1 15.3l.1-12.9l0 12l.1-2.9l.1-7.1l.1 4.1l0-1.1l.1-4.4l.1 2.3l.1-10.2l.1 6l0 10.4l.1-4.1l.1 2.7l.1-.7l0-17.4l.1 19.2l.1-14.4l.1-1.8l0-12.4l.1 24.1l.1-1.9l.1-.3l.1 4.6l0-17.1l.1-1.8l.1 29.5l.1-10.8l0-11.5l.1 15.1l.1-1.7l.1-4.2l.1 .3l0 1.2l.1-.3l.1-16.1l.1 28.2l0-10l.1 3.5l.1-8.4l.1 4.6l.1-6.3l0 3.5l.1-19.8l.1 27.5l.1-4.7l0-9.6l.1 9.1l.1-3.6l.1 9.9l.1-14.2l0 6.4l.1-5.2l.1 9.2l.1-1.6l0 1.4l.1-18.4l.1 23.5l.1-12.9l0 1.1l.1-8.1l.1 8l.1 8l.1-9.6l0 13.3l.1-17.4l.1 8.6l.1 3.4l0-1.1l.1-7.5l.1 13.6l.1-23.4l.1 18.3l0-16.1l.1 10.7l.1-14.9l.1 23.3l0-13.8l.1 7.2l.1 3.2l.1-10.1l.1 8l0 2.6l.1-2.7l.1 2.9l.1-2.8l0-1.2l.1-8.5l.1 8.9l.1 3.6l.1-10.1l0 8.1l.1 3l.1 1.7l.1-21.9l0 15.7l.1-14.2l.1 18.9l.1 .5l0-20.4l.1 16.1l.1-.4l.1 .2l.1 4.4l0-13.6l.1 14.8l.1-13l.1 12l0-29.9l.1 18.2l.1-2.9l.1 17.9l.1-12.1l0 6.4l.1 1l.1-.1l.1-11l0 6l.1 3.4l.1 .5l.1 .2l.1-.5l0-1.4l.1 4.8l.1-1.8l.1 7.9l0-12.5l.1-4.6l.1 7.3l.1-14.1l.1 15.4l0-4.6l.1-8.8l.1 7.2l.1 6.3l0-7.2l.1 5.3l.1-11.2l.1 2.7l0 7.4l.1-5.4l.1-10.7l.1 5.7l.1 2.3l0 7.8l.1 2.3l.1 .7l.1-12l0 13.9l.1-9.2l.1-10.2l.1 22.2l.1-11.7l0 8.2l.1-4.6l.1-4.8l.1 9.3l0 2.3l.1-5.1l.1-4.3l.1 4.2l.1 2.7l0-10.5l.1 11.7l.1 1.9l.1-9.2l0-18l.1 21.9l.1-2.4l.1 5l.1-2l0 2.8l.1-8.6l.1 6.1l.1 .5l0-11.6l.1 15.6l.1-15.6l.1 8.4l0 3.7l.1-4.9l.1 1.7l.1-4.3l.1 3.9l0-17.6l.1 7.9l.1-.7l.1 15.9l0-4.7l.1-11.9l.1 4.9l.1 4.4l.1 .8l0-8.7l.1 19.1l.1-6.1l.1 3.2l0-17.4l.1 17.4l.1-6.3l.1-12.8l.1 13l0-4.3l.1 1.8l.1-5l.1-13.8l0 25.9l.1-6.5l.1-14.4l.1-7.3l.1 22.9l0-12.7l.1 5.9l.1 .3l.1 13.4l0 .9l.1-10.6l.1 2.1l.1-.2l.1 6.2l0-18.9l.1 13.3l.1-25.8l.1 26.1l0-4.5l.1-3l.1 8.2l.1 3.3l0-2.1l.1-3.9l.1 3.5l.1-20.8l.1 20.9l0-9.4l.1-.2l.1 4.7l.1 7.5l0-10.1l.1-3.2l.1 5.9l.1 1l.1 13.1l0-6.7l.1-4.8l.1-2.8l.1-4.3l0 7.9l.1-3.5l.1 7.2l.1-10.8l.1-.7l0 6.4l.1-8.4l.1 9.8l.1 1.1l0-1.2l.1-19.7l.1 27.1l.1-11.1l.1 4l0-3.3l.1 9.7l.1-14.5l.1 .5l0 7l.1 1.1l.1-3.6l.1-6.9l0 16.6l.1-20.8l.1 13.9l.1-8.6l.1 11.4l0-22.5l.1 15.4l.1-13.5l.1 19.4l0 .2l.1-13.5l.1 3.7l.1 2.8l.1-7.4l0 6.7l.1 5.8l.1 8.3l.1 2.9l0-18.7l.1 .5l.1 10l.1-9.8l.1 5.7l0-1.8l.1-7.5l.1 17.4l.1-12.4l0-1.3l.1 5.4l.1-2.6l.1 7.9l.1-7.8l0-3.8l.1-.9l.1 10.4l.1-10.6l0 3.7l.1-2.8l.1 5.3l.1-5.1l0 3.4l.1-20.6l.1 24.3l.1-11.4l.1 9.3l0 9l.1-12.8l.1-6.1l.1 4.2l0-.2l.1 11l.1-7.5l.1 10.7l.1-23.9l0 2.2l.1 19.6l.1-3.4l.1 4.4l0-2.4l.1-1.7l.1 3.7l.1-3.6l.1-8.2l0 7.1l.1-7.6l.1 6.7l.1-2l0 8.3l.1-14.9l.1 14l.1-4l.1 5.1l0-11.6l.1 10.2l.1-10.8l.1-12.7l0 14.5l.1 16.2l.1-21.6l.1 6.8l0-3.5l.1 1.5l.1-6.2l.1 1.2l.1 8.5l0 7.1l.1-6.9l.1-6.3l.1 16.7l0-12l.1 11.8l.1-19.8l.1-7.4l.1 9.5l0 10l.1-9l.1-5.3l.1-3.3l0 2.4l.1 3.2l.1 15l.1-5.4l.1-4.4l0 3.3l.1 11.7l.1-10l.1 3.4l0-6.1l.1-1.2l.1 11.4l.1-3.8l.1-6.1l0 7.5l.1-6.1l.1 5.2l.1-.7l0-11.5l.1 7.8l.1 2.9l.1-16.9l0 15.5l.1-2.2l.1-.3l.1-27l.1 22.3l0-1.7l.1 9.3l.1-9.2l.1-2.7l0 16l.1-10.2l.1-10.8l.1-1.7l.1 14.1l0-19.5l.1 25.8l.1-13.1l.1 4.4l0 10.4l.1-14.5l.1 15.9l.1-3.3l.1-3.7l0 6.4l.1-16.6l.1 12.8l.1 4.1l0-9.2l.1 1.9l.1 6.4l.1-2.7l.1-10.7l0 .8l.1 15.8l.1-17.4l.1-.1l0-1.5l.1 12.7l.1 1.6l.1-4.3l0 3.7l.1-2.4l.1 2.2l.1-2l.1 1.4l0-3.8l.1-.9l.1 3.1l.1 1.9l0-17.5l.1 6.4l.1 3.6l.1 9.2l.1-10.3l0 6.1l.1-5.8l.1 2.9l.1-21.2l0 22.7l.1 6.3l.1-14.8l.1-.5l.1-1.6l0 25.7l.1-9.1l.1-.5l.1 4.7l0-10.7l.1-4.1l.1-3.6l.1 1.8l.1 6.7l0-12.8l.1 11.3l.1 18l.1-13.8l0 2.4l.1-7l.1 5.4l.1-.6l0-13.2l.1 15.6l.1 3.6l.1-10l.1-3.1l0 5.9l.1-.8l.1 3.7l.1 4.2l0-3.3l.1 1.6l.1-16l.1 11.7l.1-13l0 12.3l.1 4.1l.1-6.6l.1-.1l0-9.1l.1 22.7l.1-9.2l.1-5.7l.1 7.4l0-5.4l.1 3l.1-13.5l.1 1.3l0 22.4l.1-3.3l.1-4.4l.1-3.9l.1 .6l0 2l.1-7.8l.1-2l.1 5.9l0 2.8l.1-2.3l.1 5l.1-11.1l0 0l.1 11.5l.1-16.8l.1 12.1l.1-6.7l0 6.3l.1 1.3l.1-6.8l.1 10.9l0-3.7l.1 5.3l.1-10.6l.1 5.2l.1 .6l0 1.1l.1-8.2l.1 2.9l.1 3.6l0 1.4l.1-18l.1 3.1l.1 18.5l.1-16.1l0 5.6l.1 1.7l.1-.9l.1 11.2l0-30.1l.1 4.3l.1 17.5l.1 .2l.1-1.1l0 5.1l.1-7.9l.1 4.3l.1 5.9l0-3.1l.1 .8l.1-.2l.1-1.4l0-6.9l.1 7.4l.1 6.4l.1-20.5l.1 15l0-15l.1 9.7l.1-2.2l.1 8.7l0-5.3l.1 3.1l.1-1.9l.1-3.9l.1 5.8l0-8.7l.1 14.4l.1-1.9l.1-9.4l0-.6l.1-4.1l.1-5.3l.1 9.9l.1-2.5l0 3.8l.1 .8l.1 1.9l.1-1.6l0 4.1l.1-2.2l.1-7.2l.1 2.5l.1-5.2l0 11.7l.1-.6l.1-5.4l.1 7.8l0 .1l.1-9.4l.1 6.6l.1-8.4l0 5.9l.1 3.3l.1 3.3l.1-15.2l.1 9.9l0 4.1l.1 3.8l.1-1.2l.1-4.8l0-11.9l.1 14.5l.1-7.1l.1 .6l.1 22.2l0-13.2l.1-13.4l.1 17.8l.1-19.9l0 8.3l.1 9.4l.1-24.8l.1 16.3l.1-13.3l0 10.9l.1 5.5l.1-12.2l.1-6.5l0 4.9l.1 16.7l.1-11.4l.1 11.3l.1-3.4l0-13.9l.1 18.5l.1-29l.1 29.5l0-1l.1-13.1l.1 7l.1-.3l0 4.2l.1-10.7l.1 3.9l.1 2.2l.1 3.6l0 4l.1-8l.1 12.1l.1-8.8l0-8.1l.1-.5l.1 7.5l.1 12.6l.1-19l0-2.7l.1 6.3l.1-9.6l.1 2.2l0 17.2l.1-8l.1 1.3l.1-15.2l.1 4.3l0 7.3l.1-3.3l.1-2.7l.1 10.6l0-2.6l.1-.6l.1 1.8l.1-.4l.1-3.8l0 9.2l.1-.8l.1-12.6l.1-6.2l0-3.5l.1 25.8l.1-12.9l.1 7.1l.1-1.3l0-1.6l.1-4.4l.1-1.1l.1 16.9l0-9.5l.1-11.5l.1 7.3l.1 9.7l0-3.3l.1-1.3l.1-11.9l.1-6.9l.1 20.9l0-10.1l.1 5.5l.1-5.9l.1 5.7l0 5l.1-3l.1 .1l.1-15.2l.1 15.6l0-8.1l.1 8.6l.1-.9l.1-5.3l0 4.9l.1-19.7l.1 6.1l.1 16.9l.1-10.3l0-8.3l.1 19.1l.1-4.6l.1-14.2l0 16.1l.1-9l.1 5.2l.1-1.9l.1 7.3l0-5.5l.1 2.1l.1-17.2l.1 9.8l0 4l.1 1l.1-5.4l.1 13.9l0-3l.1-.6l.1-.8l.1 4.9l.1-13l0 6.6l.1-12.6l.1 10.6l.1 1.4l0-5.5l.1 0l.1 5.1l.1-6.1l.1-5.6l0 12.5l.1-12.9l.1 11.5l.1-7.9l0 7l.1 1.9l.1-4.5l.1 8.7l.1 2.2l0-8.4l.1 1.3l.1 4.9l.1-24.7l0 15.1l.1 7l.1-7.7l.1-.2l.1 6.3l0-.8l.1 9.2l.1-12.5l.1-14.2l0 7.2l.1 .9l.1 11.2l.1 2.8l0-12.9l.1 4.4l.1 3.6l.1 .7l.1-9.2l0 2.4l.1 7.6l.1-2l.1 8.4l0-2.4l.1-11l.1 6.9l.1 1.9l.1-6.7l0-7.9l.1 14.4l.1-2.4l.1-.4l0-22.4l.1 13.1l.1 5.6l.1 10.1l.1-13.9l0 1.6l.1 5.5l.1 2.8l.1-1.4l0 6.3l.1-6.6l.1 .3l.1 2.1l.1-2.8l0 6.7l.1-17.3l.1 9.7l.1 5.7l0-12.7l.1 1.8l.1 7l.1 4.7l0-7.1l.1-3.9l.1-1.5l.1-2.1l.1 .5l0 14.8l.1-9.2l.1 11.6l.1-18l0 4.3l.1-4.2l.1 6.9l.1 .4l.1 3.1l0 12.9l.1-14.8l.1-24.4l.1 12.9l0 11.6l.1-3.9l.1-.8l.1 6.6l.1-3.3l0-2.6l.1 5.5l.1-6.4l.1-6.3l0 3.3l.1 4.3l.1 3.2l.1-6.7l.1 8.7l0 .5l.1-13.8l.1 12.4l.1 5.6l0-14.3l.1 .9l.1-3l.1 9.2l0-9.5l.1 9.7l.1 4.7l.1-4.4l.1-3.2l0 8.1l.1-4.9l.1-3.2l.1 4.5l0-3.2l.1 .8l.1 4.2l.1-7l.1-1.8l0 16l.1-7.8l.1-10.1l.1 2.9l0 14.1l.1-12.6l.1-9.4l.1 4.5l.1 .7l0 6.7l.1-1.5l.1 7.2l.1-6.7l0-19.6l.1 19.9l.1 4.8l.1-8.9l.1 15.7l0-31.3l.1 14.7l.1 6.6l.1 .5l0 2.7l.1-6l.1 .6l.1 9.2l0-16.2l.1 9.7l.1 3.8l.1-13.2l.1 1.3l0 9.2l.1 .4l.1-12.4l.1 11l0-4.1l.1-9.4l.1 18l.1 1.6l.1-3.9l0-1.3l.1-3.8l.1-6.9l.1 9.9l0-16.8l.1 12.4l.1 13.1l.1-11.2l.1-5.8l0-3l.1 12.8l.1-3.5l.1-19.9l0 17.9l.1 6.4l.1 3.6l.1-6l.1-5.5l0 8.9l.1-17l.1 15.2l.1 6.5l0-15.9l.1 4.6l.1 2l.1-11.8l0 13.9l.1-9.1l.1 8.7l.1-17l.1 13.6l0-.2l.1-4.3l.1 5.1l.1-3.9l0 5l.1-6.4l.1 4.2l.1 3.9l.1-7.7l0 .8l.1 9.4l.1-3.8l.1 7.4l0-10.3l.1-5.4l.1-15.1l.1 19.2l.1-5.8l0-3.8l.1 6.2l.1 16l.1-7.4l0-5.5l.1 .3l.1 1.2l.1 6.1l.1 5.4l0-13.2l.1-6.4l.1 12.2l.1-7.3l0 7.6l.1-2.3l.1 2.5l.1-9.8l0 11.4l.1-6.3l.1-5.6l.1 6.9l.1 7l0-9.9l.1 4.1l.1 6.2l.1-6.2l0 .7l.1-6.6l.1 7.7l.1-3.8l.1-3.8l0 15.4l.1-18l.1 7.1l.1 5.5l0-6.4l.1-6.6l.1 11.7l.1-.7l.1-14.1l0-1.9l.1-4.1l.1 16.5l.1 5.4l0 .1l.1-3l.1 3.1l.1-8.4l.1-6.8l0 15.9l.1-17.5l.1 16.5l.1-.9l0 3.9l.1-13.4l.1 6.1l.1-.8l0 16.8l.1-13.1l.1-5.7l.1 17.6l.1-31.7l0 14l.1-5.8l.1 10.1l.1-8.8l0-3.3l.1-12.7l.1 28.5l.1-23.5l.1 23.7l0-7.3l.1 3.8l.1-1.3l.1 9.7l0-9l.1 4.9l.1-5.5l.1-3.4l.1 1.5l0 1.2l.1-11.7l.1 8.5l.1-2.1l0-6.1l.1 11.1l.1-1.3l.1-4.2l.1 6.9l0-11.7l.1 13.7l.1-2.3l.1-.5l0 1.1l.1-2l.1 2.9l.1 10.4l0-22.2l.1 11.6l.1-8.2l.1 11.6l.1-10.4l0 11.9l.1-18.9l.1 12.4l.1 1.8l0 13.7l.1-3.6l.1-9.7l.1 .7l.1 0l0-.5l.1-10.2l.1 9.7l.1 0l0 1.7l.1 1.9l.1-8.7l.1 5.3l.1-.3l0-4.4l.1 1.8l.1-5.5l.1 .3l0 13l.1-3.2l.1-11.4l.1 9.5l.1-6.9l0 9.2l.1 8.4l.1-.7l.1-8.5l0-1.3l.1-22.5l.1 14.4l.1 .4l0-1.7l.1 15.6l.1-9.1l.1 1.1l.1-17.1l0 20.2l.1 4.3l.1-8.7l.1 1.8l0-2l.1-1.1l.1 .6l.1 4.8l.1-1l0-22.4l.1 23.3l.1-7.2l.1 9.2l0 3.8l.1-16.1l.1 5.2l.1-9l.1 2.6l0 5.8l.1 6l.1-20.3l.1 15.5l0-18l.1 13l.1-1.5l.1 2l.1 1.3l0 4.8l.1-21.3l.1 24.8l.1 3.7l0-11l.1 6.2l.1-11.2l.1 8.5l0-10.6l.1 8.5l.1 5.4l.1-2.3l.1-7.5l0 9.1l.1 1l.1-3.4l.1-3.7l0-7.3l.1 6.6l.1-3.3l.1 7.8l.1-16.7l0-3.5l.1 22.8l.1-5.7l.1 2.7l0-3.3l.1 4.5l.1 2l.1 3.4l.1-4.3l0-3.2l.1-7.5l.1 3.4l.1 6.9l0 1.2l.1 4.7l.1-13.6l.1 4.4l.1-3.8l0-1.1l.1 1.7l.1 4.7l.1 1.2l0 3.5l.1-1.7l.1-6.7l.1-16.2l.1 21.8l0-4.2l.1-26.5l.1 27.6l.1 2.9l0-2.2l.1 1.7l.1 9.4l.1-17.1l0 16.2l.1-6.7l.1-.6l.1-5.7l.1 4.7l0 1.4l.1 1.8l.1-6.1l.1 3.7l0 1.8l.1 3.8l.1-2.8l.1-5.4l.1 9.3l0-9.1l.1 .3l.1-7.8l.1 11.9l0 1.9l.1-4.7l.1 1.5l.1 12.7l.1-23.3l0 7.1l.1 .7l.1 5.1l.1-6.7l0 4l.1-13.7l.1 7.3l.1-5.7l.1 17.3l0-2l.1-2.5l.1 .9l.1-15.4l0 9.8l.1 8.5l.1-4.5l.1-15.7l0 15.9l.1-6l.1 13.9l.1-6.8l.1-1.9l0 .5l.1-1.3l.1-2.4l.1-6l0 18.1l.1-10.1l.1-4.5l.1 3.4l.1-6.8l0 9l.1 1.5l.1 2.2l.1-11l0 13.6l.1-4.7l.1-2l.1-4.6l.1 5.9l0 3.6l.1-9.2l.1 10.4l.1-2.6l0 7.3l.1-12l.1 .3l.1 10.6l.1-8.5l0-5.1l.1 7.2l.1 6l.1-8.8l0-4.6l.1 14.4l.1-16.1l.1 6.2l0-6.8l.1 12.2l.1-12.3l.1 4.6l.1-3.4l0 5l.1-6.6l.1 7.8l.1 1.3l0 3.6l.1 2.8l.1-8.9l.1 2.1l.1-1.2l0 .9l.1-3.6l.1 1.9l.1 3.1l0-8l.1-11.5l.1 21.4l.1-2.6l.1-5.9l0 7.5l.1-11.1l.1 10.7l.1 3.1l0-1.3l.1-12.8l.1 18.6l.1-11.8l.1 12.1l0-16.5l.1 2.3l.1-1.9l.1-12.7l0 17.6l.1-9l.1 4.2l.1-3.5l0 11.2l.1-11.9l.1 9.9l.1-13.2l.1 4.3l0 6.5l.1-3.8l.1 .3l.1 2.1l0-21.8l.1 27.6l.1 3.3l.1-.1l.1-6l0-1.2l.1-5.4l.1-2.3l.1 5.4l0 .8l.1 6l.1-12.5l.1-3.3l.1 11.6l0-6.2l.1 8.9l.1-3.4l.1-.9l0-5.8l.1 14.6l.1-8.5l.1-6.3l.1 4.2l0-2.4l.1 18l.1-8.5l.1-2l0 1.6l.1 8.7l.1-20.5l.1 6.1l0 12.9l.1-8.3l.1-2.9l.1-6.9l.1 2.4l0 10.4l.1-2.1l.1-5l.1-5.8l0 9.9l.1 .8l.1-7.4l.1 3.2l.1-9.6l0 7.1l.1-4l.1 18.6l.1-3.6l0 .6l.1-4.5l.1-6l.1 4.1l.1-5.2l0 7.4l.1-11l.1 1l.1 16l0-3.7l.1-2.8l.1-9.1l.1 .3l.1-8.6l0 22.3l.1-9.4l.1 1.6l.1 1.4l0-.7l.1 10.7l.1-13.4l.1 4.2l0 4.7l.1-17.6l.1 14.1l.1-5l.1 5l0 5.1l.1-6.1l.1-4.6l.1 7.9l0-9.3l.1-9.7l.1 4.5l.1 10.4l.1 2.5l0-11l.1 14.3l.1-1.7l.1-19.3l0 10.6l.1-.9l.1 5.2l.1-26.9l.1-2.7l0 28.7l.1-7.2l.1 7.9l.1-5.2l0-7.1l.1 .5l.1 11.4l.1-4.5l.1-22.3l0 17.9l.1-4.2l.1 7.3l.1 4.8l0 5.6l.1-.8l.1 3.8l.1-3l0-1.5l.1-10.3l.1 14.8l.1-12.4l.1 14.6l0-35l.1 26.8l.1-4.4l.1-13.5l0 15.9l.1-2l.1-.3l.1-3.1l.1 7l0-17.5l.1 5.9l.1 7.7l.1-8.6l0 10.3l.1 2.3l.1-2.3l.1-4.2l.1 12l0-6.5l.1-5.4l.1 9.7l.1-8.8l0 8.9l.1-7.9l.1 2l.1-3.1l.1 6.6l0 7.5l.1 3.7l.1-47.5l.1 40.6l0-3.4l.1 4.6l.1-20.6l.1 5.7l0-1.1l.1 13.2l.1-14.4l.1 11.9l.1-13.8l0 10.3l.1 12.1l.1-11.9l.1 4.1l0-25.8l.1 28.6l.1-5.8l.1-.1l.1 2.9l0-.7l.1-3.5l.1-3l.1 5.1l0-.8l.1-1.6l.1 5.4l.1-3.9l.1-1.7l0-7.6l.1 2.7l.1 1.4l.1-3.3l0 11.1l.1-12.6l.1 10.7l.1-1.2l.1 1.4l0-7.2l.1 8.3l.1-7.7l.1 6.3l0 .8l.1-5.8l.1 7.7l.1-13.6l0 12.7l.1-1.1l.1-11.6l.1 17l.1-14.9l0 6.5l.1-.2l.1-.8l.1 6.5l0-18.1l.1 9l.1-.7l.1-1.4l.1-1.2l0 5.1l.1 7.5l.1 2l.1 .4l0-5.1l.1-10.1l.1 14.9l.1-5.3l.1-6.3l0 6.3l.1-.4l.1 4.6l.1-7.2l0 4.2l.1 .5l.1-1.3l.1-5l.1-4.6l0 13.9l.1-10.1l.1 9.9l.1 4.4l0-7.3l.1-3.8l.1 .7l.1-3.1l0 14.1l.1-22.2l.1 4.7l.1 1.3l.1 13.7l0-12.2l.1 6l.1-.1l.1-2.7l0 8.9l.1-17l.1 .5l.1 1.6l.1-5l0 20.6l.1-8l.1 .3l.1 5.1l0-13.2l.1-15.4l.1 27.4l.1-10.1l.1 3.7l0-.6l.1 .3l.1-4.3l.1 8.3l0-1.1l.1-15.2l.1 12.9l.1 .1l.1 9.9l0-13.4l.1-1l.1 2.5l.1-10.5l0 23.7l.1-17.9l.1 15.6l.1-3l0 5.4l.1-17.4l.1 7l.1 1.7l.1-2.6l0 11.9l.1-8.5l.1-4.5l.1 4.5l0-2.7l.1 8.3l.1-9.8l.1 2.8l.1-3.1l0-10.7l.1 11.7l.1 3.6l.1-5.9l0 9.1l.1-19.1l.1 12.8l.1 0l.1-3.5l0 10.5l.1-6.8l.1 1.2l.1-18.9l0 6.6l.1-3.6l.1 14.4l.1-.7l.1-6.9l0 11.2l.1 1.7l.1-17.2l.1 8.7l0 .1l.1 13l.1-7.4l.1 .2l0 1l.1-5.7l.1 7.4l.1 1.5l.1-22.4l0 12.3l.1 9.2l.1-23.3l.1 13.4l0 1.5l.1 18.1l.1-27.3l.1 10.4l.1-7.9l0-4.6l.1 20.7l.1-22.5l.1 9l0 5.4l.1 13.1l.1-28.7l.1 13.8l.1-2l0 11.2l.1-11.2l.1 .3l.1-7.7l0 16.9l.1 7l.1-8.8l.1 2.3l.1-7.5l0 3l.1-2.6l.1-8.2l.1-3.7l0 13.1l.1 8.8l.1-8.3l.1 1.2l.1-.7l0 .4l.1-.7l.1 11.9l.1-16l0 .3l.1 1.3l.1 3.2l.1-7.4l0 16.1l.1-8.7l.1-4.8l.1 6.6l.1-1.9l0-8l.1 8.5l.1 3.8l.1-2.2l0-5.2l.1 8.5l.1-5.9l.1 2.2l.1-2.5l0-5.1l.1 .2l.1 4.9l.1-1.2l0-4.2l.1 9.6l.1-4.9l.1 7.4l.1-15.3l0 8.3l.1 7.6l.1-4.5l.1-7.9l0 3.3l.1 11.1l.1-22.7l.1 12l.1-1.2l0 4.4l.1 2.4l.1 3.9l.1-9l0 1.2l.1 1.3l.1-7l.1 3.2l0 7.9l.1-3.4l.1-10.5l.1 15.8l.1-25.1l0 20.4l.1-24.2l.1 18l.1 11.6l0-11.7l.1 2.7l.1 3l.1-2.8l.1 0l0 18.8l.1-23.9l.1 7.1l.1-1.8l0-5.1l.1 5.3l.1 6.8l.1-13l.1 8l0-3.6l.1 5.4l.1-2.7l.1 4.4l0-17.7l.1 18.1l.1-13l.1 17.7l.1-12.4l0 3.5l.1-9l.1 5.6l.1-17.5l0-6.3l.1 28.5l.1-8.1l.1 10.2l0 .1l.1-4.8l.1-7.1l.1 1.8l.1 6l0-9.4l.1 14.8l.1-1.9l.1-4.2l0 9.6l.1-20.7l.1 11.4l.1 1.1l.1-5.2l0 10.7l.1-6.8l.1 8.4l.1-8.1l0-2l.1-11.5l.1 12.3l.1-10.5l.1 10.6l0 8.7l.1-14.4l.1 5.1l.1 3.8l0-10.2l.1 12.8l.1-3.6l.1-7.6l.1-1.1l0 10.1l.1-5.9l.1 1.7l.1-4.1l0 6.1l.1 10.5l.1-9.7l.1-14.2l0 16.4l.1-3.1l.1-7.6l.1 7.7l.1 4.6l0-5.9l.1 1.1l.1 3.3l.1-3.5l0 6.8l.1 .7l.1-2.2l.1-5.2l.1-1.2l0 3.4l.1-11.4l.1 3.6l.1 4l0-8.1l.1-3.3l.1 6.4l.1 8.5l.1-9.6l0-2.7l.1 6l.1 3.8l.1-2.9l0-.4l.1 12.8l.1-22.9l.1 12.2l.1-16.3l0 16.1l.1 4.9l.1-10.6l.1 5.6l0-6.1l.1 9.4l.1 .1l.1 1.1l0 0l.1-6.9l.1 10.3l.1-8.6l.1-6.7l0 13.2l.1-3.6l.1 2.7l.1-1.8l0-3.5l.1-4.1l.1-1.4l.1 10.4l.1-8.8l0 8.6l.1 3l.1-1.3l.1 5.9l0-11.4l.1 10.7l.1-11.9l.1-21.9l.1 28.3l0 7.1l.1-14.7l.1 8.6l.1-5.6l0-.2l.1-1.8l.1-18l.1 17.3l.1 .3l0 2.7l.1 3.3l.1-.4l.1 2.3l0-12.5l.1 7.6l.1-6.2l.1 2.6l0-16.9l.1 19.9l.1-5.4l.1 8.3l.1-12.6l0 10.3l.1-1.7l.1 8.2l.1-12.2l0-9.6l.1 3l.1 16.9l.1-12.8l.1 10.8l0 5.1l.1-2.1l.1-17.2l.1 12.1l0 4.9l.1-9.6l.1 .1l.1 4.5l.1-5.7l0 6.1l.1-12.3l.1 4l.1 6.3l0-3.1l.1-4.1l.1 7.5l.1-4.7l.1 4.9l0 1.3l.1 8.8l.1-3.7l.1-1.7l0-5.9l.1-23.1l.1 28.8l.1-2.4l0 4.8l.1-5l.1-.9l.1-6.8l.1 13.3l0-11.7l.1 1.8l.1 3.9l.1 5.2l0-1.2l.1-4.6l.1-5.6l.1 5l.1 3.5l0-6.4l.1 8l.1-11.9l.1-20.1l0 29.5l.1-11.1l.1 12.9l.1-6l.1-3.3l0-5.5l.1 9.2l.1-10.5l.1 18.1l0-5.9l.1-1.4l.1-.8l.1 1.7l.1-16.6l0 18.1l.1-10l.1 4.4l.1-14.7l0 19.2l.1-7l.1 1.1l.1 22.4l0-21.1l.1-5l.1-4.6l.1 18.5l.1-4.5l0-11.4l.1 16.3l.1-1.7l.1-9.3l0-.8l.1-5.5l.1 1.8l.1 7.3l.1 7.4l0-1.8l.1-4l.1-2.7l.1 2.2l0-5.6l.1 10.6l.1-1.7l.1 4.8l.1-25.3l0 18.8l.1-8.7l.1-2.7l.1 7.5l0 4l.1 1.9l.1-1.4l.1 8l.1-6.4l0-9.4l.1 3.7l.1-4.1l.1 .2l0 .6l.1 4.5l.1-.5l.1-5.5l0 9.5l.1 5.5l.1-14.3l.1 6l.1-8.3l0 12.7l.1 5.6l.1-8.4l.1 2.8l0 1.5l.1-18.4l.1 10.8l.1 9l.1 2.4l0-8.5l.1-5.3l.1 2.4l.1-7.2l0 6.9l.1-1.2l.1 14.5l.1-21.2l.1 13.8l0-10.4l.1 16l.1-3.9l.1-14.7l0 16.7l.1-8.5l.1 4l.1-17.5l.1 11.9l0-7.5l.1 10.5l.1 9.6l.1-27.6l0 21.5l.1-4.1l.1 .7l.1 9l0-14.7l.1 8.1l.1 7.4l.1-1.2l.1 4.5l0-8.5l.1-3.2l.1 4l.1-5.1l0 2.2l.1-6.3l.1 3.9l.1 1.3l.1 3.5l0 2.2l.1-1.8l.1-7.8l.1 5.8l0-14.7l.1 5.4l.1 14.3l.1-11.3l.1-6.7l0 13.9l.1-13.7l.1 14.1l.1-17.5l0 9.1l.1 5.7l.1 7.8l.1-8.5l.1 3.6l0-7.2l.1 7.7l.1-8.5l.1 6.6l0-7.5l.1-1.8l.1 4.9l.1-2.3l0-4.9l.1 13.8l.1-9.8l.1 2.7l.1-11.5l0 14.7l.1-8.6l.1 16.7l.1-19.5l0 7l.1 .2l.1-3.9l.1 14.1l.1-5.8l0-2.2l.1 2.8l.1 1.1l.1-10.4l0 6.9l.1 2l.1-2l.1-10.3l.1-5.2l0 7.4l.1 4.7l.1 11.6l.1-4.4l0 1.6l.1 .1l.1-14.6l.1 13.1l.1-14.7l0 10.2l.1 1.8l.1 .5l.1 6.9l0-5.7l.1-9.1l.1 1.2l.1 4l0-3.9l.1 3.9l.1-1.7l.1-17.6l.1 19.5l0 10.6l.1 2.8l.1-8.1l.1-5.9l0-5.7l.1 7.6l.1-1.3l.1-3.5l.1 9.9l0-5l.1-2.8l.1 5l.1 2.1l0-8.5l.1-4.5l.1 7.8l.1 13.9l.1-8.8l0-1.8l.1-5.8l.1 6.1l.1-.2l0-10l.1-2.6l.1 9.4l.1 6.9l.1 .8l0-11.9l.1 9.2l.1-4.1l.1 1.1l0-2.4l.1-1.4l.1 8.4l.1-2.1l.1-5.1l0 1.2l.1 8l.1-23.8l.1 24l0-15.7l.1 16.6l.1-16.1l.1 17.3l0-16.9l.1 5.6l.1-4.7l.1 10.1l.1-6l0 .1l.1 .6l.1 4.5l.1-14l0 21l.1-1.7l.1-.3l.1-19.5l.1 15.9l0-.6l.1 0l.1-2l.1-.3l0 1.2l.1 5.5l.1-11.5l.1 3.1l.1-12l0 8.9l.1 3.7l.1 7.5l.1-8.8l0-3.8l.1-9.2l.1 10.7l.1-3.1l.1 1.6l0-8.8l.1 4.6l.1 8.2l.1 8.6l0-21.5l.1 12.6l.1 5l.1 3.8l0 1.9l.1-12l.1 3.1l.1-3.4l.1-7.2l0 13l.1-5.7l.1 5.3l.1 1.5l0 8l.1-8.4l.1-12.3l.1 11.1l.1-5.3l0 1.4l.1-16.5l.1 5.6l.1 15.4l0-1.1l.1-11.4l.1 6.9l.1 1l.1-8.3l0 4.8l.1 3l.1-26.1l.1 24.3l0 10.8l.1-10.3l.1 .4l.1-12.1l.1 11.6l0 6.2l.1-6.5l.1 10l.1-4.8l0-5l.1 7.3l.1 7.2l.1-5.9l0-1.4l.1-8.7l.1 7.1l.1-2.3l.1 4.6l0-5.5l.1 4.1l.1-7.8l.1 2.4l0-9.7l.1 7.2l.1 6.4l.1 2.6l.1-6.2l0-4l.1-6.6l.1 15.4l.1 4.4l0 2.9l.1-4.8l.1-4.3l.1 .5l.1 .2l0-1.6l.1-2.8l.1 11.8l.1-9.6l0 1.5l.1 .1l.1 1.3l.1 8.2l.1-14.1l0 6.2l.1-2l.1-3.1l.1 2.1l0-2.8l.1-.2l.1 8.2l.1 1.5l0-12.7l.1 10.3l.1-22.5l.1 24.6l.1-7.4l0 1.7l.1-2.5l.1 7.1l.1-7.6l0-14.1l.1 19.7l.1 9.2l.1-17l.1 1.6l0-1.9l.1 9.2l.1-7.3l.1-3.6l0 9.4l.1-3.1l.1-3.4l.1-1.9l.1 7.1l0-3l.1-15.1l.1-.3l.1 22.7l0-24.4l.1 20.8l.1-10.1l.1 14.9l.1-5.8l0 2.3l.1-9.7l.1 4.6l.1-1.7l0 .3l.1 1.5l.1-5.5l.1 6.1l0 1.5l.1 2.9l.1 1.2l.1-1.7l.1-5.8l0-4.9l.1 8.5l.1-17.4l.1 6.9l0 9.3l.1-2.3l.1 2.8l.1 10.1l.1-16.5l0 4.5l.1 10.6l.1-15.6l.1 9.9l0-1.7l.1 7.8l.1-9.1l.1-3.4l.1 5.6l0-2.4l.1 10.6l.1-14.5l.1 4.2l0 0l.1-5.4l.1-2.6l.1 8.2l.1-7.4l0-8.3l.1 21.3l.1-6.8l.1 9.4l0-11.4l.1-8.2l.1 11.7l.1 5.6l0-3.4l.1-6.1l.1 11.4l.1-.4l.1-11.4l0 11.1l.1-8.3l.1 6.5l.1 2.8l0-14.9l.1-2.3l.1 12.6l.1-24l.1 18.5l0-2.7l.1 2.4l.1 7.5l.1-13.8l0 6.5l.1-2.7l.1 2.5l.1 3.7l.1-22.5l0 16.7l.1 4.8l.1-6.7l.1 12.1l0-9.8l.1-21.5l.1 28.2l.1-7.7l.1 10.5l0-7.1l.1-8.5l.1 14.3l.1-.4l0-14.4l.1 7.2l.1-3.1l.1 1l0 11.6l.1 2l.1 1.3l.1-14.6l.1 12.1l0 1.5l.1-6.4l.1-2.4l.1-3l0 12.2l.1-20.9l.1 15.9l.1-6.4l.1 1.5l0 5.1l.1-8.4l.1 .4l.1-6.5l0-7.7l.1-2.2l.1 11.7l.1 1.8l.1 7.7l0 6.4l.1-12.1l.1 6.8l.1-1.7l0 1.2l.1-6.3l.1 5.9l.1-24.4l.1 15l0 9.9l.1-6.1l.1-8.7l.1 18.4l0-8.7l.1 5.1l.1-4l.1 3.8l0-4.7l.1-2.2l.1-1.3l.1 13.8l.1-14.4l0 5.1l.1 4.4l.1-3.8l.1-14.1l0 14.9l.1 4.1l.1-10.8l.1 7l.1-7l0 3.4l.1-9.4l.1 15.4l.1-1.3l0-11.7l.1-5.8l.1 13.1l.1-8.3l.1 6.1l0 3.5l.1 10.1l.1-28.4l.1 8.9l0 23.2l.1-19.6l.1 10l.1 2l.1-2.1l0-9.5l.1 5.9l.1 1.3l.1-.3l0 1.5l.1-6.9l.1 16.2l.1-4l0-6.9l.1 5.7l.1-8.1l.1 3.9l.1-5.8l0 4.3l.1-5.9l.1 4.6l.1-5.6l0 8.2l.1 7.8l.1-10.7l.1-.1l.1 3.7l0-11.8l.1 4.1l.1-9.4l.1 16.2l0 .1l.1-7l.1-9l.1 17.7l.1-8.7l0 4.1l.1 2l.1-9.7l.1 .3l0 1.8l.1 9.8l.1-4.6l.1 10.4l.1-14.5l0 11.8l.1-5.7l.1-8.8l.1 8.5l0-2.8l.1 5.7l.1-28.5l.1 31.1l0-3.1l.1-3.3l.1-25.4l.1 28.5l.1-4.6l0-6.2l.1 19.1l.1-20.1l.1 4.5l0-10.5l.1-.3l.1 9.6l.1-5.5l.1 14l0 2.6l.1-5.7l.1-3.3l.1 3.8l0-5.6l.1-1.7l.1-10.9l.1 17l.1 2.3l0-7.1l.1 1.7l.1-2.7l.1-11l0 21.3l.1-12l.1-5.9l.1 .7l.1 20.5l0-7l.1-13.5l.1 11.3l.1-3.4l0 4.3l.1-12.2l.1 9.4l.1 4l0-2.9l.1-11.4l.1 9.2l.1 13.3l.1 2.4l0-17.9l.1 16.1l.1-11.5l.1 6.3l0-6.8l.1 7l.1 9.4l.1-26.4l.1 12.4l0 1l.1-14.7l.1 8.4l.1-3.8l0 10.5l.1-2.3l.1-2.7l.1 7.9l.1-10.8l0 3.1l.1 5.7l.1 .7l.1-10l0 8.2l.1-4.3l.1 .9l.1 3.6l.1 17.9l0-22l.1-3.6l.1 10.8l.1 .1l0-11.6l.1 14.2l.1-17.4l.1 5.9l0-7.5l.1 12l.1-1l.1-1.5l.1 11.6l0-3.6l.1-14.8l.1 13.7l.1 1.4l0-8.7l.1-9.1l.1 12.1l.1 1.6l.1-1.8l0-3.5l.1 12.9l.1-12.4l.1-.4l0-5.3l.1-.3l.1 3.9l.1-12.6l.1 17.3l0 .8l.1-14.9l.1 13.3l.1 5l0-.2l.1-3.9l.1 8l.1-16.1l.1 5.6l0-8.3l.1 17.3l.1-4l.1 2l0-8.6l.1 1.1l.1-2.7l.1 .5l.1 11.9l0-8.9l.1 1.6l.1 .7l.1-3.9l0 15.1l.1-6.5l.1-2.7l.1 3.5l0 1.5l.1-14.3l.1 .5l.1-7.8l.1 20.7l0 7.9l.1-18.6l.1 7.5l.1 4l0-10.4l.1 4.6l.1 9.8l.1-10.9l.1 10.6l0-13.9l.1 11.4l.1 1.9l.1-14.5l0-1.9l.1 9.2l.1 4.7l.1-11.1l.1 3.6l0-.7l.1 4.5l.1 6.1l.1-5.6l0-14.9l.1 16l.1-3.6l.1-.4l.1-7.5l0 5.2l.1 4.9l.1-19l.1 14.8l0-.9l.1 6.4l.1 4.8l.1-12.4l0 5.9l.1-4.8l.1 15.3l.1-27.1l.1 13.7l0-5.5l.1 12.1l.1-7l.1-.4l0-7.6l.1 3l.1 17.5l.1-13.2l.1 .5l0 3.3l.1-3.9l.1-2.8l.1-2.9l0 13.7l.1-1.2l.1-5.6l.1-4.6l.1 10.7l0-5.8l.1 7.5l.1-7.7l.1 1.6l0-5.1l.1-7.2l.1 15.9l.1-8.1l.1 12.5l0-11.5l.1-12.5l.1 23.9l.1-5.7l0 15.1l.1-21.8l.1-15.4l.1 24.2l0-8l.1-8.7l.1 15.9l.1-6.3l.1 6.3l0-1.5l.1-3.6l.1-6.2l.1 4.8l0 1.9l.1 1l.1-9.8l.1 4.7l.1 .8l0 13.6l.1-9l.1 4.6l.1-20.8l0 9.6l.1-6.9l.1 17.1l.1 4l.1-4.1l0-9.9l.1 9.2l.1-9.8l.1-5.4l0 13.3l.1-10.2l.1 20.7l.1-5.7l.1-3.2l0-1.6l.1 6.1l.1-5.9l.1-10.9l0 2.1l.1 2.9l.1 8.8l.1-17.2l0 6.7l.1 10.9l.1-13.6l.1 10.2l.1-6.7l0 1.3l.1-1.6l.1-8l.1-10.2l0 19.6l.1 2l.1 1.1l.1-3.7l.1-1.1l0 12.3l.1-8.5l.1-19.9l.1 14.9l0-3l.1 9l.1-18.8l.1 14l.1 6.8l0 2.5l.1-8.4l.1-11.7l.1 19.6l0 1.6l.1 7.9l.1-19.1l.1 11.7l.1-1.5l0 1.5l.1-.7l.1-11.2l.1 10.7l0-6.1l.1 5.9l.1-1.9l.1-7.6l0 0l.1 11.7l.1-6.9l.1 5.8l.1-10.9l0 9.4l.1 1.5l.1-11.6l.1 9.9l0-4.7l.1-4.4l.1 9l.1-1.2l.1-6.8l0-14.8l.1 14.9l.1-1.1l.1 5.3l0 .5l.1-12.4l.1 16.7l.1-.2l.1-16.4l0 16.8l.1 2.7l.1-11l.1-3.9l0-7.3l.1-4.1l.1 32.1l.1-11.7l.1 .8l0-4.9l.1 7.7l.1-5.3l.1-1.8l0 .6l.1 6.5l.1-6.8l.1 6.9l0-.1l.1-3.1l.1-7.9l.1 17.8l.1-11.2l0-11.5l.1 9.8l.1 4.7l.1-5.3l0-11.2l.1 14.4l.1 3l.1-10.1l.1 7.7l0 2.4l.1-10.5l.1 11.1l.1-2.7l0-12.7l.1 9.5l.1-9l.1 20.2l.1-1.2l0-4.2l.1-3.5l.1 10.1l.1-12.7l0 5l.1-.1l.1-3.4l.1 2l.1 5.3l0-5.4l.1 5.3l.1-17.4l.1 13.4l0-1.1l.1 2.1l.1-4.1l.1-1.5l0 2.8l.1 4.9l.1-14.4l.1 8.7l.1 10.6l0 2l.1-6.2l.1 .3l.1 2.3l0-3.7l.1-7.8l.1-7.3l.1 8.1l.1-.8l0-6.2l.1-10.1l.1 10.1l.1 4.2l0 5.5l.1 4.7l.1-8.8l.1-6.1l.1 6.9l0 5.5l.1-7.4l.1 4.9l.1 2.8l0 8.1l.1-15.4l.1 7.7l.1-12.6l.1 12.5l0-4.3l.1 3.9l.1-17.8l.1 3.7l0 11l.1-11.5l.1 18.6l.1-12.1l0 8.1l.1-2.3l.1 1.8l.1-7.1l.1 14.5l0-7.4l.1-13.6l.1 23.6l.1-11.3l0 6.3l.1 7.8l.1-18.5l.1 5.9l.1-12.9l0 20.7l.1-13.5l.1-9.8l.1 23.2l0-15.5l.1-.4l.1 3.7l.1-9.6l.1 6.1l0 9l.1 .2l.1-3.2l.1-14.4l0 14.4l.1-7.8l.1 7.8l.1-5.7l.1 .8l0-5.8l.1-5.7l.1 18.3l.1 3.7l0-6l.1-.3l.1-2.4l.1-5.5l0 10.1l.1-2.6l.1-.1l.1-8.3l.1 11l0-12.1l.1-6.9l.1 17.8l.1-12.9l0 7.3l.1 4.6l.1-17.9l.1 7.4l.1 11.9l0-6.3l.1 8.2l.1 4.2l.1-16.1l0 7.9l.1-13.8l.1 12.5l.1-.8l.1 2.9l0-2.2l.1 5.9l.1-2.9l.1 8.3l0 .6l.1-2.4l.1-4.3l.1-3l.1 .6l0-10.5l.1-12.7l.1 35.3l.1-25l0 4.5l.1 10.6l.1-4.6l.1 12.6l0-9.8l.1-14.3l.1 19.7l.1-3.4l.1-4.2l0-4.4l.1 4.8l.1 3.5l.1-8.1l0 8.4l.1-24l.1 10.7l.1 9.1l.1 5.2l0-1.1l.1 .8l.1-2l.1-5.3l0 10.8l.1-8.8l.1 1.2l.1 5.4l.1-15.5l0 6.6l.1 1.2l.1 5.7l.1 .7l0-4.2l.1 8.5l.1-11l.1 9.3l.1-6.4l0-5.2l.1 6.8l.1 1.9l.1 .5l0-5.1l.1 7.4l.1-5.9l.1-7.8l0 18.3l.1-6.7l.1-6.2l.1 8.4l.1-.4l0 1.1l.1-13.5l.1 18.6l.1-11.2l0 .5l.1-1.3l.1 4.1l.1-4.5l.1 3.4l0 1.7l.1-26.8l.1 14.7l.1 13.7l0-2.5l.1-6.8l.1-8.1l.1 12.4l.1-6.4l0 3.8l.1-7.2l.1 11.6l.1 1l0-6l.1 0l.1 1.7l.1-8.9l.1 4l0 4.4l.1 7.4l.1-11.8l.1-1.4l0 9.9l.1-2.9l.1 5.7l.1-7.1l0 2.2l.1 8.7l.1-10l.1 1.9l.1 0l0-9.8l.1 4.2l.1-3l.1 8.5l0-12.6l.1 14.7l.1-9.6l.1 13.7l.1-9.8l0 7.2l.1 2.5l.1-13.1l.1 3.5l0-2.2l.1 3.4l.1-1.8l.1 2.3l.1 .8l0-1.9l.1-19l.1 25.4l.1 2.7l0-3.4l.1-1.3l.1-7.6l.1-4.3l.1-.5l0 10l.1-6.9l.1-10.1l.1 10.6l0-5.5l.1 15.5l.1-12l.1 .6l.1 13.1l0-7.3l.1-4.5l.1 9.6l.1-11.7l0-.4l.1 5l.1 3.1l.1 .5l0-4.1l.1-5.8l.1 16.5l.1-9.4l.1-.4l0 6.6l.1 2.8l.1-6l.1 7.7l0-10.9l.1 3.6l.1 4.5l.1-6.4l.1 4.7l0-.5l.1-13.1l.1 13.3l.1 9.7l0-16.2l.1 8.2l.1-1.1l.1-17l.1 12.8l0-6.9l.1 14.3l.1-2.1l.1-1.4l0-9.9l.1 9.2l.1 7.4l.1-16.8l.1 8.8l0-3.7l.1-5.2l.1-12.9l.1 19l0-13l.1 20.6l.1-9.2l.1-1l0 14.8l.1-7.1l.1-1.5l.1-7.6l.1 6.5l0-.3l.1 1.2l.1-7.2l.1 3.8l0 .2l.1 .9l.1-6.8l.1 9.2l.1-3.8l0-.4l.1-2.7l.1-4.7l.1 4.8l0 10.4l.1-15.3l.1-2.3l.1-.5l.1 3.5l0 15.4l.1-8l.1-7l.1-.2l0 6.8l.1-1.7l.1 7.2l.1-9.1l.1 14.9l0-10.5l.1-8.7l.1 14l.1-17.1l0-6.7l.1 12.8l.1 7.3l.1-.2l0 3.9l.1-12.6l.1 11.8l.1-7.7l.1 7.5l0-10.3l.1 12.3l.1-7.2l.1 3.5l0-12.3l.1 10.6l.1-1.6l.1-10.2l.1 15.4l0 .9l.1-6.7l.1 5.2l.1-19.7l0 12.9l.1-.8l.1 4.3l.1 15.8l.1-28.3l0 11.1l.1 10.9l.1-5.7l.1-5.9l0-10.1l.1 7.4l.1-.1l.1 .2l.1 7.6l0-1.1l.1-4.3l.1 8.1l.1-8.2l0-4.8l.1 18.7l.1-12l.1 .3l0-2.7l.1-14l.1 23l.1-24.9l.1 11.5l0-17.3l.1 25l.1-5.2l.1 3.6l0-4.8l.1 9l.1-.4l.1-3.5l.1-6.1l0 12.6l.1-5.4l.1 1.6l.1-6.1l0-4.1l.1 15.1l.1-3.2l.1-3.2l.1 3.3l0-16.9l.1-3l.1 8.5l.1 1.8l0 10.2l.1-.8l.1-8.6l.1-9l.1 14.6l0-4.6l.1-11.3l.1-1.2l.1 20.2l0-7.6l.1-3.7l.1 15.2l.1-6.3l0-4.6l.1 4.9l.1-7.4l.1 6.6l.1 7.1l0-2.3l.1 5.2l.1-4.6l.1-12.2l0 2.3l.1-1.7l.1-6.5l.1 16.9l.1-3.4l0-4.2l.1-13l.1 11.9l.1 3.1l0-3.2l.1 7.3l.1 6.3l.1-14.9l.1 6.3l0-6.1l.1 10.2l.1-1.8l.1-10.9l0 4.3l.1-5.5l.1 11.1l.1-4.7l.1-4.7l0-1.5l.1 7.1l.1-2.5l.1 2.8l0 .4l.1-.6l.1-3.8l.1 11.2l0-7.5l.1 5.4l.1-5.8l.1 2l.1-3.1l0 3.1l.1-.6l.1 7.1l.1-19.2l0 19.1l.1 2.8l.1-13.3l.1-1.9l.1 5.2l0 1.4l.1 4.5l.1-22.2l.1 25l0-29.3l.1 28.8l.1-3.2l.1-4l.1 1.1l0-6.4l.1 8.3l.1-2.5l.1 6.7l0-18.2l.1 11.3l.1 2.2l.1-4.5l.1-6.7l0 4.1l.1 6.9l.1-5.5l.1-1.3l0-.6l.1 5.1l.1-7.3l.1 11.5l0-7.4l.1 5.7l.1-5.3l.1 4.1l.1-8.8l0 7.8l.1-12.2l.1 14.8l.1-13.2l0 12.8l.1 9.1l.1-8.4l.1-12.2l.1 5l0-2.2l.1 6.4l.1-5.2l.1 8.1l0-20.3l.1 1.4l.1 9.8l.1 7.1l.1 .3l0-8.8l.1 2.1l.1 7.9l.1-11l0-.8l.1 2l.1 1.2l.1 1.3l.1 1.6l0 2.3l.1 1.7l.1-13.9l.1 19.2l0-10.2l.1-5.5l.1-14.2l.1 23l0-13.8l.1 1.1l.1 2.7l.1-8.7l.1 25.9l0-17.9l.1 8.5l.1-4.1l.1 4.3l0 4.4l.1 5.5l.1-14.1l.1 5l.1 6.2l0-7l.1 5.7l.1-1l.1-6.8l0-4.4l.1 16.8l.1-10.4l.1-5.2l.1 12.1l0-5.1l.1-4.7l.1-4.8l.1 13.8l0 3.2l.1-5.6l.1-.5l.1-3.3l.1-.6l0 11.4l.1-16.4l.1 15.3l.1-12.4l0-1.3l.1 .6l.1 1.1l.1-.5l0 7.6l.1 .2l.1-23.5l.1 5l.1 2.5l0 4.7l.1 15.6l.1-25.7l.1 17.8l0-1.4l.1-5.9l.1 10l.1-14.7l.1 24.5l0-23.9l.1 5.9l.1 9.2l.1-11.5l0-3.1l.1 3.4l.1-1.3l.1 9.1l.1-10.3l0 0l.1-1.8l.1 5.2l.1 15l0-13.9l.1 11.9l.1-3l.1-3.8l.1-2.2l0 3.5l.1-4.5l.1-1.5l.1 2.6l0 .8l.1-1.9l.1-2.8l.1 10.7l0 3.6l.1-17.1l.1 7.3l.1 14.4l.1-22.2l0-.2l.1 19.5l.1-3.4l.1-3.6l0 3.9l.1-3.3l.1-3.4l.1-8l.1 21.4l0-14.7l.1-7.9l.1 22.5l.1-16.2l0 2.8l.1 3.1l.1-9.5l.1-4.9l.1 1.9l0-9.3l.1 22.5l.1 7.7l.1-8.7l0-4.8l.1-8.2l.1 5.3l.1 8l.1-14.8l0 7.5l.1 1.6l.1 3.3l.1-4.6l0-1.4l.1 4.2l.1 14.2l.1-8.7l0-8.6l.1-10l.1 3.7l.1 .7l.1-6.1l0 9.7l.1-5.5l.1 2.5l.1 6.3l0 7.2l.1 4.3l.1-13.2l.1 10.8l.1-6.6l0-6.4l.1 10.2l.1-11.7l.1 6.5l0 6l.1-10l.1-1l.1 8.9l.1-7.3l0 10.4l.1-7.5l.1-1.3l.1 8.4l0-7l.1-11.5l.1 16.6l.1 2.3l.1 2.2l0-3.8l.1 1.5l.1 3.5l.1-10.8l0-1.7l.1 8.4l.1-6.5l.1-6.9l0 4.6l.1 1.4l.1-3.9l.1 9.7l.1-11.5l0-9.6l.1 21l.1 6.6l.1-6.2l0 1.3l.1-7.7l.1-8.3l.1 5.4l.1-10.7l0 11.6l.1 2.9l.1 11.8l.1-14.3l0 7.4l.1-.5l.1-1.8l.1-16l.1 7.2l0 6.6l.1 9l.1-5.7l.1-1.1l0-8.8l.1 2.6l.1 .1l.1 10l.1-13.5l0-17l.1 33.3l.1-2.3l.1-6.8l0-7.3l.1 6.1l.1 1.1l.1-11.9l.1 19.1l0 5.9l.1-2.9l.1-15.3l.1-1.4l0 10.3l.1 6.1l.1-3.5l.1-8l0-4.7l.1 11.6l.1 1.1l.1 .4l.1-1.4l0-9.1l.1 3.8l.1-1.1l.1 1.7l0-.6l.1 9.3l.1-1.7l.1-8.6l.1-.4l0-5.7l.1 9.2l.1 4.5l.1-3.5l0 .2l.1-5.9l.1 5.4l.1-5.3l.1-.3l0 0l.1-.4l.1 10.2l.1-15l0-5l.1 7.8l.1-7.6l.1 10.3l.1 7l0-8l.1 4.4l.1 .7l.1-14.8l0 19.3l.1-14.7l.1 13l.1 6.5l0-16l.1 4.7l.1-.7l.1-.4l.1-7l0 5.9l.1 4.7l.1-1.4l.1-4.1l0 7.4l.1-7l.1 14.8l.1-10.9l.1-.7l0-5.4l.1 11.9l.1-5.1l.1-5l0-22.3l.1 24.5l.1-3.3l.1 8.4l.1-22.1l0 20l.1 .2l.1-2.8l.1 8.9l0-1.7l.1-3.4l.1 2.6l.1-12.9l.1 11.3l0-22.5l.1 17.2l.1 6.7l.1-5.9l0-4l.1 5.2l.1-3.2l.1 5.1l0 3.2l.1-4.1l.1-15.2l.1 17.4l.1-2.3l0 8.6l.1-4.8l.1-6.4l.1 4.8l0-11.5l.1 2l.1 10.1l.1-2.1l.1-5.7l0 2.4l.1 4.7l.1 8.1l.1-21l0 10.6l.1-1l.1 5.5l.1-15.9l.1 12.5l0-2.1l.1 12.9l.1-8.6l.1-2.4l0-3.2l.1-2.3l.1 6.6l.1-8.8l.1 8.3l0 .4l.1-1.1l.1 9.1l.1 3.4l0-27.6l.1 24.5l.1-5.7l.1-7.8l0 8.1l.1-11.9l.1 19.3l.1-12.1l.1-3.5l0-13.9l.1 7l.1 15.4l.1-10.3l0 4.4l.1 8.9l.1-3.9l.1-10.6l.1 9.5l0 3.4l.1-1.6l.1 3.7l.1 1.3l0-11.1l.1-.6l.1-4.3l.1 16l.1-2l0-9.3l.1 2.1l.1 2.1l.1 5.6l0-4.8l.1 5.9l.1-19.5l.1 6.9l.1 10.3l0-14.3l.1 14.7l.1-9.7l.1 3l0 3.3l.1-12.3l.1 19.1l.1-7.1l0 0l.1 8.1l.1-1.9l.1-8.7l.1-1l0 7.2l.1-9.4l.1 .7l.1-2.2l0 6.9l.1-.8l.1-4.8l.1 7.1l.1 1.4l0 2.4l.1-10.3l.1-5.4l.1 19.3l0-8.8l.1-6.8l.1-6.2l.1 9.3l.1 5.9l0-9.2l.1-14.2l.1 16.4l.1-2.4l0-8.5l.1 21.5l.1-14l.1-5.5l.1 4.1l0 5.8l.1 3.5l.1 1l.1 4.1l0-4.4l.1 3.7l.1-5.8l.1 .7l0 1.9l.1-.9l.1-2.7l.1 7.2l.1-11.2l0 3.2l.1-2.8l.1 6l.1-.7l0-2.2l.1 .2l.1 3l.1-.3l.1 1l0-.8l.1 1.7l.1 .2l.1 1.2l0-15.5l.1 13.8l.1-2.8l.1 4.5l.1-6.1l0-7.8l.1 12.5l.1-4.8l.1 1.5l0-6.7l.1 6.8l.1 .1l.1 .8l.1 9.2l0-17.8l.1-5.2l.1 16.5l.1-10.3l0 6.1l.1-10.9l.1 13.7l.1-6l0-6.7l.1 6l.1 2.3l.1 1.7l.1 3l0-4.3l.1 5.8l.1-17.3l.1 8.5l0 4.8l.1 7.2l.1-15.7l.1-2.5l.1 6.8l0-3.2l.1 0l.1 6.6l.1 1.3l0-2.5l.1-8.2l.1 12.3l.1 5.2l.1-9.3l0 .1l.1 1.4l.1-1.8l.1 7.5l0-1.8l.1-2.1l.1-1.8l.1-3.9l.1-1.7l0 3.8l.1 2.3l.1 4l.1-2.2l0 5.7l.1-4.6l.1-6.5l.1-.9l0 9.1l.1-13.3l.1 20.4l.1-15.9l.1 3.7l0 1l.1-3.8l.1 5l.1-19.9l0 20.2l.1-.6l.1-4l.1 12.6l.1-9.6l0 6.6l.1-17.1l.1 12.4l.1-1.9l0 8.5l.1-22.7l.1 22.4l.1-1.2l.1-4l0 8.3l.1-4.8l.1-4.8l.1-9.6l0-.3l.1 13.9l.1-3.3l.1-7.3l.1-3.7l0 12.3l.1-2.6l.1-1.3l.1-1l0 2.2l.1-14.4l.1 14.3l.1-9.6l0 4.6l.1-25.9l.1 18.7l.1 21.1l.1-14.6l0 15.3l.1-20.6l.1 11.2l.1 9.7l0-6.1l.1-3.3l.1-12.3l.1 9.9l.1-2.7l0 6.6l.1-.7l.1 5.2l.1-5.5l0-.6l.1-.9l.1 3.8l.1-3l.1 1.2l0-3.7l.1 4.5l.1-.1l.1 1.9l0-1.4l.1-1.8l.1 4.1l.1-14.1l.1 1.6l0 4.8l.1-2.8l.1 11.5l.1-3.5l0-.7l.1-3.6l.1-4l.1-.3l0 12.9l.1-7l.1-8l.1 9l.1-4.3l0 12l.1-9.2l.1 1.6l.1 9.2l0-15.9l.1-4.1l.1 4l.1 7.1l.1-1l0 2.3l.1-7.1l.1 1l.1-6.9l0 10l.1-6.5l.1 7.6l.1 2.2l.1-3.3l0 4.3l.1 0l.1-9.4l.1 .3l0 8.7l.1 .7l.1-3.7l.1 2.8l.1-8.5l0 6.4l.1 5.2l.1-2.4l.1-7.1l0-12.9l.1 12.2l.1 10.4l.1-2.2l0-5.7l.1 1.8l.1-1.7l.1-14.3l.1 20.7l0-.4l.1-4.9l.1-.5l.1-1l0-4.3l.1 5.6l.1-7.5l.1 6.3l.1-1.4l0 11.6l.1-4.7l.1-2.6l.1-6.3l0 7.4l.1 2.1l.1-1.5l.1-16.3l.1 20.1l0-8.9l.1 1.2l.1-9.9l.1 5.4l0 6.3l.1-7.5l.1-3.2l.1 10.8l.1 7l0-2.5l.1-6.7l.1 5.7l.1-6.2l0-7.2l.1 6.7l.1-15.9l.1 17.9l0 5.7l.1-7.7l.1-5.7l.1 14.1l.1-10.4l0-9.1l.1 10.8l.1-12.1l.1 21.2l0-11.6l.1 12.7l.1 .5l.1-1.7l.1-15.1l0 5.5l.1-8l.1 14.4l.1 4.6l0-15.1l.1 9.4l.1 4.4l.1-13l.1-2.2l0 11.1l.1-4.6l.1-2.9l.1 8.7l0-.9l.1-5.9l.1-10.4l.1 17.4l.1-10.9l0 1.6l.1 2.8l.1 2.3l.1 3l0-8.8l.1 5.4l.1 11.8l.1-14.9l.1 6.2l0-3.1l.1-17.1l.1 13.8l.1 13.9l0-9.1l.1 3.9l.1-13.6l.1 26.4l0-23.1l.1 3.7l.1 2.3l.1-5l.1-11.4l0 24.6l.1-7.5l.1-2.6l.1-.4l0 1.6l.1-5l.1 2.5l.1 3.3l.1 7.9l0-15.4l.1-6.4l.1 2.5l.1 5.6l0-5.9l.1 17.2l.1-14.3l.1 3.4l.1 2.9l0-9l.1 9.7l.1 1.1l.1 3.2l0 4.6l.1-7.4l.1-17.1l.1-1.1l.1 18.9l0-4.8l.1-10.7l.1 17.6l.1-2.9l0 5.3l.1-21.1l.1 16.7l.1-1.4l0-2l.1 4.4l.1-27.6l.1 13.8l.1-9.2l0 30l.1-17.7l.1 7l.1 5.1l0-7.1l.1-12.7l.1 4.1l.1 12.4l.1-33l0 20.5l.1 13.9l.1 .1l.1-1l0-3.4l.1 2.7l.1 .6l.1-11.4l.1 11.4l0-5.2l.1 5l.1-2.2l.1-11.5l0 9.2l.1-5.6l.1 6.3l.1-9.6l.1 9.2l0-9.4l.1 16.9l.1-16.7l.1 5.5l0 9.1l.1-1.2l.1 7.2l.1-9.5l0-3.4l.1 5l.1-11.9l.1 21.2l.1-11.1l0 5.8l.1-3.9l.1-9.8l.1 6.4l0-12.4l.1 14.9l.1 1.7l.1-2.1l.1 6.8l0-3.6l.1-4.7l.1-7.5l.1 12.8l0-.4l.1 4.1l.1-.9l.1-7.8l.1-.7l0-2l.1 4.3l.1-10l.1 17.9l0-9.5l.1-5.2l.1 7.2l.1-5.5l.1 4.8l0 .9l.1-3.8l.1 5.2l.1-3.8l0-4.8l.1 10.8l.1-11.5l.1-4.1l0-4.6l.1 16.1l.1-11.4l.1 19.4l.1-2.2l0-8.7l.1 6.9l.1-.9l.1 .3l0-3.4l.1 1.8l.1 1.4l.1-5.1l.1 3.1l0-3.4l.1-2.2l.1-2l.1 5.8l0 1.2l.1 0l.1 3.2l.1-9.4l.1 3.8l0-8.4l.1 5.8l.1 5.4l.1-9.6l0 8.4l.1-1.5l.1-4l.1 1.7l.1 6.3l0-9.8l.1 2.5l.1 2.8l.1 1.4l0-3.2l.1 10.5l.1-19l.1 24.1l0-8.2l.1-.2l.1-8.2l.1 2.5l.1-2.2l0 9.5l.1-16.3l.1 2.8l.1 18.5l0-13.4l.1 12.3l.1-7.3l.1-7.6l.1 3.9l0 7.8l.1-3.7l.1-11.9l.1 6.8l0-4.1l.1 14.8l.1-13.3l.1 2.4l.1 6.7l0-16.2l.1 11.2l.1-6.7l.1 9.6l0-6l.1-1.2l.1 4.8l.1-1.7l.1-1.4l0 2.9l.1 6.4l.1-9.5l.1 3.2l0-2.7l.1 6.6l.1-16.8l.1 5.5l0-4.2l.1-4.7l.1 8.1l.1 9.3l.1 5.1l0-15.9l.1 6.8l.1-4.2l.1-4.2l0 11.5l.1 4l.1-8.1l.1 5.8l.1 2l0-7.6l.1 4.5l.1-5.5l.1 9.6l0-5.1l.1 1l.1-1.7l.1 3.6l.1-8.5l0 13.1l.1-11.4l.1-5.1l.1 8.3l0-.7l.1 5.2l.1-6.4l.1-1.2l.1 1.8l0-1.3l.1-1.4l.1 2.3l.1 11.6l0-3.9l.1-5.2l.1-18.8l.1 10l0 8.1l.1 1.3l.1 1.5l.1-7.2l.1 6.4l0-2.5l.1 5.4l.1-2.1l.1 2.5l0-.8l.1-2.2l.1-11.2l.1 6.4l.1-5.1l0 10.5l.1-4.8l.1 5.5l.1-2.2l0-.2l.1 7.9l.1-9.4l.1 7l.1-10.1l0 7.3l.1 4.9l.1-2.2l.1-1.6l0-15.7l.1 17.8l.1-4.4l.1-3.7l.1 2.5l0-.8l.1-5.4l.1 9l.1-17.6l0 3.4l.1 8.7l.1-8.7l.1 9.3l0 3.6l.1 3.9l.1-2.7l.1-7.9l.1 1.8l0-9.8l.1 .5l.1 5.2l.1 5.5l0-13.1l.1 14.4l.1 12.6l.1-11.2l.1-4.9l0-.8l.1-.1l.1-1.5l.1 19.2l0-32.4l.1 15l.1 3.3l.1 11l.1-16.3l0 11.2l.1 5.6l.1-14.9l.1 .4l0 4.7l.1 3.8l.1-7.6l.1 2.6l.1-2l0-.5l.1 11.1l.1-11.2l.1 10l0-10.1l.1 5.5l.1 .7l.1-15l0 10.6l.1 .2l.1-4.2l.1-12l.1 33.1l0-19.1l.1 3.2l.1-7.7l.1 7.8l0 .6l.1-4.6l.1 4.5l.1 4.2l.1-4.7l0-14.6l.1 10.6l.1 16.6l.1-11.5l0 4.2l.1-11.8l.1 12.9l.1-5.5l.1-4.2l0-2.4l.1 9.4l.1-5.4l.1-16.6l0 22.2l.1-3.8l.1 4.6l.1-3.2l.1-4.7l0 3.2l.1-4.4l.1 11.8l.1-8.1l0 2.9l.1 14.2l.1-23.9l.1 7.1l0 4l.1-10.9l.1 3.9l.1 16.5l.1-16l0-16.8l.1 17.9l.1-3.9l.1 14.9l0-.4l.1-.5l.1-15.6l.1 .9l.1 19.8l0-19.5l.1 18.3l.1-3.9l.1-7l0 3l.1-3.3l.1-1.8l.1-6.9l.1 11.1l0 .8l.1 .2l.1-24l.1 11.8l0-.3l.1 4.7l.1 2.2l.1-9.3l.1 11.6l0 7.7l.1 .3l.1-29.4l.1 26.8l0-2.2l.1-2.5l.1-8.9l.1 14.2l0-5l.1-4l.1 9.9l.1-7.6l.1-7.6l0 6.4l.1 1.1l.1-3l.1 4.1l0 2l.1 .5l.1-9l.1 15.2l.1-2.2l0-12.6l.1-2.9l.1 8.1l.1 5.2l0 4.4l.1-13.1l.1 3.1l.1-1.2l.1-.5l0 8.9l.1-1.9l.1-3.3l.1 .5l0 8l.1-2.1l.1-5.8l.1-11.2l.1-9.7l0 18.3l.1 3.4l.1-3.7l.1 1.6l0 5.1l.1 14.9l.1-20.6l.1 4l.1-2.6l0 5.1l.1-3.7l.1-2.7l.1 8l0-3.4l.1-8.1l.1-1.1l.1 15.6l0-15.8l.1-3.8l.1 6.4l.1-.3l.1 2.4l0-1.9l.1 5.1l.1-11.7l.1 9.4l0 7.5l.1-11.3l.1-2.8l.1 3.7l.1 8.4l0-9.9l.1 20.1l.1-28.7l.1 9.1l0 14.1l.1 1.1l.1-31l.1 18.3l.1 5.2l0-5.9l.1 3.4l.1-.2l.1-3l0 .1l.1 7.9l.1-7.9l.1 .6l.1 6.8l0-12.4l.1 3.2l.1 9.4l.1-19.4l0 9.8l.1-6.2l.1 13.9l.1-1.5l0-3.1l.1 3.5l.1-1.7l.1 6.4l.1-23.9l0 12.8l.1-5.8l.1-3.9l.1 13.6l0-16.2l.1 28.3l.1-10.3l.1 .7l.1-2.4l0 6.1l.1-12.6l.1-9.4l.1 14.2l0-2.7l.1 15.6l.1-7.5l.1-6.6l.1 6.1l0-5.4l.1 4l.1-4.4l.1 9.6l0-10.8l.1-7l.1 5.7l.1-12.4l.1 17.7l0-6.9l.1 13.4l.1-14l.1 3.4l0 4.9l.1-9.7l.1 14.7l.1-5.1l0-3.4l.1 7.7l.1-.2l.1-12.7l.1 9.1l0 4l.1-3.4l.1 .5l.1 1.1l0-6.3l.1 8.2l.1 2l.1-8.1l.1 .7l0-9.3l.1 15.9l.1-4.2l.1-10.1l0 5l.1 5.1l.1 1.7l.1-9.2l.1 5l0 4.3l.1-2.3l.1-.2l.1-8.7l0 21.2l.1-11.7l.1-11.5l.1 18.2l.1-7.9l0-7.3l.1 12.7l.1-4.2l.1 2.1l0-5.7l.1 4.3l.1 2.5l.1-6.3l0-.7l.1-6.9l.1 10l.1-1.1l.1 1.9l0-11.1l.1-.3l.1 13l.1 6.9l0-26.2l.1 25.2l.1-.4l.1-7.2l.1-17l0 6.4l.1 9.3l.1-6.1l.1 5.6l0-8.8l.1 10.1l.1-14.1l.1 8l.1 6.6l0 7l.1-17.9l.1 4.6l.1 9l0-.4l.1-2.6l.1-.6l.1-.8l.1-.8l0-.1l.1 2.7l.1-18.8l.1 17.5l0 1.8l.1-6.9l.1 8.4l.1-7.7l0 2.1l.1-6.5l.1 12.6l.1 5.1l.1-18.8l0 9.3l.1-14l.1 8.1l.1 7.2l0-4.5l.1 8.6l.1-1l.1-5.4l.1-.7l0 10l.1-14.7l.1 1.7l.1-3.9l0 15l.1-11.5l.1 6.9l.1-.6l.1-9.9l0 7.2l.1-3.7l.1-2.4l.1-1.8l0 13.1l.1 .1l.1-7.6l.1-1.4l.1 7.2l0-6.3l.1 7.3l.1-3.1l.1-.8l0-2.2l.1-3.3l.1 6.4l.1-2.9l0 5.1l.1-9.6l.1 1.3l.1 6.8l.1-18.4l0 15.8l.1 1l.1 .7l.1-5.3l0 1.6l.1 4.6l.1-6.9l.1-4.3l.1-3.7l0 7.1l.1 5.9l.1 2.1l.1-8.3l0-5.8l.1-9.1l.1 20.8l.1 3.7l.1-.5l0-7.8l.1-2.4l.1 9.1l.1 2.4l0 4l.1-15.7l.1 14l.1-12.5l.1 5.4l0 9.7l.1-4.4l.1-13.4l.1 7.2l0 1.5l.1-10.6l.1 9.4l.1-.9l0-.1l.1 .2l.1-7.3l.1 10.9l.1-10.9l0-3.9l.1 14.6l.1-6.2l.1 9.7l0-6.9l.1-8.6l.1 2.2l.1 9.3l.1-6.5l0 .6l.1 2.6l.1-.3l.1-14.7l0 29.4l.1-10.2l.1-9.8l.1 7.3l.1-3.3l0 .3l.1 3.6l.1-1.5l.1 4l0-3.9l.1-5.6l.1-1.8l.1 3.7l.1 5.2l0 .7l.1 6.7l.1-7.7l.1 3.7l0-1.2l.1-1.6l.1-2.6l.1-.5l0 .9l.1 6.2l.1-3.5l.1-7.5l.1 5.6l0-3.6l.1 2.5l.1-11.1l.1-1.4l0-8.6l.1 23.5l.1-8.1l.1 13l.1-12.5l0 2l.1 5.6l.1-13.5l.1 9.8l0 9.8l.1-19.9l.1 10.6l.1-5.2l.1 9.6l0 .5l.1 2.5l.1-1l.1-11l0 1.3l.1 12.9l.1-8.9l.1-.2l.1 4.4l0-6.2l.1 6.4l.1-11.2l.1 8.9l0-3l.1 20.8l.1-16.7l.1-2.7l0 3.6l.1-2l.1 3.6l.1-11l.1 11.7l0-3.6l.1-12.5l.1 2.5l.1 8.5l0 6.7l.1 3.5l.1-13.3l.1 1.4l.1 3.2l0 0l.1-18.6l.1 10.4l.1 6.4l0 1.2l.1 .7l.1-4.4l.1 3.9l.1-2.2l0 3.1l.1-7.9l.1 3.7l.1 7.9l0-30.9l.1 22.5l.1 4.7l.1 4.1l.1-7.3l0 3.9l.1-16.6l.1 9.5l.1 7l0 6.1l.1-15.3l.1 14.6l.1-12.2l0 2.5l.1 16l.1-13.5l.1-14.2l.1 17.2l0 7.7l.1-3.3l.1-8.3l.1-2.7l0-4l.1 4.1l.1 6.9l.1-2.4l.1-1.1l0-.4l.1 6l.1-11.7l.1-3.2l0 8.7l.1-2l.1 8.2l.1-8.7l.1 5.8l0 .4l.1-10.5l.1 4.8l.1 3.7l0 6.1l.1-8.9l.1-12.9l.1 10.6l.1 .5l0-7.5l.1-8.3l.1 13.2l.1-3.3l0 5.8l.1-2l.1 .3l.1-5.2l0 11.2l.1-5.3l.1 .1l.1 2.8l.1 3l0-9.7l.1 8.5l.1 6.3l.1-14.2l0 13.7l.1-14.1l.1 19.6l.1-14l.1-14.9l0 16.4l.1-10.6l.1 11.8l.1 1.8l0-2.5l.1-8.9l.1-3.2l.1-1l.1 4.5l0 6.7l.1 11.2l.1-6.9l.1-16.6l0 21.4l.1-12.8l.1 .5l.1 12.6l.1-11.9l0 5.1l.1-4.1l.1 2.3l.1 .7l0 3.7l.1 6.3l.1-26.2l.1 19.6l0-3l.1 .7l.1-.5l.1 2.4l.1-8.7l0 4.2l.1 3.1l.1 .6l.1-7.5l0 8.9l.1-9.2l.1-6.5l.1 2.2l.1 4l0 13.7l.1-15.1l.1 3.5l.1-8.8l0 14.3l.1-.6l.1-15l.1 16.7l.1-14.1l0 6.7l.1 16.6l.1-11l.1 .1l0 4.8l.1 2.6l.1-11.1l.1 6.5l.1-1.6l0 1.3l.1-3.7l.1-5.6l.1-2.2l0 2.1l.1 6.4l.1-1.3l.1-5.6l.1-5.5l0 10.5l.1 6.9l.1-9.7l.1-2.7l0 8l.1-12.7l.1 12.7l.1-3.2l0-2.7l.1-10.7l.1 20.2l.1-10.9l.1-1.8l0 6.8l.1-8.9l.1 12.1l.1 2.6l0 .6l.1-3l.1 1.8l.1-9.9l.1 3.6l0 8.8l.1-21.8l.1 11.4l.1 11.4l0 .8l.1-11l.1-10.2l.1 13l.1-9.7l0-6.3l.1 8.2l.1 7.9l.1 5.4l0-3.6l.1-14.7l.1 10.2l.1 6.1l.1-2.9l0-1.4l.1-10.6l.1 12.9l.1-20l0 14.5l.1-1l.1 9l.1-9.5l0 1.2l.1-3.6l.1 10l.1-6.1l.1 10.9l0-3.4l.1-26.9l.1 24.3l.1 1.6l0-11.6l.1 8.1l.1-25l.1 23.1l.1-4.9l0 7.4l.1-11.2l.1 8.9l.1-24.2l0 29.1l.1-8.1l.1-2l.1 12.1l.1-3l0 1.4l.1 5l.1-12.2l.1 19.3l0-9.1l.1-1.2l.1-8.6l.1 3.1l.1-9.4l0-1.5l.1 8.5l.1 7l.1-11.2l0 10.1l.1-2.3l.1-2.7l.1-12.2l0-11.6l.1 14l.1 13.3l.1-10.7l.1-3l0 15.6l.1-6.5l.1 5.5l.1-.3l0-4.9l.1-.4l.1 6.1l.1-5.2l.1 7.6l0-6.1l.1-2.4l.1 4.4l.1 6l0-4.4l.1-7.9l.1-4.7l.1 .1l.1-.6l0-6.9l.1 18.2l.1-12.4l.1 14.4l0-20.1l.1 7.2l.1 13.8l.1-11.3l.1-2.8l0 13.2l.1-7.7l.1-4.1l.1-9.6l0 20l.1-17l.1 19.2l.1-.7l0-16.5l.1 5.6l.1 10.5l.1-18l.1 9.1l0 2.6l.1 3.4l.1 12.9l.1-15.1l0-7.4l.1 7.8l.1-5.7l.1 6.1l.1-12.3l0 28l.1-20.1l.1 9.5l.1-7.3l0-3.5l.1-4.4l.1 3.3l.1-3.6l.1 15.8l0-7.1l.1 14l.1-15.6l.1 12.6l0-18.6l.1 7.2l.1 3.5l.1 2.3l.1-5.7l0 5.4l.1 4.6l.1-11.7l.1 8.5l0-9.1l.1 9.6l.1 1.2l.1-27.1l0 15.4l.1-5.2l.1 11.7l.1-1.7l.1-.2l0-17.4l.1 12.2l.1 4.4l.1 1l0-.8l.1-8.1l.1 8.2l.1-.2l.1-10.9l0 3.4l.1 1.8l.1-11.3l.1 18l0 6.1l.1 3.1l.1-9.4l.1-2.2l.1-6.2l0 16.6l.1-.6l.1-6.4l.1 .5l0 6.4l.1-7.2l.1-6.5l.1 7.1l.1-23.3l0 16l.1 10.7l.1-3.5l.1 7l0-27.2l.1 20.6l.1 .3l.1-7.8l0 8l.1 2l.1-4l.1-8.7l.1 0l0 16.6l.1 1.5l.1-13.3l.1 5.8l0 1l.1-11.9l.1 5.1l.1 7l.1-8.3l0 9.5l.1-1.2l.1-20.2l.1 18.4l0-6.2l.1 6.3l.1 .4l.1 4.2l.1 .1l0-17.1l.1-9.9l.1 15l.1 .6l0 8.3l.1-3.5l.1-13.5l.1-10.6l.1 18.4l0 2l.1-5.9l.1 8l.1 6.1l0 .7l.1-3.8l.1 1l.1 11.4l0-3.5l.1-17.3l.1-1.6l.1 1.4l.1 8.2l0 3l.1-4.4l.1-2.8l.1 6.1l0-12.6l.1 13.8l.1 9.5l.1-19.4l.1-2.3l0 8.6l.1-9.8l.1-1.5l.1 25.3l0-18.6l.1 10.6l.1-12.6l.1 3.1l.1-4.8l0 8.8l.1 2.4l.1-6.6l.1-20l0 18.8l.1 10.1l.1-6.5l.1 1.6l.1-12.9l0 10.1l.1 3.2l.1-3.7l.1 6.4l0-8.8l.1 10.8l.1-3.6l.1-5.2l0 10l.1-.2l.1-2.7l.1-18.3l.1 5.8l0 6.6l.1-8l.1 1.1l.1 11.7l0 2.7l.1-17.7l.1 15.3l.1-9.9l.1 14.8l0-9.2l.1 7.2l.1-13.1l.1-1.1l0 3.2l.1-3.4l.1 10.6l.1-7.2l.1-1.5l0 10.7l.1-10.8l.1 2.4l.1-1.3l0 5.3l.1-1.3l.1-4.1l.1 2.7l.1-3.4l0 12.7l.1-16.3l.1 13.6l.1-14.4l0 17.6l.1-4.2l.1-6.7l.1-1.1l0 6.5l.1 2.9l.1-11.1l.1-3.8l.1 14.8l0 1.5l.1-3.2l.1-3.6l.1 10.2l0-4.2l.1-12.2l.1 11l.1 .1l.1-19.5l0 4.4l.1-6l.1 15.3l.1 .9l0 2.1l.1 6l.1 3.6l.1-12.1l.1 5l0-10.7l.1-3l.1 17.6l.1-1l0-10.4l.1-10.7l.1-1.9l.1 19.4l.1-5.7l0-12.4l.1 18.4l.1 1.3l.1-18.8l0 17.2l.1 2.6l.1-22.5l.1 17.7l0-.1l.1-7.8l.1-9l.1 7l.1 4.6l0-1.2l.1-.1l.1 .9l.1 13.3l0-13.4l.1 11.1l.1-3.2l.1-6.6l.1 2l0-3.7l.1 2.9l.1-3.9l.1-12.5l0 23.8l.1-17.2l.1-7.3l.1 20.1l.1-.5l0-1.8l.1-4.3l.1 8.7l.1-2.6l0-2.4l.1-.9l.1-12.3l.1 16.6l.1-10.7l0 .3l.1 5.1l.1 .3l.1 7.2l0-.6l.1-8.2l.1 .8l.1 3.9l0-12.2l.1 9.1l.1 .5l.1 1.9l.1-10.7l0 4.8l.1 2.2l.1 10.8l.1-23.6l0 24.2l.1-11.9l.1 10.9l.1 1.7l.1 9.2l0-19.6l.1-1.1l.1 5.1l.1 .9l0 5.1l.1-8l.1 1.6l.1 7.3l.1-5.7l0-1.1l.1 5l.1-16.7l.1 17.5l0-25.2l.1 7.2l.1 13.4l.1-18.2l.1 5l0-1.2l.1 9.3l.1 8.1l.1 6.1l0-15l.1 3.1l.1 3.6l.1-23.8l0 15.6l.1 13l.1-8.3l.1-4.8l.1 11.8l0-9.7l.1 4.2l.1 6.7l.1-12.3l0-2.4l.1 21.4l.1-19.2l.1 7.6l.1-1.8l0 8l.1-3.8l.1-22.5l.1 10.1l0 6.9l.1-1.9l.1 6.6l.1-5l.1 5.1l0-8l.1 9.4l.1-8.9l.1-4.8l0 8.7l.1-3.9l.1-.6l.1 6.2l.1 4.6l0-17.6l.1 8.3l.1 2.8l.1-12.9l0 16.6l.1-2l.1 1.3l.1 1.8l.1-5.8l0 3.6l.1-16.9l.1 17l.1-15.5l0 16.9l.1-3.8l.1-2.6l.1 6.3l0-11.4l.1 9.7l.1 .5l.1-10.3l.1 10.8l0-10.1l.1-4.1l.1 2.4l.1-5.8l0 15.3l.1-13.7l.1 14.6l.1 6.3l.1-8.9l0-18.2l.1 23.6l.1-22.5l.1 24.4l0-15.9l.1 3.7l.1 7.1l.1 10.1l.1-18.6l0 .3l.1 1.2l.1-4.3l.1 13.6l0-23.1l.1 10.1l.1 12.8l.1-25.5l.1 20.1l0-3.5l.1-3.3l.1 12.8l.1 .1l0-4.8l.1 6.1l.1-5.8l.1-13.4l0 19.2l.1-7.8l.1 4.8l.1-11l.1 14.1l0-.2l.1-5.7l.1-18.6l.1 23.7l0 4.4l.1-4.1l.1-11.6l.1-2.1l.1 7.8l0-2.3l.1 10.4l.1-11.4l.1 4.1l0 3.4l.1-12.5l.1-.4l.1 12l.1-5.1l0 13l.1-4.8l.1-17.3l.1 17.7l0-.9l.1-14.9l.1 22.9l.1-9.2l.1-10.1l0 8.8l.1 2.3l.1 .8l.1-7.8l0 7.4l.1-8.2l.1 3.4l.1-1.2l0-8.8l.1 12.3l.1 2.5l.1-5.9l.1-1.9l0 3.2l.1 8.9l.1-15.2l.1 15.4l0 .9l.1-18.7l.1-5.3l.1 14.8l.1 3.2l0-16.8l.1 19.5l.1-7.8l.1 3.8l0-8.5l.1 2.2l.1 7.4l.1-14l.1 3.5l0 5.3l.1 2.3l.1-1.7l.1 6.9l0-5.6l.1 .1l.1-6.1l.1 5.7l.1 1.6l0-4.9l.1-5.8l.1 3.3l.1 5.3l0 2.3l.1-14.5l.1 11.2l.1 7.1l0-8.5l.1 12l.1-6.7l.1-8.6l.1 6.1l0 1.2l.1-7.9l.1-3.8l.1 15.2l0 .8l.1-2l.1 2l.1-10.2l.1-1.8l0 6.2l.1 5.5l.1 3.3l.1-8.2l0 3.7l.1-8.3l.1 10.9l.1-3.7l.1-.9l0-10.9l.1 2.3l.1 2.1l.1 2.2l0-3.6l.1 15.5l.1-17.1l.1 8.6l.1-14.2l0 5.5l.1-2.8l.1 13.9l.1-30.4l0 21.6l.1 2.3l.1 5.9l.1-6.5l0 15l.1-23l.1 7l.1 4l.1-11.4l0 7l.1 .6l.1 7l.1-6l0 9.1l.1-.2l.1-7.5l.1 5.2l.1 3.9l0-6.6l.1 9.2l.1-23.5l.1 18.5l0-.1l.1-18.2l.1 21.8l.1 4.2l.1-13.1l0 2.1l.1-9.9l.1 8.4l.1 9l0-10.2l.1 37.8l.1-46.9l.1 7.8l.1 7.5l0-1.1l.1-4.4l.1 3.1l.1-4.5l0-.3l.1 8.6l.1-8.4l.1-4.4l0 13.1l.1 1.6l.1-14.3l.1 1.5l.1-2.7l0-7.8l.1 15.6l.1 5l.1-7.5l0 5.8l.1-6.9l.1-2.8l.1 4.8l.1-3.6l0 4.2l.1-1.8l.1 8.6l.1-20.7l0 18.3l.1-1.3l.1 1.5l.1-2.5l.1 1.1l0 8.6l.1-24.2l.1 10.1l.1 4.7l0-1.8l.1-8l.1 1.6l.1 4.1l.1-4.5l0 20.8l.1-20.5l.1 8.1l.1 2.9l0 1.2l.1-6.2l.1 10.2l.1-11.9l0 6.9l.1-9.9l.1 15.2l.1-12.5l.1 5.7l0 4l.1-16.5l.1 1.5l.1 13.3l0-3l.1-13.4l.1 10.7l.1 4.5l.1 1.4l0-.7l.1-8.5l.1-2.7l.1 9.3l0 3.6l.1-1.5l.1 5.9l.1-13.4l.1 3.5l0-8.1l.1-11.3l.1 8.8l.1 13l0-.4l.1 5.5l.1 4.3l.1-27.1l.1 13.6l0 10.2l.1-13.3l.1 16.8l.1-10.3l0-2l.1 4.1l.1-.5l.1-8.6l0 8.7l.1-11.3l.1 18.6l.1-7.9l.1-15.6l0 19.1l.1-.1l.1-5.7l.1 2.6l0-4.1l.1-5.8l.1 3.4l.1 2.7l.1 3.6l0-3.7l.1-5.4l.1 11.7l.1-2.5l0 4.1l.1-6.4l.1-1.1l.1 3.9l.1 3.4l0-2.4l.1-8.5l.1 7.6l.1-9.2l0 9.4l.1 .6l.1-9.6l.1 9.9l.1-12.5l0 20.4l.1-12l.1 2.8l.1-.6l0-4.1l.1 13.1l.1-29l.1 20.2l0-23.3l.1 14.6l.1 4.8l.1 9.8l.1-22.2l0 9l.1-4l.1 17.2l.1 1.7l0-7.9l.1-6l.1-2.2l.1-3.1l.1 14l0 2.7l.1-13.1l.1 11.3l.1-5.4l0-17.6l.1 19.6l.1-5.2l.1 .9l.1 1.9l0-2.8l.1-.9l.1 3.3l.1-11.7l0 4.9l.1 12.9l.1-17.2l.1 10.5l.1 2l0 2.9l.1-9.8l.1 6.1l.1 3.8l0 .5l.1-13l.1 10.3l.1 .4l0-23.6l.1 18.8l.1-2.3l.1 3.9l.1 1.1l0 5.2l.1-10.7l.1 3.2l.1 6.4l0-3.7l.1-15l.1 12.3l.1 1.7l.1 3.7l0-.2l.1-7.1l.1-2.5l.1 5.1l0-5.5l.1 11.2l.1-2l.1-4.9l.1-5.9l0 11.1l.1-9.8l.1 13.3l.1-14.3l0-1.7l.1 11.7l.1-4.4l.1-3l.1 9.1l0-1.3l.1 .2l.1-6.4l.1-3l0 11.9l.1-1.2l.1-8.4l.1 7.9l0-2.1l.1-7.3l.1 5.8l.1-7.6l.1 7.2l0 1.4l.1 3.1l.1 43.6l.1-45.2l0 8.1l.1-16.3l.1 .3l.1 2.3l.1-4.9l0-9.4l.1 27.4l.1-8.9l.1-6.9l0 7.5l.1-.7l.1-8.8l.1 4.3l.1 11.4l0-19.1l.1 15.6l.1-5.8l.1-2.4l0 13.4l.1-23l.1 8.8l.1 2l.1-3l0 7.3l.1-6.6l.1 .5l.1 16.8l0-5.3l.1-13.9l.1 12.9l.1-9.7l0 5l.1-6.5l.1 15.4l.1-10.8l.1 .8l0-2l.1 .3l.1 1.2l.1-2.2l0-.8l.1 6.6l.1-14.3l.1 11.2l.1 3.3l0-8.1l.1 12.8l.1-15.9l.1 10l0-2.3l.1 .2l.1-3.3l.1 6.8l.1-.7l0-5.1l.1 5.8l.1-2.8l.1 .6l0 1.2l.1 1.5l.1 1l.1-2.2l.1 4.5l0-.3l.1-28.8l.1 22.2l.1-6.6l0 4.7l.1-3.1l.1 4.3l.1-6.6l.1 6l0-.6l.1 8.7l.1-13.9l.1 8.3l0-1l.1-3.2l.1 1.3l.1 1.8l0-9.1l.1 13.5l.1 6.6l.1-9.4l.1 10.2l0-10.9l.1-10.1l.1-2.8l.1 17.8l0-8.8l.1 9.5l.1-9l.1-8l.1 13.4l0-15l.1 9.9l.1-19.7l.1 24.6l0 1.5l.1-14.5l.1 3.1l.1 2.4l.1 8.2l0-5.1l.1 3.9l.1-14.8l.1 7.4l0 8l.1 .7l.1 3.7l.1-4.7l.1-3.1l0-3.3l.1-4.8l.1 10.6l.1-12.3l0 20.9l.1-10.8l.1-5.4l.1 7.6l0-4.7l.1-4.3l.1 9.3l.1-4.7l.1-6.5l0 14.7l.1-14.8l.1 8.9l.1 7.2l0-10.8l.1-2.3l.1 6.2l.1-3.7l.1-1l0 3l.1-.6l.1-5.3l.1 .5l0 5.8l.1 10.3l.1-3l.1-5l.1-10.9l0 5l.1-11l.1 11.2l.1 .2l0 5.1l.1-11.4l.1 17.1l.1-10.2l.1 3.5l0 2.1l.1-10.1l.1 2l.1 2.1l0 4.9l.1 6.2l.1-.5l.1 5.7l0-5.7l.1-9.9l.1-8.6l.1 17.1l.1-15.7l0-6.2l.1 7.6l.1-5.8l.1 14.1l0 2.6l.1-5l.1-5.1l.1 3.8l.1 1.8l0-4.6l.1 10.8l.1-10.7l.1 17.3l0-22.7l.1 .3l.1-8.9l.1 24.8l.1-1.5l0 2.3l.1 2.6l.1 4.8l.1-19.1l0 7.5l.1-.5l.1 9l.1-11.1l.1-16.1l0 16l.1-5.1l.1 13l.1-14.7l0 8.3l.1-1.2l.1-1.8l.1 4.4l0-6.9l.1 6l.1 1.9l.1 3.4l.1 .5l0-13.1l.1-1.6l.1 8.8l.1 .6l0 2.1l.1-4.9l.1-9.6l.1 9l.1 5.3l0-11.2l.1 2.1l.1 15.7l.1-7l0-12.8l.1 6.9l.1 3.3l.1-3.5l.1 9.8l0 0l.1-5.9l.1-1.8l.1-12.4l0 14.1l.1-3.1l.1-10.3l.1 16.2l.1-1.7l0-2.2l.1-1.7l.1 .7l.1-4l0 12.3l.1 .8l.1-7.1l.1 8.6l0-22.2l.1 17.5l.1-1l.1-7.9l.1 2.1l0-1.8l.1 4.5l.1 7.4l.1-6.4l0 2.7l.1 5.4l.1-7.2l.1-9.1l.1 12.1l0-.8l.1 .1l.1-9.9l.1 17.6l0-15.2l.1 2.6l.1 1.5l.1 4.3l.1-3.2l0-17.9l.1 14.5l.1 4.1l.1-8.7l0 13.5l.1-15.6l.1 9.2l.1-22.7l.1 2.7l0 14.8l.1 1.2l.1 5.6l.1-6.7l0-1.3l.1 13.4l.1 .6l.1-12.4l0 7.3l.1-4.5l.1 .4l.1-.4l.1 2.8l0-6.1l.1-6.8l.1-1.7l.1 15.3l0-3l.1 .2l.1 9l.1 .2l.1-7.7l0-4.2l.1-2.4l.1 9.4l.1-8.4l0 5.7l.1 1.7l.1-9.9l.1 16.7l.1 3.3l0-28.7l.1 16.4l.1-6.2l.1 6.6l0 3l.1 2.9l.1 3.6l.1-11.6l.1 7.3l0-5.1l.1-2.9l.1 2.6l.1-1.1l0-11.1l.1 9.5l.1 .4l.1 2.9l0-12.4l.1 1.3l.1 13.3l.1-6.2l.1 3.8l0 1.6l.1 2.3l.1-19.6l.1 10.8l0 15.9l.1-19.8l.1-6.7l.1 13.7l.1 1.3l0-1.6l.1-5.9l.1 10.1l.1-6.1l0 11.3l.1-17.1l.1 15.2l.1-4.2l.1-5.2l0-4.5l.1 11.4l.1-.2l.1-15.5l0 15.4l.1 .8l.1-1.4l.1-8l.1-.2l0-2.3l.1 4.4l.1 5.6l.1-5.8l0-2.3l.1 12.2l.1-3.1l.1-3.2l0-13.2l.1 14.8l.1-2.3l.1 .2l.1-2.5l0-2l.1 10.4l.1 10.8l.1-22.3l0 17.7l.1-14.2l.1-.8l.1-2.2l.1 11.1l0-8.3l.1-2.6l.1-.1l.1-4.4l0 15.1l.1-2.5l.1-1.3l.1-1.3l.1-8l0 1.3l.1 5.5l.1-13.6l.1 9.9l0 11l.1-16.7l.1 17.6l.1-.1l.1-4.9l0 .3l.1-1.9l.1-.8l.1 4.2l0-.2l.1-8.9l.1 2.8l.1 3.6l0 2.9l.1-4.5l.1 5.7l.1 1.9l.1-15l0 2.4l.1 7.2l.1-14.5l.1 13.2l0-5.6l.1 1.2l.1 2.8l.1-.1l.1-11.2l0 5.1l.1 17.5l.1-14.9l.1 16.7l0-6.6l.1-9.1l.1 9.4l.1-15.8l.1 11.9l0-6.6l.1 2.1l.1-3.8l.1-4.3l0 18.5l.1-7.7l.1-2l.1-6.2l.1 3.7l0 5.8l.1 6l.1 1l.1-3.9l0-6.2l.1 .2l.1-10.2l.1 9.2l0-3.7l.1 13.8l.1-9.8l.1 4.8l.1 .5l0-13l.1 9.8l.1 .4l.1-.5l0 7.7l.1 1l.1-24.6l.1 15.5l.1 .5l0-1.8l.1 4.4l.1-.9l.1 2.7l0-7l.1 3.6l.1-8.8l.1-4.5l.1 18.3l0-11.1l.1 7.5l.1-20.8l.1 16.8l0-5.8l.1 10.2l.1-12.5l.1 13.6l.1 3.2l0 5.8l.1-12.4l.1 1.9l.1-3.6l0 6.3l.1-4.7l.1 .1l.1 5.8l0-22l.1-3l.1 16.8l.1-1.9l.1-.9l0-.6l.1 9.5l.1-6.3l.1-12.6l0 15.9l.1 .4l.1 3.4l.1-2.5l.1 9.7l0-11.9l.1-8.3l.1 5.6l.1 1.2l0 .8l.1 0l.1 6.3l.1 4.9l.1-26.2l0 11.7l.1 16l.1-25l.1 15.1l0-9.7l.1 8.1l.1 2.7l.1-9.8l.1 8.4l0 11.1l.1-17.2l.1 4.7l.1-.1l0 1.4l.1-5l.1-8.8l.1 4.3l0 5.3l.1 1.7l.1 4.5l.1-18.6l.1 25.9l0-5.6l.1-4.5l.1-2l.1-1.1l0 4.4l.1-18.1l.1 6.2l.1 20.4l.1-5.5l0 2.4l.1-19l.1 13.8l.1 5.9l0-6.6l.1 5.6l.1-7.6l.1-4.9l.1 11.7l0-8.3l.1-.6l.1 6.1l.1-7.4l0 7.1l.1-8.3l.1 5.7l.1 1.7l.1-13.7l0 3.7l.1 9.3l.1 16.2l.1-20l0 4.8l.1-5.7l.1 3l.1 1.7l.1 .4l0-13.1l.1-.7l.1 1.8l.1 16.5l0-4.3l.1-3.2l.1 12.2l.1-18.9l0 14.2l.1-13.6l.1 10.3l.1-5.7l.1 12.9l0 4.6l.1-10.4l.1 3.4l.1-.2l0-4.6l.1-4.2l.1-3.9l.1 11.1l.1 3.1l0-7.7l.1 5.6l.1 .6l.1-4.4l0-10.3l.1 6.5l.1 12.8l.1-26.6l.1 22.7l0-8.1l.1 5.4l.1-11.4l.1 4.2l0-6l.1 7.3l.1 2.2l.1-9.7l.1 19.5l0-3.8l.1 1.4l.1-7.3l.1 1.5l0 2.4l.1-9.8l.1 1.4l.1 5.9l0 5.6l.1-25.3l.1 15.3l.1 4.8l.1-3.7l0-1.4l.1 5.6l.1-8.7l.1 4.5l0 3.1l.1-10.8l.1 10.5l.1-11.7l.1 8.7l0 2.1l.1-10.1l.1 10.7l.1-5.9l0-6l.1 11.9l.1 1l.1-8.5l.1-1.8l0 18.9l.1-15.3l.1-4.7l.1 11.1l0-10.2l.1 9.2l.1 1.4l.1-1.5l.1-6.9l0 7.2l.1 .8l.1-3l.1-5.5l0 17.1l.1-19.5l.1-2.6l.1 16.8l0-5.6l.1-3.5l.1 2.5l.1-14.4l.1 14.2l0 3.6l.1-.7l.1-4.3l.1 6.3l0-1.1l.1-.3l.1-15.8l.1 8.6l.1 11l0-10.1l.1 18.9l.1-15.3l.1-4.5l0 2l.1-1.5l.1 2.5l.1 4.6l.1-2.2l0 .2l.1 6.6l.1-8.4l.1 6l0-10.2l.1-14.6l.1 1.3l.1-4.7l.1 24.6l0 .2l.1-7.1l.1 9.7l.1-9.6l0 7.5l.1-5.3l.1 4.5l.1-14.7l0 3.9l.1 2.5l.1 13.1l.1-16l.1 11.2l0 5.2l.1-9.8l.1-5.7l.1 16l0-13.9l.1 7.2l.1-.2l.1-4.8l.1 5.5l0 1.6l.1-11.7l.1 21.8l.1-21.2l0 14.9l.1-16.4l.1 15.9l.1-17.7l.1 20.7l0-24.7l.1 13.7l.1 2.3l.1 .6l0-9.6l.1 8.8l.1-5.6l.1 3.4l.1 7.4l0-20.1l.1 14.8l.1-3.3l.1 .3l0 1.8l.1-13.8l.1 11.1l.1 4.5l0-2.2l.1 2.4l.1 4.6l.1-14.8l.1 13.8l0-14.8l.1 8.7l.1-5.6l.1 6.4l0 1.6l.1-21.8l.1 22.2l.1 3l.1-8.4l0-7.9l.1 18.4l.1-4.3l.1-9.6l0-.6l.1 3l.1 6.6l.1-4.1l.1 5.3l0-7.1l.1 3.4l.1-2.1l.1 3.5l0-6.7l.1 5l.1 4.3l.1-15.2l.1 9.5l0 3.4l.1-.6l.1-12.9l.1 11.2l0-1.6l.1 6.5l.1-2.2l.1 1.2l0 1.3l.1 1.6l.1-4l.1 5.3l.1-11.7l0-1.2l.1 10.7l.1-7.8l.1 6.6l0-5.8l.1-.9l.1 12.6l.1 4l.1-16.7l0 0l.1 3.7l.1 2.6l.1 .8l0 11.1l.1-25l.1 22.3l.1-13.1l.1 2.6l0-3.2l.1 8.8l.1-2.1l.1-7.7l0 9.4l.1-6.7l.1 7.5l.1-8.1l.1-2.2l0 3.2l.1-3.7l.1 10.2l.1-3.8l0-.8l.1-12l.1 13l.1-2.7l0-8.6l.1 7.5l.1-5.1l.1 12.1l.1-12.8l0 7l.1-3.4l.1-1.3l.1 15.2l0-18.5l.1 10.1l.1-10.3l.1 9.7l.1-2.6l0 9.8l.1-2.3l.1-13.7l.1 12l0-6.1l.1 1.9l.1 5.7l.1-4.9l.1-.4l0-4.9l.1 6l.1 1l.1-12.8l0-.3l.1 9.7l.1 5.9l.1-8.2l.1 5.1l0-12.6l.1 10.3l.1 2.9l.1-1.5l0 3.6l.1-4.9l.1 6.5l.1-8.1l0-4.4l.1 2.4l.1 8.3l.1-7.5l.1 4.5l0 5.6l.1-7l.1-6.5l.1 4.7l0 3l.1 1.5l.1-2.9l.1-3.3l.1 2.1l0-7.4l.1 2.8l.1-1.5l.1 8.4l0-4.4l.1 2.7l.1-2.4l.1 .7l.1-18.2l0 26.2l.1-8.8l.1 4.8l.1-5.1l0 1.1l.1-9.8l.1 12.2l.1 2.4l.1-5.4l0 .3l.1 13.2l.1-25.9l.1 19.4l0-16.5l.1 2.7l.1-1.1l.1 8.6l0 5.5l.1-.6l.1-12.6l.1 11.3l.1-5.3l0 4.8l.1 .9l.1-9.7l.1 11.7l0-3.8l.1 .4l.1-2.4l.1 1.5l.1 5l0-3.4l.1-.5l.1-17.3l.1 10.1l0 6.1l.1-1.7l.1 2.5l.1-14l.1 13.6l0 4.2l.1-38.9l.1 37.6l.1-1.1l0 2.4l.1-8.2l.1 6.3l.1 .5l.1-11l0-3.7l.1 8.6l.1 8l.1-9.3l0 6.6l.1-5.1l.1 0l.1 8.5l0-12.9l.1 6.4l.1 .3l.1 5.5l.1-12.6l0 10.2l.1-4l.1 6.1l.1 1.3l0 0l.1 2.1l.1-6.7l.1-11.7l.1 1.8l0 12.4l.1-.6l.1-15.7l.1 6.2l0 5.5l.1 2l.1 .1l.1 10l.1-8.9l0-19.8l.1 4.6l.1 13.5l.1-7l0 1.4l.1 7l.1 1.9l.1-1.8l.1-4l0-8.2l.1 7.7l.1 1.6l.1 1.4l0-10.4l.1-3.5l.1 10.9l.1 2.8l0-3.3l.1-2l.1-4.5l.1 1.5l.1 10.9l0-3.2l.1 1.5l.1-6.6l.1 10.5l0 3.9l.1-10.3l.1 2.9l.1-.2l.1-1.6l0 4.1l.1-5.2l.1 6.7l.1 .2l0-10.1l.1 5.3l.1-9.6l.1 6.1l.1 5.3l0-.7l.1 2.9l.1-5.5l.1-3.7l0 3.7l.1-1.4l.1 6.5l.1-13.9l.1 4.8l0-3l.1 13.2l.1-5.1l.1 2.6l0-15.3l.1 12.6l.1-18.8l.1 14.8l0 5.8l.1-11.5l.1-4.2l.1 13.8l.1 1.9l0-2.5l.1 6.1l.1-.7l.1 5.7l0-8.6l.1 4.1l.1-7.8l.1-.8l.1-5.4l0 5.6l.1 2.8l.1-10.2l.1 12.3l0 7.9l.1-4.1l.1-4.9l.1-5.9l.1-3.3l0 12.4l.1-12.9l.1 5l.1-1.8l0 9.8l.1-4.2l.1 10l.1-11.8l.1 2.5l0-6.7l.1-3.1l.1 12.6l.1-11l0-1.3l.1 8.9l.1-15.2l.1 17.7l.1 3.4l0-7.4l.1-12.7l.1 9.2l.1 12.9l0-6.9l.1-11.1l.1 12.1l.1-2.6l0 4.7l.1-20.6l.1 2.4l.1 19.4l.1 3.1l0-13.7l.1 .9l.1 2.8l.1-.6l0 2.2l.1-8.1l.1 .4l.1-3l.1 2.8l0 9l.1-.6l.1-.7l.1-2.1l0 3.9l.1 1l.1-2.9l.1 1l.1-1.6l0-12.6l.1 2.7l.1 11.7l.1-3l0 2.1l.1 2.9l.1-8l.1 14.2l.1-11.6l0 2.8l.1 5.1l.1-9.7l.1-3.4l0 5.2l.1-1.2l.1 7.5l.1-7.5l0-7.6l.1 16.3l.1-23l.1 26.8l.1-15.7l0 8.7l.1-3.9l.1 1.3l.1-.2l0-6.8l.1 8.3l.1-2.6l.1-7l.1 8.8l0 10.4l.1-8.5l.1 .1l.1 2.1l0-8.9l.1 3.7l.1 4.6l.1-1.5l.1 4.8l0-4.9l.1-16.4l.1 23.3l.1-23.4l0 14.3l.1 .7l.1 1.6l.1 3.9l.1-10.6l0 5.7l.1 1.8l.1-3l.1-11.2l0 13l.1-1.3l.1-10.2l.1 14.9l0-11.2l.1-13.5l.1 19.2l.1 9l.1-15.5l0 8l.1-10.8l.1 5.9l.1 1.7l0 6.3l.1-13l.1 5.3l.1 0l.1-.2l0 0l.1 1.8l.1 1.6l.1 8.4l0-6.1l.1-1l.1-9.5l.1 .2l.1 12.8l0-2.9l.1 .4l.1-4.8l.1 .2l0-2.4l.1 7.2l.1-1.4l.1-17.9l.1 22.3l0-16.8l.1 5.3l.1-1.5l.1 6l0 .6l.1-5.3l.1 6.1l.1-.5l0 1.1l.1-4.2l.1 3.3l.1 1.1l.1-5.8l0 3l.1 8.1l.1-6.6l.1-10.2l0 7.1l.1-8.6l.1 20.4l.1-11.6l.1 13.2l0-14.8l.1 7.4l.1-2.2l.1-3.9l0 7.3l.1-1l.1-1.3l.1-7l.1-4.4l0 13.3l.1 1.1l.1-5.2l.1 6.8l0 .6l.1-10.5l.1 6l.1-13.9l.1 16.3l0-15.6l.1 2.1l.1 10.2l.1-2.9l0 16l.1-16.3l.1 1.2l.1 4.5l0-13.6l.1 21.5l.1-16.8l.1 4.5l.1-.9l0 8.8l.1-11.9l.1 6.8l.1-3.4l0-5.5l.1 10.9l.1 10.9l.1-17.6l.1 .8l0 2.6l.1 1.7l.1 1.9l.1-5.6l0-3.4l.1 6.2l.1-11.4l.1 10.3l.1-5.8l0 5.4l.1-.9l.1-7.2l.1 2.3l0-3.9l.1 .4l.1 7.7l.1-5.1l.1 1.7l0 .2l.1-2.5l.1 5.1l.1-.4l0-2.6l.1 8.6l.1-11l.1-1.1l0 18.4l.1-16.6l.1 9l.1 .4l.1-8.5l0 9.3l.1-6.2l.1 4.8l.1 3.4l0-20.2l.1 17.4l.1 2.8l.1-4.6l.1-15.6l0 22l.1-16.4l.1 11.7l.1-5.1l0 1.9l.1-7.9l.1 11.2l.1-18.3l.1 16.7l0 5.4l.1-8.8l.1-4.5l.1 1l0-2.2l.1 8.1l.1-12.1l.1 4.7l.1 11l0-2.7l.1 1.4l.1-2l.1-3.1l0 3.9l.1-1.4l.1-6.3l.1-.9l0-4.8l.1 27.7l.1-13.5l.1 .3l.1-.7l0 1.8l.1 .2l.1-10l.1-4.1l0 15.1l.1-11.1l.1 17.1l.1-15.6l.1-8.9l0 5.8l.1 10.9l.1 .4l.1-2.7l0-11l.1 6.7l.1 1.2l.1-2.2l.1 9.5l0 5.8l.1-8.6l.1-.4l.1-4.6l0 1.7l.1-27.1l.1 29.8l.1 .5l.1-13.4l0 10.2l.1-15.3l.1 .4l.1 8.9l0 .6l.1 13.7l.1-18l.1 8.4l0-3.1l.1-2.8l.1 6.2l.1 6.1l.1-2.3l0 2.6l.1-12.3l.1 7.1l.1-.6l0 3l.1-1.8l.1 5.6l.1-7.1l.1 6.7l0-7.8l.1 3.4l.1-4.7l.1-4.7l0 4.6l.1 2.3l.1-5.2l.1 9.1l.1-2.6l0-3.3l.1 10.6l.1-4.2l.1-20.2l0 15.1l.1 .3l.1-2.8l.1 5.2l.1 1.3l0-.7l.1-9.4l.1-4.8l.1 15.4l0-2.2l.1-4l.1 9.5l.1-6.7l0-7.3l.1-.5l.1-12.1l.1 22.1l.1-2l0-6.5l.1 4.2l.1-5.9l.1 8.1l0 9.2l.1-4.9l.1 4.7l.1-9.9l.1-8.4l0 5.5l.1 6.7l.1 8.6l.1-11l0 3.4l.1-.1l.1-3.4l.1-19.5l.1 22l0 1.4l.1 4l.1-14.4l.1 11.8l0 5.5l.1-7.9l.1-4.5l.1 8.9l.1-6.4l0 8.6l.1-17.8l.1 15.4l.1-6.1l0 4.8l.1-2.4l.1-5l.1 5.2l0-2.4l.1-9.2l.1-12.6l.1 15.1l.1 5.8l0-1.3l.1 8.4l.1-.9l.1 .1l0-9l.1 3.6l.1 1.3l.1-21.5l.1 19.7l0-6.1l.1 2.7l.1 3l.1-3.2l0 11.3l.1-8.5l.1-6.8l.1-5.3l.1 13.9l0-11.7l.1 4.6l.1 7.9l.1 6.5l0-10.6l.1 5.3l.1-11.6l.1 5.6l.1 10.5l0-5.3l.1-5.1l.1-6.7l.1 23.2l0-17.4l.1 10.7l.1-5.7l.1 3.3l0-11.4l.1 4.4l.1-11.1l.1 4.2l.1 12.8l0 8.3l.1-10.5l.1 1.5l.1-3.5l0 4.3l.1-.4l.1-8.6l.1 3.8l.1 5l0-6.3l.1 7.7l.1-4.9l.1-6.8l0 9.5l.1 4.7l.1-8.2l.1 3l.1-15.6l0 14.3l.1 2.5l.1 3.4l.1 5.3l0-7.4l.1-4.7l.1 5.3l.1-8.5l.1-3l0 1.7l.1 8l.1 .9l.1-10.1l0 9.2l.1-.1l.1-.3l.1-12.5l0 20.2l.1-18.6l.1 1.6l.1-5.6l.1 8.8l0-15.1l.1 13l.1 10l.1 2.9l0-7.7l.1-3.1l.1 1.2l.1-5.3l.1-.9l0 21.3l.1-12.9l.1 0l.1-4.3l0 8.4l.1-12.7l.1 8.1l.1-9.2l.1 12.7l0-2.4l.1 6.4l.1-1.9l.1-3.5l0 1.1l.1-4.9l.1-1l.1 3.2l.1-.1l0 6.2l.1-3.9l.1-1l.1 2.4l0-8.9l.1 1.4l.1 8.2l.1-2l.1-1.9l0-.8l.1-10.7l.1 12.3l.1 1.9l0-5.3l.1-2l.1-4.3l.1 14.1l0-4l.1-2.6l.1 .3l.1 9.4l.1-11l0-7.8l.1 6.1l.1 5.1l.1 4.9l0-.3l.1-5.2l.1 3.8l.1 0l.1 5.1l0-12l.1-2.8l.1 6.2l.1-4.5l0 3.4l.1-11.6l.1 12.8l.1-.4l.1 6.3l0-6.1l.1 1.7l.1 .4l.1-13.3l0 5.7l.1-2.1l.1 5.3l.1 7l.1-5.2l0-7.2l.1 11.9l.1-3.7l.1-.8l0-7.4l.1 7.1l.1-4.9l.1 .6l0 5.8l.1-2.6l.1 7.9l.1-4.4l.1-6.2l0 1l.1 .3l.1 2.2l.1-5.7l0 1.4l.1 4l.1 9l.1-34.6l.1 7l0 23.2l.1-16l.1 12.9l.1-10l0 13.2l.1-4.4l.1 2.3l.1-7.7l.1-1.4l0 5.9l.1 12.8l.1-12.5l.1 6.3l0-17.9l.1 14.7l.1 9l.1-10.9l.1 6.4l0-10.4l.1 10.1l.1-9.7l.1 11.8l0-17.4l.1 8.8l.1-5.4l.1 6.4l0-17.8l.1 17.8l.1-5.8l.1 5.2l.1-9.4l0 16.4l.1 1l.1-12.2l.1 7.4l0 1.8l.1-8.7l.1 3.4l.1 13.8l.1-14.5l0 3.4l.1 3.2l.1-11.1l.1 1.2l0-6.1l.1 12.7l.1 2.5l.1-26.5l.1 15.3l0 1.1l.1 9.9l.1-2.6l.1-7.8l0 22.2l.1-9.6l.1-8.8l.1 12.4l.1-15.4l0 6.1l.1 8.6l.1-9.6l.1-.2l0 .7l.1-4.5l.1 12.8l.1-6.2l0-5.9l.1 1.8l.1 .2l.1-22.6l.1 25.9l0 .8l.1-7.2l.1 5.5l.1-7.7l0 7.5l.1-14.4l.1 16.8l.1-2.1l.1-7.6l0 5.8l.1-6.2l.1 1.2l.1-1.1l0 13.2l.1-13.4l.1 6l.1-1.8l.1 6.7l0-8.2l.1-2.5l.1 3.3l.1-1.1l0 2.5l.1 2.3l.1-4.8l.1 4.6l.1-.3l0-4.1l.1-4l.1-6.4l.1 5.3l0 7.8l.1 4.5l.1-6.4l.1 7.9l0 0l.1 5.3l.1-19.9l.1 .7l.1 14.4l0-6.8l.1-1.9l.1-9.4l.1 .9l0 15.9l.1-7.2l.1 10.7l.1-7.6l.1-1l0 1.9l.1 4.8l.1-4.5l.1-19.7l0 21.1l.1-3.3l.1-7.1l.1 .9l.1 8.2l0-13.4l.1 .2l.1 9.6l.1-.8l0 2.9l.1-4.7l.1 1.8l.1-6.2l.1 17.6l0-16.3l.1 7.9l.1-12.2l.1 2.6l0 9.7l.1-.8l.1 2.5l.1 2.9l0-4.3l.1-7.1l.1 7.4l.1 5.9l.1-7.1l0 5.8l.1-6.2l.1-4.5l.1-2.2l0-1.4l.1 12.7l.1 10.2l.1-14.2l.1 1.2l0-6.8l.1 .6l.1 6.5l.1-2l0-6l.1 9.8l.1 8.5l.1-14.3l.1 1.4l0 3.8l.1-12.2l.1 10.2l.1 2.9l0-5.3l.1-12.1l.1 19.8l.1-12.3l.1 13.3l0-12.1l.1 7.6l.1-.3l.1-7.2l0-16.1l.1 30.9l.1-8.5l.1 2.9l0-12.8l.1 8.1l.1 5.2l.1-11l.1 1.6l0 5.4l.1-6.7l.1 3.5l.1-4.6l0 13.1l.1-10.6l.1-2.4l.1 11.6l.1-35l0 18.3l.1 10.1l.1 4.8l.1-1.6l0-1.2l.1-3.5l.1 10.6l.1-1l.1-16.1l0 17.2l.1-23.9l.1 17.4l.1 6.9l0-3l.1-17.8l.1 11.4l.1 7.3l.1-15.2l0 5.8l.1 7l.1 3l.1 1.8l0-8.3l.1-3.6l.1-8.1l.1-.3l0 4.6l.1 15.4l.1-4.8l.1-7l.1 5.3l0-2.3l.1 3.2l.1-2.4l.1-7.6l0 3.8l.1 11.6l.1-5.3l.1 4l.1 2.3l0-16.2l.1 7.5l.1-20.9l.1 15.7l0 1.2l.1 6.6l.1 1l.1-9.7l.1 8.7l0-15.2l.1 4.8l.1 .1l.1 5.8l0 6.4l.1-14.2l.1 12.4l.1-3.2l.1-6l0 8.1l.1 .4l.1 5l.1-15.6l0-6.2l.1 18.6l.1-13.4l.1-7.4l0 1.3l.1 7l.1 11.5l.1 4.5l.1-4.4l0-7.8l.1-7.6l.1 .7l.1 11.3l0-4.1l.1 5.9l.1 7.4l.1-6.2l.1-12.1l0 2.1l.1 5l.1 .7l.1-19.7l0 16.4l.1 5.6l.1 6.2l.1-4.4l.1-6.7l0 6.2l.1-6.9l.1 6.7l.1-27.3l0 26.9l.1-9.6l.1 11.3l.1-6.6l.1-4.4l0 5l.1 11.2l.1-21l.1 6.3l0 10.4l.1-2l.1-7.7l.1 9.4l0-9.2l.1 12.2l.1-8.1l.1-5.3l.1 8.8l0-3.6l.1-1.8l.1-8.7l.1 2.2l0 7.6l.1-.3l.1 4.4l.1 .1l.1 .4l0 .6l.1-9.6l.1 8.1l.1 3l0-.2l.1-3.5l.1-4l.1 6.5l.1 2.6l0-7l.1-5.9l.1 13l.1-3.3l0 8.5l.1-31.6l.1 26.6l.1 1l.1-8.6l0 3.7l.1-7.7l.1 10.3l.1-5.3l0-.7l.1-2.5l.1-11.4l.1 15.6l0 4.2l.1-7.8l.1 7l.1-10.7l.1 5l0 1.2l.1 9.2l.1-.2l.1-5.1l0-2.7l.1 11.2l.1-8.9l.1-4.1l.1 4.7l0-10.2l.1 5.2l.1-10.5l.1 15.8l0-6.9l.1 19.3l.1-11.7l.1-11.4l.1 9.4l0 .6l.1 4.1l.1-20l.1 3.6l0 9.7l.1-2.7l.1 2.6l.1 7.5l.1-10l0 5.3l.1 1.2l.1-12.2l.1 8l0 5.9l.1-9.7l.1 4.2l.1-2.7l0 3.2l.1-3l.1 .2l.1 7l.1-22.6l0 15.8l.1 15.4l.1-21.1l.1 15.4l0-10.7l.1-9.4l.1 13.9l.1-1l.1-9.3l0 4.2l.1 .5l.1 4.9l.1-1.3l0 11.2l.1-8.6l.1-1.4l.1-5.3l.1 .9l0 10.8l.1-3.2l.1 8.1l.1-11l0-12.6l.1 10.6l.1 5.2l.1-4.8l.1 1.8l0 5.9l.1-1.8l.1-3.9l.1-6.9l0 8.8l.1 .5l.1 4l.1-7.1l.1 5.9l0-19.9l.1 13.3l.1 19.4l.1-29.1l0 8.4l.1 2.2l.1-1.3l.1 4l0 2.1l.1-1.1l.1-3.1l.1-3.5l.1-12.7l0 12.8l.1-3.3l.1-1.4l.1 11.3l0 1.3l.1-.7l.1-16.6l.1 19.1l.1-11.4l0 8.5l.1-26l.1 28.7l.1-.4l0-4.3l.1 3.8l.1-11.7l.1-1.5l.1-.3l0-10.1l.1 22.3l.1-6.2l.1 3.1l0 1.6l.1-6.2l.1-15.6l.1 23l.1-23.4l0 16.1l.1 4.7l.1 4.1l.1-13l0 5.4l.1 1.9l.1 2.2l.1-2.3l0 1.2l.1-2.9l.1 11.5l.1-12.3l.1-5.8l0 1.5l.1 13.4l.1-8.1l.1-1.4l0-6.5l.1 1.9l.1-1.1l.1 8.6l.1-5.8l0 5.6l.1 1l.1 6.8l.1-10.8l0 3.5l.1 7.3l.1-18.5l.1 12.2l.1-5l0 .4l.1 3.5l.1-2.5l.1-5.4l0 10.9l.1 3.3l.1-15.1l.1 3.9l.1 7.5l0-11.6l.1 14.6l.1-7.5l.1-1.8l0 2.4l.1-3.3l.1 6l.1 6.3l0-5.9l.1-7.2l.1 3.8l.1 .6l.1 1.5l0-10l.1 11l.1-4.8l.1-.1l0 7.2l.1-11.2l.1 2.8l.1-1l.1 11.8l0-16.2l.1 10.8l.1-1.9l.1-3.2l0-3.7l.1 9.6l.1-5.2l.1 2.2l.1 .4l0-.1l.1 5.2l.1-5l.1-9l0 14.2l.1 3.4l.1-19.8l.1 18.4l.1-5.6l0 1.4l.1-4.8l.1 3.6l.1-5.3l0 5.9l.1 3.6l.1-26.5l.1 19.6l0-2.9l.1 10.5l.1-3.4l.1-.9l.1-9.9l0 11.5l.1-7.8l.1 5.2l.1 1.7l0-8.7l.1 3.1l.1 7.8l.1-10.4l.1 11.8l0-10.8l.1 4.2l.1-19.3l.1 15l0-13.9l.1 13.4l.1 6.4l.1-7.5l.1 13.2l0-1l.1-6.2l.1-12.6l.1 5l0 14.4l.1 4l.1-13.5l.1 10.4l.1-2l0-3l.1 2.2l.1-.9l.1-3.2l0-8.4l.1 10.4l.1-3.5l.1-3l0-.4l.1 4.2l.1 3.2l.1-3.3l.1 7.4l0-7.3l.1-9.7l.1 4.9l.1 20.6l0-20.3l.1-.1l.1 5.9l.1-6.8l.1 .2l0 5.6l.1 .6l.1 5.1l.1-14.2l0 19.6l.1-14.7l.1 4.7l.1-2.3l.1 2.6l0-1.9l.1 4.3l.1 .3l.1-17.9l0 14.8l.1-12.2l.1 4.7l.1 4.2l.1-.8l0 2.4l.1-7.3l.1 7.7l.1 1.4l0-6.8l.1 4.8l.1-3.9l.1 7.1l0-2.9l.1-7.4l.1 0l.1 13.1l.1-5.4l0 5.3l.1-11.7l.1 10.8l.1 5l0-3.6l.1 .2l.1-26.4l.1 22.8l.1-8.3l0 9l.1-6.5l.1-6.1l.1 2.1l0-3.2l.1 3.1l.1 8.1l.1-4.8l.1 2.6l0 3.6l.1-20l.1 22.6l.1 1.8l0-4.3l.1-10.8l.1 10.2l.1-4l.1 5.4l0-12.3l.1 6.3l.1 1.8l.1-10.3l0 15l.1-15.4l.1 4.9l.1 13l0-5.7l.1-4.6l.1 9.4l.1-1.6l.1-15.1l0-13l.1 11.3l.1 8.2l.1 3.5l0 6.1l.1-11.1l.1 8.5l.1-3.1l.1-.6l0-5.4l.1 2.3l.1 15.9l.1-8.7l0-10.4l.1-2.6l.1 4l.1-1.7l.1 13.4l0-5.6l.1-1.1l.1-6.2l.1 6.1l0 3.6l.1-9.9l.1 6.7l.1-4.1l.1 13l0-9.4l.1-3.1l.1-7.3l.1 10.6l0 9.1l.1-1.3l.1-15.2l.1 .6l0 8.7l.1 3.1l.1-12.2l.1 10.8l.1-2.5l0 7.6l.1 6.3l.1-15.7l.1-13.1l0 16.4l.1 5.1l.1-17l.1 15.5l.1 6.3l0-8.8l.1-5.1l.1 6.5l.1-4.1l0-.1l.1-.3l.1-11.3l.1 10.4l.1-2.7l0-6.1l.1 11.8l.1-8.3l.1 9.6l0-3.5l.1 .9l.1-7.9l.1 .8l.1 10.1l0 1.8l.1 .9l.1-1l.1-108.4l0 103.6l.1 3.9l.1-19l.1 5.6l0-7.9l.1 13.3l.1-1.5l.1 6.3l.1-10l0 4.7l.1 4.5l.1-3.5l.1-12.3l0 2.6l.1 12.4l.1 11.1l.1 5.4l.1-15.9l0 0l.1 0l.1-3.2l.1-1l0 7.9l.1-.9l.1-15.6l.1-6.5l.1 17.4l0 0l.1-5.3l.1 3.7l.1 2.1l0 .6l.1-11.5l.1 15.3l.1-7.8l.1 10.3l0-10.5l.1 1.6l.1 3.1l.1-3.4l0 11.9l.1-4.9l.1-1.7l.1-3.3l0 1l.1 3.7l.1-4.5l.1-2.1l.1-18.7l0 19.9l.1-1.2l.1 .3l.1 4.2l0 .6l.1-8.3l.1 7.4l.1 1.2l.1-2.8l0-12.8l.1 19.1l.1-4.1l.1-4.5l0-2.3l.1-9l.1-3.2l.1 20.2l.1-9.4l0-10.1l.1 6.9l.1 13.5l.1-1.2l0-4.2l.1-5.6l.1 11.7l.1-11.7l.1 10.1l0-8.6l.1-.7l.1 2.1l.1-4l0 7.4l.1-1.5l.1-8.7l.1 13.6l0 .2l.1 4.4l.1-21.8l.1 18.2l.1-11.2l0 6.2l.1-2.5l.1 5.7l.1-1.5l0-8.1l.1 6.3l.1 6.3l.1-4.2l.1 6.7l0-11.5l.1-2.7l.1 4.9l.1-10.1l0-.2l.1 13.1l.1-8.8l.1 9.4l.1-2.9l0 2.8l.1-2.2l.1 7.4l.1-5.6l0 6l.1-19.1l.1 14.9l.1-2.5l.1 8.1l0-4.7l.1-7.6l.1 15.5l.1-14.2l0 5.2l.1-20.7l.1 12.6l.1-1.6l.1 4.3l0-5.2l.1 13.8l.1-20.1l.1 7.7l0 14.8l.1-11.7l.1 2.4l.1-11.3l0 13.4l.1-2.4l.1-2.8l.1 4.5l.1-15.2l0 10.5l.1 7.3l.1-5.6l.1 3.1l0-15.2l.1 19.6l.1 4l.1-28.1l.1 18.1l0-9.1l.1 8.8l.1 3.3l.1-7.3l0 3.4l.1 4.6l.1 6.6l.1-12.7l.1-8.5l0 1.5l.1 17.2l.1-18.9l.1 18.9l0-4.8l.1-3.9l.1 .1l.1 5.4l.1-2.7l0-3.2l.1 0l.1-4.3l.1-1.7l0 5.8l.1 5.5l.1-10l.1 5.5l0 4.8l.1 9l.1-15.1l.1-3.6l.1-3.2l0 13.8l.1-5.1l.1 9.5l.1-11.2l0-.5l.1 6.9l.1-8.9l.1-3.7l.1-.5l0 13.3l.1-5.7l.1-7.8l.1 9.4l0 1.3l.1-.8l.1-8.4l.1 8.1l.1 8.9l0-15.6l.1-20.3l.1 21.8l.1-7.6l0 8.6l.1 4l.1 4.3l.1-9.8l.1 3.8l0-6.9l.1 5.8l.1-3.9l.1 16.6l0-14.1l.1-2.2l.1 2.4l.1-8.4l0 11.3l.1-5.5l.1 15.9l.1-16.5l.1 .1l0 10.9l.1 7.5l.1-7l.1-5.3l0-13.6l.1 20.1l.1-9.9l.1-1.3l.1 .5l0 8.3l.1-9.1l.1 13l.1 2.9l0-10.2l.1 4.4l.1 8.1l.1-23.5l.1 4.5l0 1.3l.1 9.8l.1-1l.1 4.9l0-9.1l.1 1.9l.1-1.8l.1-12l.1 15.1l0-2l.1 7.4l.1-21.7l.1 3.2l0 23l.1-.3l.1-27.2l.1-2.5l0 11.2l.1-6.3l.1 19.4l.1-8.4l.1-5.7l0 7.6l.1 4.3l.1-4.5l.1 4.1l0-21.9l.1 19.3l.1 1.8l.1 6.2l.1-22.9l0 13.6l.1-5.7l.1 5.2l.1-2.8l0 1.7l.1 4.2l.1-7.6l.1 8.7l.1-7.1l0-.7l.1-3.3l.1 11.5l.1-26.9l0 19.9l.1 8.4l.1 3l.1-10.4l.1 1.4l0-5.6l.1 14.2l.1-8.8l.1-3.7l0-4.1l.1 17.5l.1-6.1l.1 1l0-3.9l.1 1.2l.1-2.9l.1 6.1l.1-8.4l0 12.3l.1-8.7l.1-19.1l.1 24.4l0-21l.1 4.6l.1 13.8l.1-6.8l.1-.9l0 10.1l.1 7l.1-10.5l.1 5.9l0-12.2l.1 14.1l.1-28.2l.1-3.4l.1 26.4l0 7.4l.1-14.4l.1 5.8l.1-2.6l0 8.5l.1-.5l.1-12.9l.1 12.1l.1 4l0-15.9l.1-.7l.1 6.9l.1 3.8l0-20l.1 16.5l.1-7.8l.1 13.3l0 .2l.1-9.9l.1-11.3l.1 18.7l.1-2.1l0-1l.1-14.1l.1 11.5l.1-3.2l0-3.9l.1 1.3l.1-8.7l.1 22.1l.1-10.1l0-.6l.1 10.1l.1-8.4l.1-.9l0 4.6l.1 1.6l.1-14.6l.1 8.3l.1 2.5l0-2.5l.1 5.3l.1-5.2l.1-2l0 9l.1-4.6l.1-.1l.1-1.8l.1 4.1l0-2.8l.1 3.2l.1 2.1l.1-1.8l0 6l.1-14.2l.1 2.1l.1 7.9l0 .3l.1-.3l.1 1.9l.1-.5l.1-10.7l0 6.3l.1-9l.1 2.8l.1 .7l0 11.1l.1-23.2l.1 16.6l.1 12.3l.1-11.7l0 .7l.1-7l.1 10.4l.1-7.1l0 3.8l.1-12.6l.1 12.1l.1-6.1l.1-4.2l0 13.1l.1-7.3l.1 2l.1-13.6l0 9l.1 9.4l.1-21l.1 20l.1-3.4l0-1.3l.1-3.6l.1 9l.1-2.7l0 1l.1-4.2l.1 6.6l.1-2.1l0 5.5l.1-23.7l.1 11l.1-6.1l.1 14.9l0 5.7l.1-.6l.1-2.2l.1-11.6l0 6.9l.1 .9l.1 3.9l.1-22.2l.1 22.9l0-6.7l.1 .5l.1-1.1l.1 .1l0-4l.1-21.3l.1 14.8l.1 6.8l.1 8.7l0-19.5l.1-.6l.1 17.6l.1-8.3l0 18.4l.1-7.8l.1-15.5l.1 19.7l.1-15.6l0-4.2l.1 18.2l.1-8.1l.1-14l0-9.3l.1 21.7l.1-12.8l.1 18.7l0-.8l.1-8.2l.1-2.4l.1 4.4l.1-8.2l0 2.4l.1-4.9l.1 5.1l.1 5.9l0-.9l.1 1.8l.1-2.1l.1-8.4l.1 1.1l0-3.8l.1 4.4l.1 .2l.1 13.4l0-3.2l.1 .9l.1 2l.1 10l.1-20.9l0 12.8l.1-1.6l.1-.1l.1-19.3l0 10.8l.1-9.9l.1 13.4l.1-6.7l.1-.1l0 7.7l.1-2.1l.1 11.9l.1-3.9l0-7.4l.1 15.1l.1-16.2l.1 .6l0 6.1l.1-10.9l.1 2.4l.1-5.5l.1 7.8l0-3.3l.1 2.3l.1 10.9l.1-8.2l0 .9l.1-1.7l.1 .5l.1-6.2l.1 6.9l0 4.6l.1-9.3l.1 17.1l.1-3.8l0-18.7l.1 19l.1-11.2l.1 8.7l.1-11.6l0 2.3l.1-5.7l.1 4.1l.1-5.3l0 15.5l.1-19.1l.1 16.5l.1-9.7l.1 7.7l0-10.7l.1 5.9l.1 1.8l.1-3.1l0 4.8l.1-.3l.1-12.2l.1 7.8l0 3.6l.1 3.7l.1-12.8l.1 15.2l.1-4.9l0 6.6l.1-2.7l.1-3.2l.1-3.9l0 3.2l.1-8.1l.1 18.7l.1-29.1l.1 13.6l0 .6l.1 9.3l.1-13.6l.1 13.1l0-4.8l.1-1.9l.1-2.7l.1 .3l.1 9.6l0 1.9l.1-19.1l.1 5.2l.1 1.8l0 .8l.1-.5l.1 15.3l.1-11.6l.1-7.8l0 7.1l.1-5.2l.1 2.5l.1 6.5l0 2.2l.1-4.6l.1-9.2l.1 18.2l0-17.3l.1 19.1l.1-28.9l.1 18.4l.1-2.5l0 4.7l.1-11.3l.1 12.9l.1-17.2l0-8.2l.1 20l.1 6l.1-12.4l.1 11.7l0-2.9l.1-4l.1-7.2l.1 16.1l0-12.9l.1 1.9l.1 4.6l.1-6.4l.1 4.9l0 3.4l.1 9.4l.1 2.8l.1-15.2l0-5.1l.1 12.2l.1-4.5l.1-16l.1 6.9l0 17.8l.1-15.8l.1 7.1l.1-5.8l0 3.3l.1 7l.1-24.6l.1 33.8l.1-8.5l0-16l.1 10.3l.1-3l.1 8.7l0-12.1l.1 11l.1 2.2l.1 0l0-15.8l.1 9.5l.1-5.8l.1 2.4l.1 4.3l0 5.5l.1-9l.1-2.6l.1 11.4l0-2.5l.1 1.3l.1 6.9l.1-14.6l.1-2.3l0 5.1l.1-2.3l.1 .5l.1-8.5l0 3.5l.1-1.3l.1 12.4l.1-8.7l.1 3.8l0 6.5l.1-10.1l.1 13.6l.1-3.4l0-15.3l.1 3.6l.1 15.9l.1-13.8l.1 2l0 3l.1 4.6l.1-4.4l.1-7.7l0-10.3l.1 9.1l.1 12.1l.1-10.7l0-13l.1 19.5l.1 6.1l.1-16.2l.1 12.9l0-4.6l.1-2.3l.1 4.1l.1-1.4l0-5l.1-.5l.1 3l.1-3.3l.1 3.2l0 6.9l.1-20.2l.1 13.1l.1-1.4l0-4.6l.1 9.3l.1 7.5l.1 2.1l.1-7.3l0-11.4l.1 5.4l.1-1.4l.1 7.9l0 5.3l.1-6.7l.1 9l.1-5.2l.1-9.4l0 8.4l.1 4.4l.1-12.4l.1 .3l0 2.6l.1 11.5l.1-15.6l.1 7.4l0-6.1l.1-4.4l.1 5l.1-6.8l.1 4.8l0 8.5l.1 .6l.1-20.7l.1-2.1l0 20.6l.1-4.3l.1-1.5l.1-2.6l.1 15.3l0-15.7l.1 4.7l.1-.4l.1 4.2l0-15l.1 14.6l.1-18.7l.1 2.1l.1 17.7l0-11.8l.1-.3l.1 10.2l.1 10.7l0-10.8l.1-4.8l.1-18.2l.1 9.4l.1 3.4l0 5.6l.1-5.4l.1 13.6l.1-.1l0 2.4l.1-.7l.1-6.3l.1-19.3l0 26.7l.1-10.7l.1 2.1l.1 11.7l.1-10.3l0 11.5l.1-21.7l.1 2.3l.1 12.4l0-2.3l.1 .9l.1 1l.1-10.6l.1 13l0-4.4l.1 4.7l.1-16.6l.1 8.3l0-7.6l.1 14.2l.1 9.9l.1-19.7l.1 1.7l0-4.3l.1 7.3l.1-5.1l.1-2l0 10.9l.1 9.1l.1-17.8l.1 3.7l.1 4.5l0 4.1l.1-22.3l.1 13.9l.1 .2l0 6.7l.1-.8l.1-6.5l.1 9.3l0-17.4l.1 13l.1-13.7l.1 9.4l.1 6.2l0-22.8l.1 18l.1 3.3l.1-11.1l0 4.4l.1 2.9l.1 11.5l.1-1l.1-17.4l0 10.8l.1-7.4l.1 9.3l.1-7.5l0 12.5l.1-8.8l.1-13.8l.1 10.6l.1 4.3l0-2l.1-.7l.1-16.5l.1 15.3l0-2.3l.1 6.9l.1-7.7l.1 .8l.1 8.1l0 5.4l.1-8.2l.1-11.1l.1 13.4l0-1.3l.1-12.1l.1 10.3l.1 10l0-24.9l.1 13.4l.1 4.3l.1-1.7l.1-5.9l0 7.5l.1-18.9l.1 11.9l.1-1.4l0 2.6l.1 6l.1-5.2l.1-13.8l.1 18.6l0-2.4l.1-3.7l.1 7.6l.1-11.4l0 13.7l.1-10.2l.1 9l.1-3.6l.1-.1l0-25.8l.1 27.4l.1-11.9l.1 4.9l0 7.9l.1-11.7l.1 7.2l.1 9.4l.1 .6l0-11.3l.1-.1l.1 10.7l.1-10l0 3l.1-6l.1 8.2l.1-5.1l0 1.6l.1-5.2l.1-4l.1-9.5l.1 26.7l0-10.7l.1 7.2l.1 1.2l.1 3.6l0-6.2l.1-3.9l.1 2.2l.1-3.4l.1 .3l0-1.9l.1 3l.1-1.9l.1 1l0 4.4l.1 4.8l.1 .8l.1-11.5l.1 8.5l0-10.7l.1 8.4l.1 1.4l.1-2.5l0-2.7l.1-12.9l.1 16.6l.1 .4l.1-5.7l0-4.6l.1 8l.1 2.3l.1-6.9l0 1.5l.1-1l.1 10.9l.1-12.7l0 4.2l.1-7.4l.1 9.6l.1-4.7l.1 4.7l0-19.8l.1 26.5l.1-3.1l.1-.8l0 12.7l.1-13.9l.1-16.2l.1 7.5l.1-2.4l0 8.8l.1 2.8l.1-2.6l.1 6.3l0 2l.1-17.7l.1 8.4l.1-10.9l.1 18.6l0-8.6l.1 9.3l.1-21.1l.1 11.7l0 6.3l.1-.2l.1-15.2l.1 15.8l.1-4.3l0-1.6l.1 5.4l.1-17l.1-3.5l0 18.4l.1-4.8l.1-4l.1 .8l0-.8l.1 11.8l.1-6.8l.1 8.4l.1-7.3l0-4.5l.1-2.5l.1 18.2l.1-13.9l0 10l.1-11.7l.1 .7l.1 1.4l.1-5.6l0 5l.1 6.5l.1-2.3l.1-4.8l0 11.8l.1-7.5l.1-4.4l.1 8.4l.1-15.2l0 1l.1 4.5l.1 4.6l.1 1.7l0-6.8l.1 1l.1-3.5l.1 11.1l.1-8.7l0-4l.1 13.8l.1-6.3l.1 .8l0 1.7l.1-8.3l.1 8.1l.1-6.5l0 2.4l.1-2.7l.1 7.3l.1 2.2l.1-8.6l0 4.4l.1-5.7l.1 9.1l.1 .3l0-8.5l.1 4l.1 2.1l.1-5.9l.1 6.2l0-2.6l.1-2.5l.1 9.5l.1-12.6l0 6.8l.1 1.9l.1-1.5l.1 3.4l.1 6l0-10.3l.1 3.3l.1-15.7l.1 1.7l0 14.2l.1-5.4l.1-5.8l.1 5.5l.1 3.6l0 1.1l.1 3.3l.1-11.7l.1 1.8l0 3.2l.1 1.2l.1-13.8l.1 10.6l0-7l.1 16.7l.1-1.6l.1-.2l.1-10l0 7.6l.1-12.3l.1 9.1l.1-6.2l0 9.3l.1-8.6l.1 8.4l.1-1.7l.1 5l0 4.3l.1-3.6l.1-8.1l.1 .1l0 10.9l.1-2.8l.1 1.5l.1-11.8l.1 9.1l0 .6l.1-8.9l.1 7l.1-7.3l0-1.7l.1 8.9l.1 5.8l.1-7.4l.1-19.6l0 23.5l.1-15.9l.1 14l.1 1.4l0-16.2l.1 13.7l.1 9l.1-4.3l0-2.6l.1-1.3l.1-13l.1 2.9l.1 6.6l0-3.1l.1 6.1l.1 6.2l.1-9.4l0 1.8l.1-8.1l.1 4.3l.1-6.3l.1 11.2l0-.3l.1 .5l.1 1.9l.1-12.6l0 6.7l.1 7.6l.1-2.8l.1-18.7l.1-3.9l0 8.4l.1 9.6l.1-11.5l.1 12.8l0 5.9l.1-6.9l.1 6.4l.1-4.2l.1-20.2l0 14.8l.1 2.3l.1-4.3l.1 8.7l0-4.7l.1 7.2l.1 2.3l.1-4.6l.1 3.6l0 5.9l.1-9.2l.1 2.4l.1-.6l0-15.8l.1 6.4l.1-2.4l.1 8.4l0 4l.1-.6l.1-19l.1 28.8l.1-11.6l0-4.5l.1 9.8l.1-15.6l.1 11.8l0-4.4l.1-12l.1 5.6l.1 7.7l.1-.7l0-11.9l.1-4.2l.1 11.5l.1 13.5l0-6.9l.1-10.6l.1 11.9l.1-2.3l.1 3.3l0-2.6l.1-9.7l.1 1.9l.1 10.8l0-15.5l.1 17.8l.1-14.9l.1 .4l.1 13.6l0 2.7l.1-17.3l.1 2.4l.1 3.2l0 6.2l.1-7.3l.1 11.2l.1-14.2l0-13.2l.1 20.3l.1-9l.1 12.6l.1-7.2l0 3.7l.1-4.6l.1 5.2l.1 7.5l0-17.3l.1 14.1l.1-14.5l.1 14.9l.1-12.4l0 3.2l.1 5.8l.1-10l.1 5l0-10.8l.1 7.7l.1-4.4l.1 20.7l.1-21.9l0 12.2l.1 0l.1 5.7l.1-3l0-2.3l.1-2.6l.1 .1l.1 3.1l.1-3.7l0-5.1l.1 9.4l.1 .8l.1-11.7l0 4.8l.1 8.2l.1-10.1l.1 1.9l0-15.3l.1 11.9l.1 .5l.1 6.5l.1 4.6l0-4.5l.1 1.1l.1 .2l.1-10.5l0 14l.1-19.2l.1 19.1l.1 2.6l.1-14.7l0 8.5l.1 2.4l.1-6.9l.1 5.8l0-3.9l.1 3.4l.1-3.5l.1 5.7l.1-9.5l0 7.6l.1-3.3l.1 12.9l.1-15.5l0 6.8l.1-1.8l.1 .7l.1 1.2l.1 1.9l0-11.8l.1 9.5l.1-1.3l.1 .7l0 1.9l.1-11.6l.1 11.5l.1-6.1l0 6.6l.1 3.8l.1 .1l.1-11.4l.1 14.3l0-1.9l.1-5.4l.1-7.3l.1 7.7l0-11.3l.1 8.7l.1 .3l.1-12.9l.1 8.1l0 5.8l.1 .6l.1-8.8l.1-4.3l0 11.8l.1-.7l.1-8.6l.1 11.2l.1-6.6l0 1.2l.1 2.8l.1 3.6l.1 7.8l0-11.3l.1 5.7l.1-8.5l.1 4.7l.1-.6l0-13l.1 6l.1 9.7l.1-11.1l0 8.1l.1 5.1l.1-8l.1 .9l0-6.9l.1-.3l.1-.6l.1 11.3l.1-3.1l0 9l.1-11.6l.1 3.5l.1 10.3l0-15.8l.1 1.1l.1 11.3l.1 3.8l.1-9.9l0-3.5l.1 2.3l.1-11.1l.1-8.2l0 18l.1 1.8l.1 1.2l.1-18.7l.1 16.1l0-4.6l.1-1.6l.1-1l.1 4.3l0-11.6l.1 10.6l.1 2.6l.1 7.1l.1-3.8l0-1.6l.1-7.9l.1 10.5l.1-4.6l0 2.8l.1 13.3l.1-16.3l.1-10.9l0 20.5l.1-15.9l.1 14.8l.1-4.3l.1-1.7l0-7.4l.1 6.9l.1-.5l.1-6.3l0-.5l.1 7.9l.1-4.4l.1-6.9l.1 6.8l0 8.9l.1-5.8l.1 8.6l.1-26.1l0 16.5l.1 10l.1-6l.1-5.6l.1-2l0 6.1l.1 1.3l.1 2.7l.1-11.4l0-2.7l.1 6.8l.1 1l.1 .3l.1 4l0-.8l.1-6l.1 2.1l.1-1.3l0 6.9l.1-9.4l.1 11.2l.1-14.6l0 10.2l.1-3.3l.1 5.7l.1-2.9l.1 3.2l0-4.8l.1 10.9l.1-18.1l.1 6.9l0-3.6l.1 5.7l.1-4.3l.1 7.1l.1 1.1l0-2.3l.1 5.5l.1-13.5l.1 7.7l0-.7l.1 3l.1-8l.1-4l.1 9.5l0-9.7l.1 5.6l.1 .8l.1 10.5l0-4.3l.1-13.3l.1 .8l.1-10.3l.1 21.2l0-9l.1 13.7l.1-3.8l.1 1.7l0-1.7l.1-6.6l.1-8.7l.1 9.5l0 8.3l.1-17.1l.1 7.6l.1 10.9l.1-19l0 10.3l.1-5.4l.1 9.1l.1-.5l0-5.9l.1 11.6l.1-9l.1-6.2l.1 3.4l0 3.8l.1 1.8l.1 0l.1-13.8l0 9.3l.1 .8l.1 6.2l.1-7.8l.1-2.7l0 18.1l.1-25.5l.1 7l.1 7.3l0 8.8l.1-30.5l.1 15.4l.1 7.9l.1 5.2l0-15.7l.1 18l.1-10.1l.1 1.8l0 5l.1-3l.1-.1l.1-10.4l0 3.7l.1-5.4l.1 13.9l.1-15.4l.1 7.3l0-6.8l.1 11.2l.1-5.4l.1 8.8l0-13.6l.1 7.7l.1 4l.1-2.3l.1-1.3l0 11l.1-11l.1 6.7l.1-5.3l0-1.8l.1-18.7l.1 16.9l.1 10.3l.1-11.3l0 10.4l.1-.7l.1-2l.1-10.6l0-6.1l.1 8l.1 12.2l.1-8.3l.1-5l0 20.3l.1-12.2l.1-23.4l.1 28.9l0-1.9l.1 .9l.1-17.5l.1 3.7l0 1.4l.1-3.1l.1 12.1l.1 7.4l.1-14.9l0 13l.1-13.7l.1 .8l.1 2.6l0-9l.1 7.1l.1 10l.1-3l.1-9.2l0 8.6l.1-8.2l.1 6.3l.1-3.8l0 7.3l.1-4.2l.1 7.7l.1-4.9l.1-7.8l0 7.6l.1 1.7l.1-11.9l.1 .8l0 12.4l.1-8.4l.1-1.8l.1 8.2l.1-.5l0-3l.1-12.9l.1 12.1l.1 .1l0 14.7l.1-17.7l.1-4.6l.1 13.5l0-12.1l.1 3.1l.1-3.3l.1 6.1l.1-.3l0-20.7l.1 5.8l.1 20l.1 4.1l0-11.9l.1-.4l.1 2.4l.1 1.8l.1-12.3l0 28.4l.1-11.5l.1-10.1l.1 1l0 .1l.1 7.5l.1-17.7l.1 6.4l.1 1l0 3l.1 11.4l.1-4.7l.1 4.1l0-7.1l.1 8.1l.1-7.6l.1 3.2l.1-3.1l0 11.8l.1-5.7l.1-6.7l.1-4.2l0 11.8l.1-11.4l.1-16.8l.1 22.2l0 3.2l.1 6.5l.1-1.4l.1-6.3l.1-1.1l0-5.6l.1-10.1l.1 18.7l.1-6.6l0-9.9l.1 7.2l.1 2.5l.1 .3l.1 8.4l0 .3l.1-13.4l.1-5l.1 2.6l0 .2l.1-5.2l.1 1.2l.1 13.7l.1-4.2l0 14.6l.1-20.3l.1 6.4l.1 .5l0-6.7l.1 14.9l.1-8.6l.1 5.6l.1-16.7l0 19.5l.1-4l.1-6.5l.1-10.3l0 13.8l.1 7.7l.1-4.1l.1-6.3l.1-1.5l0 11l.1-15.6l.1 13.1l.1 .5l0-3.8l.1 5.6l.1 .1l.1-5.5l0 11.5l.1-10.6l.1 4.6l.1-9.1l.1 7.4l0-11.8l.1 4.1l.1-1l.1 1.9l0 6.1l.1-7.3l.1-1.6l.1 3.6l.1-1.6l0-.1l.1 4l.1 1.5l.1-3.9l0-.3l.1-3.5l.1-4.6l.1 11.1l.1 .7l0-18.9l.1 16.6l.1-.2l.1 4.1l0-7.2l.1 15.1l.1-8.2l.1-2.4l.1 2.3l0-5.6l.1-6.6l.1 5.7l.1 4.9l0 10.7l.1-8.7l.1-13.4l.1-2.5l0 7.6l.1-2.2l.1 .5l.1 14l.1-5.7l0 .7l.1-7.3l.1-3.7l.1 7.7l0-14.8l.1 16.1l.1 2l.1 .1l.1 8.5l0-16.7l.1 8.1l.1-7.6l.1 1.5l0-.7l.1 12.6l.1-6.6l.1-.5l.1-4l0 7.9l.1 .3l.1-14.1l.1 16.2l0-9.5l.1 7.8l.1-12l.1 8.5l.1-.5l0 2.9l.1 6.1l.1-25.2l.1 14.5l0-11.9l.1 6.5l.1 10.2l.1-2.4l0-7l.1 3.5l.1 4.1l.1-6.4l.1-3.6l0-2.7l.1-4.4l.1 12.6l.1 2.8l0-.1l.1 11.2l.1-23.8l.1-2.5l.1 34.6l0-22.7l.1 4.2l.1-1.4l.1 8.3l0-8.9l.1 10.9l.1-16.2l.1-2.5l.1-2.4l0 18.6l.1-2.4l.1-3.3l.1-14l0 12l.1-13.6l.1 10.8l.1-3.4l.1 12.8l0 1.2l.1-5.1l.1 2.8l.1 1.3l0-12.1l.1-8.5l.1 16.3l.1-3.2l0-11.3l.1 9.9l.1-5.2l.1 .2l.1-3.8l0 .6l.1 6.3l.1 7.6l.1-13.5l0 14.2l.1-7.4l.1-2.3l.1-22.2l.1 19.9l0 2.1l.1 5.6l.1-1.2l.1 7.6l0 4l.1-11.5l.1-2.5l.1 4.2l.1-1l0 0l.1-16.7l.1 18.6l.1-19.9l0 20.2l.1-2.6l.1-1.1l.1-5l.1-7l0 3.9l.1-1.2l.1 6.3l.1 2.2l0 .9l.1 5.8l.1-25.7l.1 19.6l0 3.8l.1 2.6l.1-4.8l.1 4.1l.1-13.9l0-1.5l.1 13.3l.1-14.3l.1 4l0 3.7l.1 .4l.1 4l.1-8.9l.1 16.5l0-15.2l.1 6.2l.1 12.7l.1-10.9l0-3.5l.1-3.6l.1 4.1l.1 6l.1-7l0 .9l.1 19.1l.1-11.6l.1-4l0 1.5l.1-5.3l.1-16.2l.1 17.5l.1 3.1l0-2.3l.1 4.5l.1-1.5l.1 .7l0-8.5l.1 7.5l.1-4l.1-1.8l0 8.5l.1-10.3l.1-8.8l.1 14.8l.1-3.7l0-6.6l.1-2l.1 8.4l.1 3.6l0-5.4l.1 10.2l.1-1.7l.1-1.2l.1-6.5l0 9.6l.1-8.4l.1 11.2l.1-3.8l0-.6l.1-9l.1-10.9l.1 24l.1-10.8l0 2.8l.1-4l.1 6.5l.1-9.8l0 18.6l.1-19.4l.1-4.3l.1 16.1l.1-5.9l0 7.7l.1-4.2l.1-.3l.1 13.5l0-21.9l.1 1.4l.1-10.5l.1 16.2l0-1.6l.1-8.4l.1 19.9l.1-14.6l.1 6.3l0-18.5l.1 17.4l.1-8.9l.1 10.4l0 15.7l.1-29.8l.1 3l.1 .5l.1 9.8l0-11.8l.1 15l.1-.8l.1-11.8l0 1.1l.1-9.7l.1 20l.1-7.8l.1-.8l0-4.6l.1 15l.1-7l.1 3.6l0-7l.1-22.8l.1 21.3l.1-7.9l.1 8.5l0 7.3l.1-4.6l.1 2l.1 1l0-7.3l.1 2l.1 9.4l.1 7.5l0-9l.1-6.7l.1-8.1l.1 9.8l.1-2.7l0-4.1l.1-1.2l.1 13.9l.1-3l0-6.7l.1 8.7l.1 1.7l.1-3.3l.1-2.3l0-8.4l.1 11.9l.1 1.8l.1-2.5l0-9.1l.1 16.7l.1-12.9l.1-5.8l.1 11l0 1.1l.1 2.8l.1-1.1l.1-4.6l0-11.2l.1 5.8l.1 7.2l.1 6l.1-1.8l0-15.8l.1 17.3l.1-16.4l.1 6.8l0-6.9l.1 5.2l.1 6.7l.1-3.7l0 2.9l.1 4.5l.1-5.7l.1-1l.1 5.7l0-4.2l.1-7.6l.1 5.6l.1 6.4l0-19.3l.1 17.4l.1-13.8l.1 6.8l.1-6.4l0 6.9l.1 8.2l.1-16.1l.1 14.3l0 4.2l.1 .2l.1-12l.1 6.6l.1-.2l0 5.6l.1-25.3l.1 11l.1-2.9l0 6.7l.1-8.1l.1 12.9l.1-14.6l.1 11.4l0 2.9l.1-9.1l.1 2.5l.1 .4l0 12.4l.1-3.7l.1 1.9l.1-2.7l0-5.8l.1 6.7l.1-6l.1 6.4l.1-3.8l0-6.8l.1-4.9l.1-7.3l.1 14.8l0-.7l.1-10.4l.1 22.2l.1-3.3l.1-13.6l0-1.2l.1-8.3l.1 1.4l.1 1.5l0 7.3l.1 5.9l.1-9.2l.1 20.5l.1-9.6l0 8l.1-7.4l.1 14.2l.1-19.1l0 3.8l.1-9.2l.1 18.5l.1-6.9l.1-9.3l0 17l.1-8.7l.1 11.6l.1-29.3l0 22l.1-5.9l.1-1.8l.1 12.6l0-6.4l.1 5.9l.1-13.8l.1-7.5l.1 25.1l0-12.8l.1 8.1l.1-11.2l.1-1.7l0-2.5l.1 2.1l.1 14.2l.1-1.6l.1-7.1l0-5.8l.1 9.9l.1-2l.1-6.1l0 2.3l.1-7.4l.1 14.7l.1-10.2l.1 3l0 0l.1 2.1l.1 2.2l.1-14.3l0 14.7l.1-6.9l.1 2.1l.1 5l.1-6.2l0-.3l.1-10.9l.1 17.9l.1-9.3l0 .4l.1-2.9l.1 11.3l.1-6.3l0 9.4l.1-9.7l.1-6.6l.1-3.5l.1 25.4l0-10.2l.1-5.5l.1 12.8l.1-32.7l0 20.3l.1 12.1l.1-37.6l.1 24.3l.1 14.7l0-6l.1-.7l.1-3.8l.1-14.9l0 18.4l.1-.8l.1-3.7l.1-4.1l.1 2.2l0 10l.1-14.4l.1 11.7l.1-.2l0-27.3l.1 32.4l.1-9.8l.1 5.7l.1-11.3l0 2.3l.1 8.4l.1-2.2l.1 .3l0-7.4l.1 13.8l.1-12.3l.1 .4l.1 1.9l0 3.1l.1-8.3l.1 .8l.1 2.8l0 1l.1-4.6l.1 .1l.1 11.4l0 1l.1-4.4l.1 1.7l.1-.7l.1-2.3l0-12.6l.1 10.5l.1-.9l.1-4.8l0 10.4l.1-1.8l.1 8.1l.1-5.2l.1-9.9l0 7.5l.1-.3l.1-15.4l.1-1.6l0 13.3l.1 6.3l.1 2.5l.1-7.4l.1 6.3l0-5.9l.1 3l.1-2.1l.1 1.4l0-12.2l.1 10.9l.1-14.9l.1 16.5l.1-16.3l0 19l.1-7.6l.1 4.4l.1 3.5l0-23.7l.1 16.7l.1 6.6l.1 3.6l0-13.2l.1-.9l.1 4.2l.1 5l.1-.8l0 4.4l.1-3.9l.1-1l.1-7.3l0-1.1l.1 12.4l.1 5.4l.1-26.9l.1 14.5l0 5.1l.1-6l.1 6.3l.1-1.5l0 10.5l.1-10.7l.1-15.1l.1 6.7l.1 7.7l0-2.2l.1-4.6l.1-2.6l.1 12.1l0-2.7l.1-3l.1-5.3l.1 8.8l.1-5.6l0-2.5l.1 5.6l.1-3.5l.1-5.6l0 16.1l.1-8.3l.1-1l.1-16l0 29.2l.1-6.7l.1 4.1l.1-2.6l.1-7.9l0 7.7l.1-4.5l.1-.9l.1 1.5l0-7.9l.1 3.7l.1 7l.1-1.8l.1-4.9l0 5.6l.1-6.8l.1 3.6l.1 2.9l0-1.1l.1 4.1l.1-8.4l.1 5.6l.1 .7l0-2.2l.1-20.6l.1 9.8l.1 12.6l0 1.8l.1-10.9l.1 10.7l.1-14.4l.1 12.9l0-12.2l.1-9.4l.1 19.6l.1-7.3l0-.8l.1-14.6l.1-1.5l.1 26.6l0-15.3l.1 2l.1 6l.1-1.8l.1 9.9l0-.8l.1-4.6l.1 7.1l.1-10.5l0 1.2l.1-11.4l.1 18.9l.1-17.2l.1 7.9l0 .6l.1 2.2l.1-.3l.1 4.7l0 1.2l.1-15.8l.1 23.6l.1-21.5l.1 4.9l0 1.1l.1-6.8l.1 8.2l.1-1.7l0-3.1l.1 5.7l.1-8.6l.1 .8l.1 7.7l0-4l.1 9.1l.1-7.8l.1 1.2l0 9.7l.1-8.8l.1-4l.1 10.1l0 1.7l.1-7.4l.1 3.8l.1 2l.1-6.4l0 6.3l.1-6.7l.1-7.7l.1 6.1l0 1.1l.1 7.5l.1-16.7l.1 12.4l.1-16.6l0 18.5l.1-4.2l.1 8l.1-10.1l0 10.8l.1-8.7l.1-13.8l.1 8.9l.1 13.1l0-14.8l.1 14l.1-4.5l.1 1.5l0-.9l.1-2.5l.1 13.8l.1-22.3l.1 9.1l0 5.4l.1-8.2l.1-9.8l.1 17.9l0-11l.1 5.6l.1-1.3l.1 4.4l0-4.1l.1-4.3l.1 14l.1-4.4l.1-1.3l0 .4l.1 6.1l.1-6l.1 3l0-9.5l.1 2.9l.1-1.3l.1-1.5l.1 5.9l0 2.5l.1-11l.1 8.2l.1 1l0-17.5l.1 22.3l.1-15l.1-4.4l.1 13l0 1.5l.1-6.6l.1 7.6l.1 6.5l0-20.3l.1-4.6l.1 21.3l.1-13.3l.1 3.9l0 1.6l.1-5.7l.1 8.5l.1-.8l0-3.3l.1-1.3l.1 16.4l.1-23.7l0 5l.1-4.2l.1 9.9l.1 4.9l.1-10.3l0 .1l.1-3.7l.1 2.5l.1 10.6l0 1.1l.1-4.9l.1-4.6l.1 3.6l.1 3.1l0-4.8l.1 11.8l.1-9.9l.1 12.3l0-27.4l.1 24.9l.1-26.3l.1 8.9l.1-1.8l0 2.4l.1 8.9l.1-3.4l.1-13.1l0 20l.1-4.7l.1-9.2l.1 12l.1-19.4l0 21.7l.1-1.9l.1-5.4l.1 5.5l0-3l.1-1.9l.1 1.3l.1-3.9l0-.4l.1 .4l.1 1l.1 .9l.1-2.1l0-.3l.1-3.1l.1-8.1l.1 18.3l0-20l.1 8.8l.1-1.4l.1 11.8l.1-5.8l0-.5l.1 4.5l.1-7.3l.1 12.3l0-1.4l.1-11.9l.1 3.3l.1 13.1l.1-13.1l0 2.3l.1-5.4l.1 7l.1-.3l0 6.1l.1-5l.1 2.1l.1-6.9l.1 15.9l0-11.6l.1-8.9l.1 23.8l.1-20.1l0 1.9l.1 2.3l.1-1.4l.1 6.8l0-10.7l.1 4.5l.1 12.1l.1-15.2l.1 11.7l0-.9l.1-8.3l.1 5.5l.1-4l0-.7l.1 2.9l.1-3.9l.1 12l.1-23.2l0 7.7l.1 10.5l.1-2.6l.1-13.4l0 17.1l.1 4.3l.1-27.7l.1 7.5l.1 7.7l0-11.4l.1 10.6l.1-1.9l.1 .9l0-1.3l.1 11.3l.1-6.1l.1-2.1l.1 8.6l0 1.5l.1-7l.1-13.9l.1 14.3l0-9.5l.1-1.5l.1-.6l.1 5.7l0 15l.1 2.4l.1-6.2l.1-4.2l.1-1.3l0 2.5l.1-.8l.1-7.1l.1 11.6l0-11.6l.1 .3l.1 14.5l.1-11.4l.1 1.4l0-4.1l.1 .4l.1 16.5l.1-29.5l0 15.6l.1-6.6l.1 .8l.1 12.5l.1-5.4l0 1.1l.1-20.2l.1 26.7l.1-21l0 6.3l.1 7.4l.1 5.3l.1-4.6l.1-6.6l0 10.8l.1-7.2l.1-3.2l.1-.5l0 7.8l.1-7.4l.1-.7l.1 17.4l0-4.9l.1 1.6l.1-3.7l.1-10.5l.1 1.9l0 1l.1 6.4l.1-11.5l.1 17.5l0-1l.1-13.8l.1 7.4l.1-10.5l.1 2.1l0-.9l.1 12.2l.1-1.3l.1 6.1l0-9.8l.1 .2l.1 3.7l.1-1.8l.1-3.4l0-5.4l.1 10.6l.1 .2l.1-3.2l0-5l.1-11.9l.1 8.9l.1 21.2l.1-4l0-5l.1 9.5l.1-19.7l.1 10.7l0 2.5l.1-6.3l.1-3.6l.1 4.8l0-2.4l.1-7l.1 12.8l.1-5.8l.1 10.7l0-3.5l.1-15.1l.1 12.4l.1 1.1l0-11.7l.1 9.2l.1-10l.1-9.6l.1-2.7l0 20.8l.1-4.1l.1 6.1l.1-18.1l0 10.2l.1-20.8l.1 28.2l.1-2.7l.1 16.4l0-12.5l.1-.3l.1-7.5l.1-3.7l0 12l.1-3.7l.1-5.6l.1 5.2l.1-5.7l0-7.8l.1 16.8l.1-6.1l.1-7l0 8.5l.1-12.1l.1 15l.1-11.1l.1 6.9l0-2.7l.1 8.7l.1-12.7l.1 15.2l0-14.9l.1 8l.1-1.8l.1-8.5l0 18.6l.1-14l.1 3.2l.1 5.9l.1-9.5l0 6.3l.1-16.2l.1 19.3l.1-16.4l0 1.9l.1 8.5l.1 6.9l.1-4.1l.1 7.5l0-3.3l.1-.5l.1-6.3l.1 10.9l0-11.7l.1 6.4l.1-10.2l.1 2.7l.1 8.3l0-5.6l.1 .2l.1 5l.1-1.5l0-.8l.1 4.6l.1 1.5l.1-8.7l.1 11.5l0-13.5l.1-2.6l.1 9l.1-5.9l0 7.7l.1-9.5l.1-22.8l.1 24l0 4.2l.1-.2l.1 8l.1-3.8l.1-2.4l0 1.8l.1-4.5l.1-9.1l.1 18.1l0-4.3l.1-4.9l.1 7.9l.1-1.7l.1-8.6l0-.7l.1 2l.1 7.8l.1-9.4l0-2.2l.1 9.1l.1-3.3l.1 2.3l.1-.2l0 1.5l.1-6.1l.1 7.4l.1-18.6l0 9.3l.1 6.5l.1-20.7l.1 17.8l.1 14l0-21.2l.1 3.1l.1 5.5l.1-.8l0 4.1l.1 3.2l.1-.7l.1-28l0 25.6l.1-4.8l.1-13.8l.1 19l.1-3.5l0 2.3l.1 5.6l.1-12.1l.1-.9l0 6.1l.1-.1l.1-6.2l.1-.5l.1-11.2l0 11.1l.1-.8l.1 9.9l.1 4l0-18l.1 14.8l.1-9.8l.1 4.4l.1 5.3l0-6.5l.1-12.3l.1 3.4l.1 13.7l0-1.1l.1 9.7l.1-4.7l.1-3.4l.1-3.4l0-3.2l.1 6l.1-12.4l.1 14.5l0-10.3l.1 10.7l.1-3.1l.1-3.8l0-4.4l.1 10l.1-1.5l.1-1.1l.1-3.6l0-9.2l.1 5.9l.1 7.4l.1-.1l0-11.9l.1-.8l.1 2.9l.1 7.6l.1 5.2l0-.7l.1-5.3l.1 6.6l.1-4.5l0-19.5l.1 15.7l.1-3.7l.1 11.7l.1-16.4l0 13.4l.1-3.2l.1-.9l.1 1l0 3.9l.1-8l.1-13l.1 19.9l.1-8.5l0 12.1l.1-8.2l.1 6.1l.1-15l0 14l.1-7.7l.1 4l.1 7.5l0-7.2l.1 .4l.1-5.8l.1 7.1l.1 8.7l0-4.3l.1-2.3l.1-8.4l.1 7.6l0-9.1l.1 8.6l.1-4.7l.1-4.6l.1 6.2l0 10.7l.1-18.4l.1 10.4l.1-7.4l0 20.5l.1-14.5l.1 .4l.1 2.6l.1-2.1l0 4.7l.1-.3l.1-8.6l.1 5.1l0-7.1l.1 2.7l.1 7l.1-4.4l.1 2.4l0-6.1l.1-9.7l.1 13.2l.1 3.5l0-21.5l.1 20.2l.1 2.4l.1-1.8l0 9.9l.1-24.4l.1 3.7l.1 .2l.1 4.1l0 5.4l.1 2l.1 1.2l.1-10l0-1.2l.1 .9l.1 11.4l.1-21.5l.1 20.4l0-4.6l.1 .4l.1 2.8l.1 9.8l0-5.9l.1-3.4l.1-10.7l.1 9.9l.1-5.1l0 9.3l.1-4.4l.1-11.8l.1-5.7l0 12.5l.1-1.7l.1 3.2l.1 2.1l.1-1.7l0-6.5l.1 11.2l.1 2.3l.1-10.6l0 8l.1-6.4l.1 8.6l.1-7.6l0 4.6l.1 .5l.1-8.3l.1 8.8l.1 9.6l0-6.3l.1-5.3l.1-14.8l.1 15.5l0 4.3l.1-3.3l.1-10.9l.1 4.9l.1-.9l0-.6l.1-7.6l.1 18.9l.1-17.6l0 5.7l.1 9.7l.1-10.6l.1-5.4l.1 12.3l0-9.1l.1 19.6l.1-3.6l.1-12.2l0 3l.1-4.4l.1 1.2l.1-2.6l.1 14.7l0-.1l.1-17.2l.1 6.4l.1 1.9l0 1.6l.1-14.5l.1 17.5l.1-7.2l0-8.7l.1 15.2l.1 0l.1-1.4l.1 8.9l0-19.9l.1 1.4l.1-8l.1 15.3l0-3.5l.1-1.9l.1-8.7l.1 11.2l.1-1.2l0 7.9l.1-6.8l.1 2.4l.1-8.1l0 2.7l.1 12l.1-.3l.1-8.7l.1 5.4l0-4.9l.1-6.8l.1 16.1l.1-10.1l0 8.6l.1-5.3l.1 .7l.1 5.2l.1 7.4l0-10.6l.1 4.3l.1-8l.1 .5l0-5.9l.1 2.7l.1 14.6l.1-.9l0-4.6l.1-4l.1-2.7l.1 5.8l.1-6.4l0 7.6l.1-13.4l.1 11l.1 .4l0-.2l.1-3.3l.1-11.4l.1 10l.1-5.5l0 11.3l.1-9.3l.1-.8l.1-1.9l0 12.8l.1-.2l.1-5.5l.1-4.1l.1 9.4l0-6.3l.1-11.4l.1 23.6l.1-3.6l0-5.7l.1-5l.1 3.7l.1-4.1l.1-7l0 14l.1 1.8l.1-15.7l.1 20.3l0-15.9l.1-4l.1 8.1l.1 5.7l0-4.8l.1 4.8l.1-20.5l.1 12.3l.1 4l0-2.6l.1-.7l.1-4.1l.1 5.7l0 7l.1-2.7l.1 4l.1 2.1l.1-9.8l0 5.3l.1-2.3l.1-6l.1-1.9l0 5.8l.1 4.3l.1-8.4l.1 9.8l.1-17.1l0 15.3l.1-11.9l.1 14.7l.1-11.8l0 2.7l.1 4.3l.1-9.1l.1 4.1l.1 3.2l0 1.4l.1-4.2l.1 2.5l.1 5.8l0-.4l.1-3.1l.1 5.5l.1 4.1l0-16.8l.1 9.7l.1-22.5l.1 17.4l.1-4.3l0 .2l.1 5.3l.1 2.9l.1 6.7l0-3.2l.1 1.9l.1 .5l.1 .6l.1-10.3l0 12.6l.1-23.9l.1 17.6l.1-7.5l0 .7l.1-.9l.1 3.7l.1 .8l.1-2.4l0-5.5l.1 1.3l.1 3.8l.1 9.8l0-3.5l.1-5.5l.1-8.4l.1-2.1l.1 14.7l0-5.9l.1 5.8l.1 1.7l.1-5.7l0-3.6l.1 2.5l.1 14.8l.1-21.7l0 20.7l.1-19.6l.1-3.3l.1-16.6l.1 35.9l0-5.2l.1-4l.1-2.3l.1 6.1l0-11.2l.1 11l.1-2.9l.1 .4l.1-5.7l0 2l.1 12.3l.1-14.8l.1 11.4l0-.4l.1-.8l.1-2.6l.1-6.1l.1 .1l0 12.8l.1-7.8l.1-8.4l.1 1l0 5.4l.1 5.6l.1-8.6l.1 6.1l.1 6.2l0 5.7l.1-17.1l.1-5.6l.1-7l0 5.8l.1 7.1l.1 4.1l.1-2.3l.1-3.5l0 11.6l.1-7.6l.1 3.4l.1-7.4l0 .6l.1 16.7l.1-3.3l.1-8.5l0-3.9l.1 8.2l.1-5.2l.1 1l.1 3l0 .4l.1-6l.1-6l.1 11.9l0-7.2l.1 2.2l.1 4.8l.1 .1l.1 1.8l0-6l.1-3.1l.1 6l.1 8.1l0-10.3l.1 1.4l.1 1.4l.1-10.3l.1 12.3l0-2.3l.1-2.8l.1-10.4l.1 17.3l0-7.4l.1 11.6l.1-6.6l.1-1.8l.1 5.6l0-11.1l.1 2.1l.1 5.7l.1-4.6l0 4.4l.1-2l.1-.3l.1-11.6l0 14.9l.1-8.6l.1-4.4l.1 7.7l.1-3.7l0-12.2l.1 22.3l.1 .3l.1-10.4l0 3.9l.1-11.4l.1 14.6l.1-3.6l.1-4l0 16.3l.1-22.7l.1 10.5l.1 4.9l0-1.2l.1-.5l.1-13l.1 14.6l.1-14.5l0 13.2l.1-6.4l.1 5.4l.1-1.9l0-7.3l.1 7.7l.1 2.6l.1-10.4l.1-9.2l0 17.6l.1 .3l.1 1.5l.1 4.5l0-3.6l.1-6.5l.1-127.3l.1 127.7l0 1l.1-3.1l.1-7l.1 11.9l.1 7.1l0-9.1l.1-2.3l.1-10l.1 13.7l0 3.7l.1 1.4l.1-8.9l.1 5.5l.1-8.7l0-2.6l.1 9.9l.1-4.1l.1 3.8l0-3.9l.1 11.6l.1-3l.1-16.7l.1 20.3l0-2.3l.1-9.5l.1 9l.1-2.7l0 2.3l.1-15.9l.1 12l.1-13.1l.1 10.7l0 10.1l.1-9.4l.1 11l.1-17l0 18.8l.1-19.5l.1 3.7l.1-7.5l0 8.2l.1 1.2l.1 4.1l.1 1.1l.1 .5l0-1.9l.1-.5l.1-20.8l.1 16.5l0 7.7l.1-14.7l.1 9.4l.1 4.2l.1-4.3l0 4.1l.1-7.2l.1 5.6l.1-9.5l0 14.5l.1-8.3l.1 8.7l.1-21.7l.1 21l0-22.4l.1 17.3l.1-8.9l.1 11.5l0-2.2l.1-12.4l.1 17.9l.1-11.5l.1 12.6l0-25.5l.1 9.3l.1 18l.1-8.2l0-9.9l.1-11l.1 19.3l.1 10l0-19.7l.1 13.2l.1-3.8l.1 2.6l.1 5.1l0 4.5l.1-24.1l.1 11.2l.1 .7l0 3.3l.1-5.7l.1 8.7l.1 .5l.1 1l0 .3l.1-9.5l.1 9.9l.1-22.8l0 15.5l.1 1.7l.1-1l.1-13.4l.1 23.9l0-11.9l.1-13.5l.1 5.6l.1 5.6l0 4.4l.1-21.6l.1 21.8l.1-17.8l.1 20.7l0 3.2l.1-8.6l.1 2.4l.1 10.7l0-12.8l.1-21l.1 21.7l.1-4l0 3.2l.1 0l.1-1.8l.1 .7l.1 .9l0-2.6l.1-.5l.1 2.1l.1 8.9l0-3.2l.1 1.9l.1-5.1l.1-13.4l.1 10l0 4.2l.1-18.8l.1 10.5l.1 9.3l0-6.8l.1-4.3l.1 .4l.1 10.3l.1-4.8l0 5l.1 4l.1-11.2l.1 14.9l0-10.1l.1-8.6l.1 3.1l.1 4.7l.1-3.2l0 1.7l.1-9.2l.1 6.3l.1-1.7l0 9.1l.1-2.7l.1 1.9l.1-10.7l0 1.3l.1 5.4l.1-5.7l.1 5.8l.1 1.7l0-5.4l.1 2.1l.1-17.7l.1 27l0-14.6l.1 12.1l.1-11l.1 11.3l.1 4l0-21.9l.1 13.8l.1-14.6l.1 17.5l0 .4l.1-14.3l.1 13.4l.1-4.1l.1 5.3l0-3.2l.1 10.8l.1-10l.1-1.4l0-7.9l.1-.3l.1 7.9l.1-1.4l.1 1l0-18.8l.1 22.5l.1-10.4l.1 5.3l0 8.2l.1-11.6l.1-4.9l.1 6.7l0 8.9l.1-11l.1-.4l.1 7.6l.1-9.5l0 15.9l.1-2.2l.1-4.6l.1-2.4l0-6.7l.1-.3l.1 11.4l.1-12.1l.1-5.1l0 6.4l.1 7.2l.1 .9l.1 3l0 6.3l.1-6.5l.1 3.8l.1-9.7l.1 .5l0-1.8l.1 .3l.1-1.2l.1 6.9l0-.9l.1-5.5l.1-8.2l.1 21.1l.1-3.5l0-4.3l.1 3.8l.1-2.2l.1-3.4l0 4.6l.1-10.5l.1 .8l.1-.4l0 2.3l.1-2.5l.1 22.8l.1-23.1l.1 11.1l0-23.6l.1 22.5l.1-6.5l.1 10.9l0-1.9l.1-8.3l.1-1.2l.1-9.7l.1 6.1l0-3.7l.1-6.7l.1 25.5l.1-20.7l0 16.5l.1-7l.1 3l.1-7.4l.1 .4l0 1.9l.1 7.2l.1 7.3l.1-10.8l0 .7l.1-.6l.1-3.9l.1-12.2l.1 7.8l0 5.3l.1 6.8l.1 3.7l.1-19.5l0 7.1l.1 4.8l.1 9.5l.1-6.7l0-7.2l.1 1.6l.1 6.1l.1-4.4l.1 3.2l0 1l.1-13.6l.1 5.3l.1 3.3l0 5.3l.1-13.8l.1 18.7l.1-9.8l.1 8l0 6.2l.1-9.1l.1 9l.1-9.7l0 6.1l.1-8.1l.1 3.2l.1 5.8l.1-6l0 1.7l.1-16l.1 .3l.1 5.3l0-.8l.1-14l.1 18.5l.1 .6l.1-11.7l0 8.2l.1 9.9l.1-18.2l.1 11.5l0-10l.1-1.6l.1 15.5l.1-3l0-4l.1 11.8l.1-1.8l.1-6.7l.1 1.2l0 5.3l.1-4.6l.1-3.4l.1 7l0 .5l.1-3.4l.1 4.9l.1-1.1l.1-2.2l0 8.6l.1-7.6l.1-5.2l.1 7.4l0-14.5l.1 6.4l.1-8.1l.1 10.9l.1-5.3l0 5.3l.1 5.5l.1-10.5l.1 8.7l0-8.4l.1 9.6l.1-5.6l.1 2.1l.1-11.9l0 12l.1-10.8l.1 4.7l.1-8.4l0 15l.1-9.8l.1 .3l.1 1.5l.1 3.2" fill="none" stroke="#00ff00" stroke-width="0.48" stroke-linejoin="round"/>
<text class="tt" x="776.3" y="460.9" text-anchor="middle">Häufigkeit der Streuung</text>
<g class="ax">
<rect x="195.05" y="465.55" width="1162.5" height="276.25"/>
<path d="M267.39 741.80v-11.50M267.39 465.55v11.50M463.07 741.80v-11.50M463.07 465.55v11.50M658.75 741.80v-11.50M658.75 465.55v11.50M854.43 741.80v-11.50M854.43 465.55v11.50M1050.11 741.80v-11.50M1050.11 465.55v11.50M1245.79 741.80v-11.50M1245.79 465.55v11.50M195.05 711.11h11.50M1357.55 711.11h-11.50M195.05 680.41h11.50M1357.55 680.41h-11.50M195.05 649.72h11.50M1357.55 649.72h-11.50M195.05 619.02h11.50M1357.55 619.02h-11.50M195.05 588.33h11.50M1357.55 588.33h-11.50M195.05 557.63h11.50M1357.55 557.63h-11.50M195.05 526.94h11.50M1357.55 526.94h-11.50M195.05 496.24h11.50M1357.55 496.24h-11.50"/>
</g>
<path d="M544.02 741.80V741.10h21.12V741.80zM565.14 741.80V737.50h21.12V741.80zM586.26 741.80V704.40h21.12V741.80zM607.38 741.80V627.00h21.12V741.80zM628.50 741.80V490.00h21.12V741.80zM649.62 741.80V532.40h21.12V741.80zM670.74 741.80V584.40h21.12V741.80zM691.86 741.80V662.40h21.12V741.80zM712.98 741.80V705.90h21.12V741.80zM734.10 741.80V723.00h21.12V741.80zM755.22 741.80V737.10h21.12V741.80zM776.34 741.80V739.50h21.12V741.80zM797.46 741.80V741.40h21.12V741.80z" fill="#0072bd" fill-opacity="0.6" stroke="none"/>
<path d="M248.34 741.80h21.12M311.70 741.80h21.12M396.18 741.80h21.12M459.54 741.80h21.12M1156.50 741.80h21.12M1283.22 741.80h21.12" fill="none" stroke="#000" stroke-width="0.85" stroke-opacity="0.22"/>
<path d="M544.02 741.80V741.10M544.02 741.10h21.12M544.02 741.80h21.12M565.14 741.80V737.50M565.14 737.50h21.12M565.14 741.80h21.12M586.26 741.80V704.40M586.26 704.40h21.12M586.26 741.80h21.12M607.38 741.80V627.00M607.38 627.00h21.12M607.38 741.80h21.12M628.50 741.80V490.00M628.50 490.00h21.12M628.50 741.80h21.12M649.62 741.80V490.00M649.62 532.40h21.12M649.62 741.80h21.12M670.74 741.80V532.40M670.74 584.40h21.12M670.74 741.80h21.12M691.86 741.80V584.40M691.86 662.40h21.12M691.86 741.80h21.12M712.98 741.80V662.40M712.98 705.90h21.12M712.98 741.80h21.12M734.10 741.80V705.90M734.10 723.00h21.12M734.10 741.80h21.12M755.22 741.80V723.00M755.22 737.10h21.12M755.22 741.80h21.12M776.34 741.80V737.10M776.34 739.50h21.12M776.34 741.80h21.12M797.46 741.80V739.50M797.46 741.40h21.12M797.46 741.80h21.12M818.58 741.80V741.40" fill="none" stroke="#000" stroke-width="0.85" stroke-opacity="0.9" stroke-linecap="square"/>
<text class="tk" x="267.39" y="758.7" text-anchor="middle">-10</text>
<text class="tk" x="463.07" y="758.7" text-anchor="middle">-5</text>
<text class="tk" x="658.75" y="758.7" text-anchor="middle">0</text>
<text class="tk" x="854.43" y="758.7" text-anchor="middle">5</text>
<text class="tk" x="1050.11" y="758.7" text-anchor="middle">10</text>
<text class="tk" x="1245.79" y="758.7" text-anchor="middle">15</text>
<text class="tk" x="189.5" y="746.05" text-anchor="end">0</text>
<text class="tk" x="189.5" y="715.36" text-anchor="end">500</text>
<text class="tk" x="189.5" y="684.66" text-anchor="end">1000</text>
<text class="tk" x="189.5" y="653.97" text-anchor="end">1500</text>
<text class="tk" x="189.5" y="623.27" text-anchor="end">2000</text>
<text class="tk" x="189.5" y="592.58" text-anchor="end">2500</text>
<text class="tk" x="189.5" y="561.88" text-anchor="end">3000</text>
<text class="tk" x="189.5" y="531.19" text-anchor="end">3500</text>
<text class="tk" x="189.5" y="500.49" text-anchor="end">4000</text>
<text class="tk" x="189.5" y="469.80" text-anchor="end">4500</text>
<text class="lb" x="776.3" y="776.6" text-anchor="middle">Abweichung der Gierrate in °/s</text>
<text class="lb" transform="translate(157.9 603.6) rotate(-90)" text-anchor="middle">Häufigkeit</text>
</svg></body></html>
